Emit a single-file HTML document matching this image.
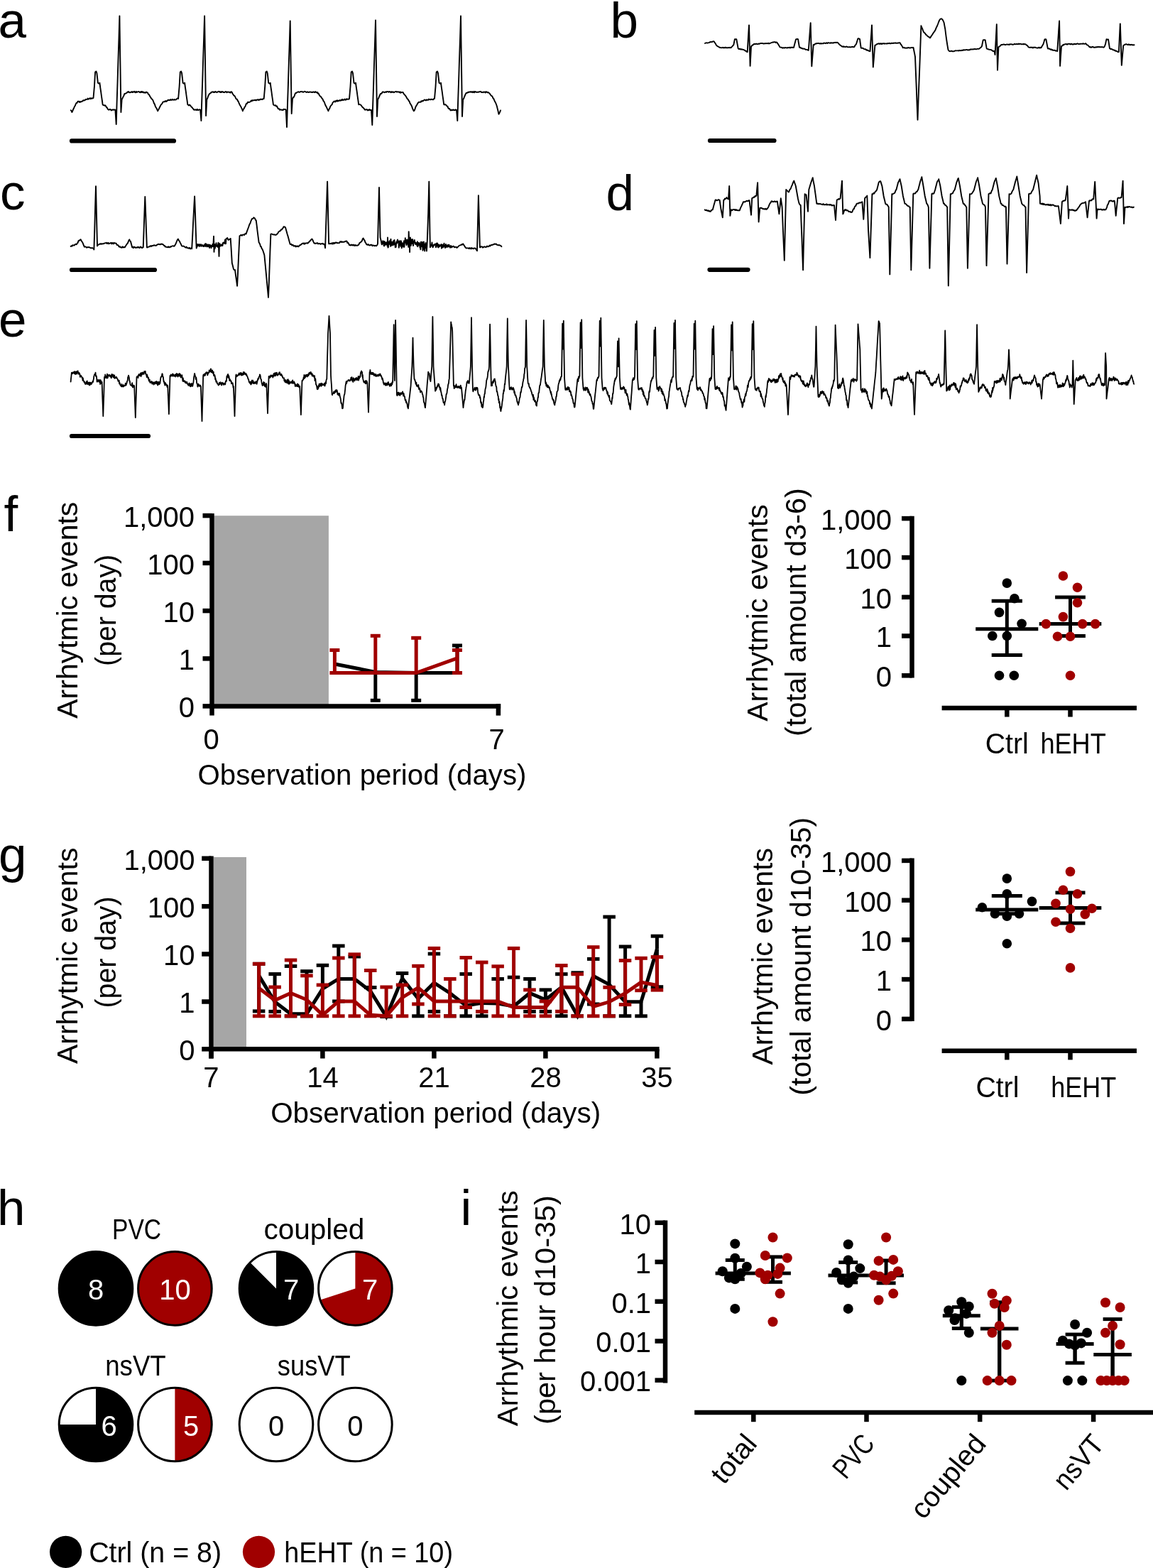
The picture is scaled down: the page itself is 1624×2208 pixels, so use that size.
<!DOCTYPE html>
<html><head><meta charset="utf-8"><title>Figure</title>
<style>
html,body{margin:0;padding:0;background:#fff;}
body{width:1624px;height:2208px;overflow:hidden;}
svg{display:block;font-family:'Liberation Sans', Arial, sans-serif;}
</style></head>
<body>
<svg width="1624" height="2208" viewBox="0 0 1624 2208">
<text x="-2.5" y="52.5" font-size="71" text-anchor="start" fill="#000">a</text>
<text x="859.5" y="52.5" font-size="71" text-anchor="start" fill="#000">b</text>
<text x="0.0" y="295.0" font-size="71" text-anchor="start" fill="#000">c</text>
<text x="853.5" y="295.5" font-size="71" text-anchor="start" fill="#000">d</text>
<text x="-2.0" y="474.0" font-size="71" text-anchor="start" fill="#000">e</text>
<text x="5.5" y="748.0" font-size="71" text-anchor="start" fill="#000">f</text>
<text x="-2.0" y="1228.0" font-size="71" text-anchor="start" fill="#000">g</text>
<text x="-4.0" y="1725.0" font-size="71" text-anchor="start" fill="#000">h</text>
<text x="648.5" y="1724.5" font-size="71" text-anchor="start" fill="#000">i</text>
<path d="M99.8 155.3L100.6 156.2L101.4 158.0L102.3 156.1L103.2 153.8L104.1 152.2L105.0 150.0L105.9 148.8L106.7 146.5L107.6 145.0L108.4 145.1L109.3 143.1L110.2 142.7L111.0 142.6L111.8 144.0L112.7 143.0L113.6 143.7L114.4 143.1L115.3 142.7L116.2 142.6L117.1 141.3L118.0 141.5L118.8 141.2L119.7 141.2L120.5 140.0L121.3 139.9L122.1 140.1L122.9 139.9L123.7 138.6L124.5 139.7L125.4 139.3L126.2 138.6L127.0 138.0L127.8 139.3L128.6 138.5L129.6 138.3L130.5 138.6L131.5 138.0L132.9 122.0L134.1 101.5L135.4 100.4L136.4 103.0L137.9 116.7L139.4 117.7L140.4 116.7L141.2 122.8L142.1 128.9L142.9 135.0L143.8 141.1L144.6 147.2L145.4 148.1L146.3 148.1L147.2 148.7L148.0 148.2L148.9 149.1L149.8 150.9L150.7 151.4L151.6 153.3L152.5 154.3L153.4 154.7L154.2 154.0L155.0 154.0L155.9 154.2L156.7 155.5L157.5 154.6L158.3 154.9L159.1 154.3L159.9 154.7L160.8 154.5L161.6 154.4L162.4 154.7L163.7 175.0L164.6 144.5L165.6 114.0L166.5 83.5L167.5 53.0L168.4 22.5L169.4 90.2L170.4 158.0L171.6 140.0L172.6 138.2L173.5 136.2L174.4 134.7L175.4 132.0L176.2 131.8L177.0 131.8L177.8 131.1L178.6 130.9L179.4 129.5L180.2 129.8L181.0 128.9L181.9 130.1L182.7 130.3L183.5 130.2L184.3 129.6L185.2 129.9L186.0 129.0L186.8 130.1L187.6 129.6L188.5 129.1L189.3 128.7L190.1 130.1L190.9 130.4L191.8 128.8L192.6 130.0L193.4 129.5L194.2 129.4L195.1 128.9L196.0 129.2L196.8 130.1L197.7 130.3L198.5 128.9L199.3 129.9L200.2 128.9L201.1 130.2L201.9 129.5L202.8 130.5L203.6 130.7L204.4 129.9L205.3 130.8L206.2 129.6L207.0 130.0L207.9 130.4L208.8 132.6L209.6 132.8L210.5 134.3L211.4 136.0L212.3 137.2L213.3 139.0L214.2 139.6L215.2 140.8L216.1 143.0L217.0 145.6L217.8 146.5L218.7 149.5L219.6 151.3L220.5 152.3L221.3 154.3L222.2 156.3L223.0 154.7L223.9 153.2L224.7 151.5L225.6 149.8L226.4 148.0L227.4 146.8L228.4 145.9L229.4 143.7L230.2 143.5L231.0 143.1L231.9 143.4L232.7 142.2L233.5 142.1L234.3 143.1L235.1 142.0L235.9 141.8L236.8 140.6L237.6 141.1L238.4 141.0L239.2 141.1L240.1 140.0L240.9 141.0L241.7 140.9L242.6 139.8L243.4 140.7L244.2 140.4L245.1 140.7L245.9 140.0L246.7 140.5L247.6 140.5L248.4 140.0L249.3 138.8L250.2 138.5L251.1 139.0L252.6 122.0L253.8 101.5L255.1 100.4L256.1 103.0L257.6 116.7L259.1 117.7L260.1 116.7L260.9 122.8L261.8 128.9L262.6 135.0L263.5 141.1L264.3 147.2L265.2 147.8L266.0 148.5L266.9 147.5L267.7 148.2L268.6 149.2L269.5 150.5L270.4 151.1L271.3 152.3L272.2 153.3L273.1 154.7L273.9 154.5L274.7 154.9L275.6 154.3L276.4 154.5L277.2 155.2L278.0 153.8L278.8 154.8L279.6 155.1L280.5 154.4L281.3 154.2L282.1 154.7L283.4 170.0L284.3 140.5L285.3 111.0L286.2 81.5L287.2 52.0L288.1 22.5L289.1 92.8L290.1 163.0L291.3 140.0L292.2 138.5L293.2 135.5L294.2 133.4L295.1 132.0L295.9 131.4L296.7 131.4L297.5 129.8L298.3 129.7L299.1 129.5L299.9 129.2L300.7 130.1L301.6 129.4L302.4 130.1L303.2 128.9L304.0 129.2L304.9 129.8L305.7 130.2L306.5 129.4L307.3 129.0L308.2 128.8L309.0 129.6L309.8 128.9L310.6 130.1L311.5 130.1L312.3 128.9L313.1 129.5L313.9 129.1L314.7 130.1L315.5 129.8L316.3 130.2L317.1 129.4L317.9 129.0L318.7 129.3L319.5 130.3L320.3 129.4L321.1 129.5L321.9 129.7L322.7 129.7L323.5 129.7L324.3 130.7L325.1 129.3L325.9 129.1L326.7 130.0L327.6 132.0L328.5 133.1L329.3 134.5L330.2 134.7L331.1 136.0L332.0 138.2L333.0 139.6L333.9 139.7L334.9 142.0L335.8 143.0L336.7 145.5L337.5 147.1L338.4 148.7L339.3 150.2L340.2 152.2L341.0 153.9L341.9 156.3L342.7 153.9L343.6 153.1L344.4 150.9L345.3 150.2L346.1 148.0L347.1 145.7L348.1 145.9L349.1 143.7L349.9 143.8L350.7 144.0L351.6 143.7L352.4 143.4L353.2 142.6L354.0 141.4L354.8 142.4L355.6 141.1L356.5 141.1L357.3 141.5L358.1 141.0L358.9 141.0L359.8 140.7L360.6 141.5L361.4 140.9L362.3 140.3L363.1 140.1L363.9 141.1L364.8 140.3L365.6 140.8L366.4 139.9L367.3 139.5L368.1 140.0L369.0 139.8L369.9 140.1L370.8 138.7L371.7 139.0L373.2 122.0L374.4 101.5L375.7 100.4L376.7 103.0L378.2 116.7L379.7 117.7L380.7 116.7L381.5 122.8L382.4 128.9L383.2 135.0L384.1 141.1L384.9 147.2L385.8 148.0L386.6 148.5L387.4 148.5L388.3 148.2L389.2 149.9L390.1 149.5L391.0 151.7L391.9 153.2L392.8 152.8L393.7 154.7L394.5 154.3L395.3 154.3L396.2 154.7L397.0 154.6L397.8 154.7L398.6 155.2L399.4 153.8L400.2 153.9L401.1 154.0L401.9 154.0L402.7 154.7L404.0 179.0L404.9 149.1L405.9 119.2L406.8 89.3L407.8 59.4L408.7 29.5L409.7 94.8L410.7 160.0L411.9 140.0L412.8 137.2L413.8 136.9L414.8 134.6L415.7 132.0L416.5 130.8L417.3 131.0L418.1 130.2L418.9 129.7L419.7 129.5L420.5 129.2L421.3 129.8L422.2 129.7L423.0 129.2L423.8 128.9L424.6 129.2L425.5 128.8L426.3 129.6L427.1 129.9L427.9 129.3L428.8 128.7L429.6 128.9L430.4 129.3L431.2 129.7L432.1 130.0L432.9 129.3L433.7 129.5L434.5 130.1L435.3 129.8L436.1 129.5L436.9 129.4L437.7 129.6L438.5 130.0L439.3 129.6L440.1 130.1L440.9 129.7L441.7 129.3L442.5 129.9L443.3 130.2L444.1 129.1L444.9 129.8L445.7 129.8L446.5 130.7L447.3 130.0L448.2 132.0L449.1 132.2L449.9 134.3L450.8 135.3L451.7 136.0L452.6 137.0L453.6 138.7L454.5 139.5L455.5 142.2L456.4 143.0L457.3 145.2L458.1 147.5L459.0 149.2L459.9 150.9L460.8 152.9L461.6 154.5L462.5 156.3L463.3 153.9L464.2 153.1L465.0 150.4L465.9 149.0L466.7 148.0L467.7 147.1L468.7 144.3L469.7 143.7L470.5 142.7L471.3 142.5L472.2 143.6L473.0 142.1L473.8 141.6L474.6 142.8L475.4 141.3L476.2 142.4L477.1 141.8L477.9 141.9L478.7 141.0L479.5 141.7L480.4 141.0L481.2 141.3L482.0 139.8L482.9 141.1L483.7 140.5L484.5 140.8L485.4 139.6L486.2 140.7L487.0 140.9L487.9 139.3L488.7 140.0L489.5 139.4L490.4 139.6L491.2 139.8L492.0 139.0L493.5 122.0L494.7 101.5L496.0 100.4L497.0 103.0L498.5 116.7L500.0 117.7L501.0 116.7L501.8 122.8L502.7 128.9L503.5 135.0L504.4 141.1L505.2 147.2L506.1 147.0L506.9 147.1L507.8 147.5L508.6 148.2L509.5 149.5L510.4 150.8L511.3 151.3L512.2 152.3L513.1 153.4L514.0 154.7L514.8 154.4L515.6 154.6L516.5 153.9L517.3 154.7L518.1 155.6L518.9 154.5L519.7 155.1L520.5 154.1L521.4 155.0L522.2 155.2L523.0 154.7L524.3 176.0L525.2 146.5L526.2 117.0L527.1 87.5L528.1 58.0L529.0 28.5L530.0 96.2L531.0 164.0L532.2 140.0L533.2 138.3L534.1 136.0L535.0 134.0L536.0 132.0L536.8 131.8L537.6 131.7L538.4 129.9L539.2 129.3L540.0 129.5L540.8 129.9L541.6 130.2L542.5 129.5L543.3 129.4L544.1 129.9L544.9 128.9L545.8 129.1L546.6 129.0L547.4 129.7L548.2 129.2L549.1 129.0L549.9 129.8L550.7 130.3L551.5 129.1L552.4 129.9L553.2 129.3L554.0 129.5L554.8 130.2L555.6 129.7L556.4 129.2L557.2 129.1L558.0 128.8L558.8 129.6L559.6 129.5L560.4 129.1L561.2 129.5L562.0 129.5L562.8 130.3L563.6 129.2L564.4 130.8L565.2 129.9L566.0 130.1L566.8 129.9L567.6 130.0L568.5 131.8L569.4 133.0L570.2 133.7L571.1 134.8L572.0 136.0L572.9 137.8L573.9 139.4L574.8 140.0L575.8 142.0L576.7 143.0L577.6 145.7L578.4 146.7L579.3 148.2L580.2 150.1L581.1 152.9L581.9 154.7L582.8 156.3L583.6 155.5L584.5 153.6L585.3 150.9L586.2 149.1L587.0 148.0L588.0 146.1L589.0 144.6L590.0 143.7L590.8 143.8L591.6 143.9L592.5 143.7L593.3 142.3L594.1 143.1L594.9 141.9L595.7 141.8L596.5 142.1L597.4 140.7L598.2 140.5L599.0 141.0L599.8 141.5L600.7 140.5L601.5 140.5L602.3 140.8L603.2 140.9L604.0 139.6L604.8 140.1L605.7 140.2L606.5 140.2L607.3 139.6L608.2 140.2L609.0 140.0L610.0 140.5L611.0 139.1L612.0 139.0L613.5 122.0L614.7 101.5L616.0 100.4L617.0 103.0L618.5 116.7L620.0 117.7L621.0 116.7L621.8 122.8L622.7 128.9L623.5 135.0L624.4 141.1L625.2 147.2L626.1 147.5L626.9 147.0L627.8 147.5L628.6 148.2L629.5 149.6L630.4 149.7L631.3 152.1L632.2 153.3L633.1 152.9L634.0 154.7L634.8 155.5L635.6 154.5L636.5 155.2L637.3 155.2L638.1 154.3L638.9 155.0L639.7 155.0L640.5 155.3L641.4 154.3L642.2 155.2L643.0 154.7L644.3 170.0L645.2 140.5L646.2 111.0L647.1 81.5L648.1 52.0L649.0 22.5L650.0 93.2L651.0 164.0L652.2 140.0L653.2 138.8L654.1 136.3L655.0 134.1L656.0 132.0L656.8 130.8L657.6 131.0L658.4 130.2L659.2 130.4L660.0 129.5L660.8 129.8L661.6 129.6L662.5 128.9L663.3 129.8L664.1 129.7L664.9 128.9L665.8 130.2L666.6 129.8L667.4 128.8L668.2 130.3L669.1 128.9L669.9 129.2L670.7 129.9L671.5 129.7L672.4 129.6L673.2 129.8L674.0 129.5L674.8 129.5L675.6 129.2L676.4 129.0L677.2 128.8L678.0 130.0L678.8 130.1L679.6 129.8L680.4 130.2L681.2 129.5L682.0 129.4L682.8 129.6L683.6 130.5L684.4 129.1L685.2 129.9L686.0 129.5L686.8 130.5L687.6 130.0L688.5 130.6L689.3 131.4L690.2 132.4L691.0 133.6L691.9 134.8L692.7 135.0L693.6 136.1L694.5 138.4L695.3 138.9L696.1 140.9L697.0 143.0L698.0 144.6L699.0 147.0L700.0 150.0L700.8 153.6L701.7 157.1L702.5 160.7L703.3 159.4L704.2 157.6L705.0 155.4" fill="none" stroke="#000" stroke-width="1.9" stroke-linejoin="round" stroke-linecap="round"/>
<path d="M993.0 61.0L993.9 60.5L994.7 60.3L995.6 60.4L996.4 60.5L997.3 60.4L998.1 60.2L999.0 59.9L999.8 59.3L1000.7 59.3L1001.5 59.0L1002.4 59.1L1003.2 59.0L1004.1 58.4L1004.9 58.3L1005.8 58.4L1006.8 60.3L1007.7 61.2L1008.7 63.3L1009.5 64.2L1010.3 64.9L1011.2 65.5L1012.0 65.6L1012.8 66.4L1013.6 66.9L1014.4 67.0L1015.3 67.1L1016.1 67.4L1016.9 67.2L1017.8 66.8L1018.6 67.4L1019.4 67.0L1020.3 67.2L1021.1 67.3L1021.9 66.6L1022.7 67.4L1023.6 67.3L1024.4 67.2L1025.2 67.2L1026.1 67.2L1026.9 66.9L1027.7 67.3L1028.6 66.8L1029.4 67.3L1030.4 66.3L1031.3 65.4L1032.3 64.2L1033.3 63.3L1034.1 59.2L1034.9 55.1L1036.1 55.2L1037.3 55.1L1038.1 59.5L1038.9 63.9L1039.7 68.3L1040.6 69.0L1041.4 69.1L1042.3 68.6L1043.1 69.5L1044.0 69.6L1044.8 69.2L1045.7 69.8L1046.5 69.9L1047.4 69.9L1048.2 70.6L1049.1 70.8L1050.0 71.8L1050.9 71.8L1051.8 73.0L1052.7 73.2L1053.8 54.3L1055.0 35.4L1056.6 92.9L1058.0 65.3L1058.8 64.8L1059.6 63.5L1060.4 63.6L1061.2 62.6L1062.0 61.8L1062.8 62.2L1063.6 62.0L1064.4 62.0L1065.2 61.5L1066.0 62.0L1066.8 62.1L1067.7 62.0L1068.5 61.5L1069.3 61.8L1070.1 61.5L1070.9 61.1L1071.7 61.0L1072.5 61.0L1073.3 61.1L1074.1 61.0L1074.9 61.3L1075.7 61.5L1076.5 61.3L1077.3 61.2L1078.1 61.4L1078.9 61.0L1079.8 61.1L1080.6 61.4L1081.4 61.0L1082.2 60.8L1083.0 61.5L1083.8 61.2L1084.6 61.0L1085.6 60.5L1086.5 60.1L1087.5 59.8L1088.5 59.4L1089.3 59.6L1090.2 59.2L1091.0 59.1L1091.9 59.3L1092.7 60.0L1093.6 59.4L1094.4 59.8L1095.2 61.1L1096.0 62.1L1096.8 63.4L1097.6 64.7L1098.4 66.3L1099.4 66.6L1100.3 66.7L1101.3 66.9L1102.3 67.7L1103.1 67.3L1104.0 67.3L1104.8 67.6L1105.6 67.1L1106.4 67.0L1107.3 67.4L1108.1 67.3L1108.9 67.6L1109.7 66.9L1110.6 67.2L1111.4 67.1L1112.2 66.7L1113.0 67.6L1113.9 66.8L1114.7 66.7L1115.5 67.0L1116.3 66.6L1117.2 67.1L1118.0 66.9L1119.0 63.1L1120.0 59.3L1121.0 55.5L1122.0 55.2L1123.0 54.9L1124.0 55.1L1125.0 61.0L1126.0 66.9L1126.9 66.7L1127.7 67.6L1128.6 67.5L1129.4 68.2L1130.3 68.2L1131.1 68.9L1132.0 68.5L1132.8 68.7L1133.7 69.0L1134.5 69.8L1135.4 69.9L1136.2 69.9L1137.1 69.9L1137.9 70.7L1138.8 70.8L1139.8 57.9L1140.7 45.1L1141.7 32.2L1143.3 93.3L1144.1 83.2L1144.9 73.1L1145.7 63.0L1146.6 63.2L1147.4 62.5L1148.3 61.6L1149.1 61.3L1150.0 61.5L1150.8 61.0L1151.6 61.1L1152.4 60.9L1153.2 60.9L1154.1 61.4L1154.9 61.6L1155.7 60.9L1156.5 61.6L1157.3 61.1L1158.1 61.3L1158.9 61.4L1159.7 61.4L1160.5 60.4L1161.4 60.6L1162.2 60.9L1163.0 61.2L1163.8 60.3L1164.6 60.4L1165.4 61.0L1166.2 60.2L1167.0 60.4L1167.8 60.3L1168.7 60.6L1169.5 60.8L1170.3 60.0L1171.1 60.5L1171.9 60.5L1172.7 60.5L1173.5 60.2L1174.3 60.5L1175.1 59.9L1176.0 59.9L1176.8 59.7L1177.6 60.2L1178.4 59.8L1179.2 59.8L1180.0 60.3L1180.9 60.9L1181.8 62.2L1182.6 62.9L1183.5 63.7L1184.3 64.1L1185.2 64.9L1186.0 65.7L1186.8 65.4L1187.7 66.0L1188.5 65.3L1189.4 65.8L1190.2 66.1L1191.0 66.1L1191.9 65.5L1192.7 65.7L1193.6 66.3L1194.4 66.1L1195.2 66.4L1196.1 66.4L1196.9 66.0L1197.8 66.5L1198.6 66.4L1199.4 66.0L1200.3 66.1L1201.1 65.8L1202.0 66.2L1202.8 66.3L1203.6 65.7L1204.4 63.8L1205.2 63.1L1206.0 62.0L1207.2 58.2L1208.3 54.5L1209.2 54.3L1210.1 54.5L1211.0 55.1L1211.8 61.2L1212.7 67.3L1213.6 67.8L1214.4 67.7L1215.3 67.8L1216.1 68.3L1217.0 69.1L1217.8 69.3L1218.7 69.1L1219.5 69.6L1220.4 70.7L1221.2 70.3L1222.1 71.0L1222.9 71.1L1223.8 71.8L1224.6 72.0L1225.5 72.2L1226.3 59.9L1227.2 47.7L1228.0 35.4L1228.9 65.0L1229.8 94.5L1230.7 84.2L1231.5 74.0L1232.4 63.7L1233.4 63.5L1234.3 62.8L1235.3 62.0L1236.3 61.8L1237.1 61.4L1237.9 61.3L1238.7 62.0L1239.5 61.3L1240.3 61.1L1241.1 62.1L1242.0 61.2L1242.8 61.9L1243.6 61.1L1244.4 61.4L1245.2 61.1L1246.0 61.7L1246.8 61.4L1247.6 61.4L1248.4 61.5L1249.2 61.6L1250.0 61.0L1250.8 61.3L1251.6 61.1L1252.5 60.7L1253.3 61.4L1254.1 61.1L1254.9 61.3L1255.7 60.6L1256.5 60.9L1257.3 60.8L1258.1 61.1L1258.9 60.4L1259.7 60.6L1260.5 60.7L1261.3 60.3L1262.1 60.7L1263.0 60.9L1263.8 60.5L1264.6 60.7L1265.4 60.6L1266.2 60.2L1267.0 60.3L1267.8 60.4L1268.6 62.3L1269.4 63.0L1270.2 64.5L1271.0 65.5L1271.8 67.3L1272.6 67.0L1273.4 66.9L1274.2 67.7L1275.1 67.4L1275.9 67.6L1276.7 67.7L1277.5 67.3L1278.3 67.6L1279.2 67.1L1280.0 67.0L1280.8 67.5L1281.6 67.4L1282.4 67.5L1283.2 67.0L1284.0 67.2L1284.9 66.9L1285.7 67.4L1286.5 66.9L1287.3 71.3L1288.2 75.6L1289.0 80.0L1289.9 102.2L1290.8 124.4L1291.6 146.6L1292.5 168.8L1293.3 146.7L1294.1 124.6L1295.0 102.5L1295.8 80.4L1296.6 58.3L1297.4 36.2L1298.4 39.0L1299.3 40.7L1300.3 43.7L1301.3 45.6L1302.2 46.3L1303.2 47.2L1304.1 48.8L1305.1 49.3L1306.0 50.5L1307.0 51.3L1308.0 52.1L1308.9 52.3L1309.9 53.5L1310.9 52.2L1312.0 50.3L1313.0 49.0L1313.9 47.5L1314.9 45.9L1315.8 44.9L1316.8 43.4L1317.7 41.7L1318.8 38.9L1320.0 36.5L1321.2 33.5L1322.3 30.5L1323.2 28.5L1324.0 27.3L1325.6 26.3L1326.6 26.7L1327.6 27.6L1328.6 29.6L1329.6 31.8L1330.4 36.4L1331.3 41.0L1332.2 48.5L1333.2 56.0L1334.3 63.1L1335.5 70.2L1337.0 72.0L1338.6 72.2L1339.4 71.7L1340.2 71.7L1341.0 72.3L1341.8 72.1L1342.6 72.3L1343.4 72.3L1344.2 72.1L1345.0 71.5L1345.8 71.3L1346.6 71.4L1347.4 71.4L1348.2 71.4L1349.1 71.4L1349.9 71.1L1350.7 71.6L1351.5 70.9L1352.3 71.0L1353.1 71.4L1353.9 71.3L1354.7 70.7L1355.5 70.6L1356.3 71.1L1357.1 70.2L1357.9 70.2L1358.7 70.6L1359.5 70.5L1360.3 70.1L1361.1 69.9L1361.9 70.0L1362.7 70.5L1363.5 70.1L1364.3 70.6L1365.1 70.3L1365.9 70.4L1366.7 69.4L1367.5 69.5L1368.3 69.3L1369.2 69.6L1370.0 69.5L1370.8 69.1L1371.6 69.5L1372.4 69.0L1373.2 69.2L1374.0 69.0L1374.8 69.5L1375.6 69.1L1376.4 68.9L1377.2 68.6L1378.0 68.9L1378.8 68.9L1379.6 68.2L1380.5 67.5L1381.3 67.0L1382.2 66.1L1383.0 65.0L1383.8 60.8L1384.7 56.5L1385.7 56.2L1386.7 56.1L1387.7 56.5L1388.7 62.4L1389.7 68.3L1390.5 68.9L1391.4 69.2L1392.2 69.2L1393.0 69.8L1393.9 69.9L1394.7 69.9L1395.5 70.1L1396.3 70.2L1397.2 71.1L1398.0 71.7L1398.8 72.0L1399.7 71.9L1400.5 72.2L1401.5 77.1L1402.7 55.6L1403.8 34.2L1405.0 98.8L1406.4 66.3L1407.4 65.6L1408.3 65.1L1409.3 64.1L1410.3 63.0L1411.1 63.1L1411.9 62.8L1412.7 62.9L1413.5 62.5L1414.4 62.5L1415.2 63.0L1416.0 63.2L1416.8 62.8L1417.6 62.6L1418.4 62.5L1419.2 62.6L1420.0 62.9L1420.9 62.5L1421.7 63.0L1422.5 62.1L1423.3 62.3L1424.1 62.4L1424.9 62.3L1425.7 62.7L1426.5 62.6L1427.3 62.7L1428.2 62.3L1429.0 61.7L1429.8 62.2L1430.6 62.2L1431.4 62.1L1432.2 61.8L1433.0 62.2L1433.8 62.4L1434.7 61.5L1435.5 62.1L1436.3 61.7L1437.1 61.9L1437.9 61.8L1438.8 62.3L1439.6 62.4L1440.5 62.2L1441.3 61.8L1442.2 62.6L1443.1 61.9L1443.9 62.2L1444.8 62.4L1445.6 63.5L1446.5 63.7L1447.3 64.4L1448.1 65.8L1449.0 66.6L1449.8 66.9L1450.6 66.7L1451.5 66.8L1452.3 66.7L1453.1 66.6L1454.0 66.8L1454.8 67.5L1455.6 66.6L1456.5 66.8L1457.3 66.8L1458.2 66.7L1459.0 67.1L1459.8 67.4L1460.7 67.5L1461.5 67.3L1462.3 67.5L1463.2 66.7L1464.0 67.0L1464.8 67.7L1465.7 66.8L1466.5 67.3L1467.5 65.3L1468.5 63.7L1469.5 62.0L1470.5 58.8L1471.4 55.5L1472.4 55.3L1473.4 55.5L1474.6 61.9L1475.8 68.3L1476.6 68.6L1477.5 68.3L1478.3 68.8L1479.2 69.7L1480.0 69.2L1480.8 70.2L1481.7 69.7L1482.5 70.7L1483.3 70.7L1484.2 70.9L1485.0 70.6L1485.8 70.8L1486.7 71.7L1487.5 71.4L1488.4 71.6L1489.2 72.2L1490.2 58.0L1491.1 43.7L1492.1 29.5L1493.1 92.9L1494.0 78.9L1495.0 64.9L1495.8 64.7L1496.6 64.3L1497.4 62.9L1498.2 63.4L1499.0 62.4L1499.8 62.4L1500.6 62.2L1501.4 61.9L1502.2 62.2L1503.0 62.8L1503.8 62.0L1504.6 61.8L1505.4 61.8L1506.2 61.8L1507.1 62.0L1507.9 62.5L1508.7 61.7L1509.5 61.7L1510.3 62.5L1511.1 62.5L1511.9 62.5L1512.7 61.7L1513.5 61.8L1514.3 62.4L1515.1 61.9L1515.9 62.1L1516.7 61.6L1517.5 61.3L1518.3 61.6L1519.1 62.0L1519.9 62.0L1520.7 61.8L1521.5 61.6L1522.4 61.7L1523.2 61.6L1524.0 61.6L1524.8 61.9L1525.6 61.2L1526.4 61.6L1527.2 61.9L1528.0 61.8L1528.8 61.1L1529.6 61.4L1530.4 62.7L1531.2 63.4L1532.0 63.5L1532.9 64.4L1533.7 65.2L1534.5 66.3L1535.3 65.9L1536.2 66.8L1537.0 66.2L1537.8 66.7L1538.6 65.9L1539.5 65.8L1540.3 66.7L1541.1 66.6L1542.0 66.8L1542.8 66.5L1543.6 66.3L1544.4 66.6L1545.3 65.9L1546.1 66.3L1546.9 66.2L1547.7 65.9L1548.6 66.4L1549.4 66.1L1550.2 66.3L1551.1 66.2L1551.9 66.1L1552.7 66.2L1553.5 66.4L1554.4 66.8L1555.2 66.3L1556.1 64.6L1557.0 62.0L1558.5 55.1L1559.3 55.6L1560.2 55.7L1561.0 55.5L1562.0 61.9L1563.0 68.3L1563.8 68.4L1564.6 69.4L1565.4 69.0L1566.2 69.1L1567.0 69.8L1567.8 70.4L1568.6 70.3L1569.5 70.9L1570.3 70.8L1571.1 71.8L1571.9 71.6L1572.7 72.0L1573.5 72.3L1574.3 73.0L1575.1 73.4L1575.9 73.2L1576.8 53.3L1577.8 33.4L1578.8 62.7L1579.8 91.9L1580.6 82.7L1581.4 73.5L1582.2 64.3L1583.0 63.7L1583.9 63.0L1584.7 62.4L1585.6 62.6L1586.4 62.1L1587.3 62.5L1588.1 63.0L1589.0 63.0L1589.8 62.3L1590.7 63.2L1591.5 62.8L1592.4 63.4L1593.2 62.9L1594.1 62.8L1594.9 63.2L1595.8 63.6L1596.6 63.2L1597.5 63.3" fill="none" stroke="#000" stroke-width="1.9" stroke-linejoin="round" stroke-linecap="round"/>
<path d="M99.6 346.9L100.5 346.2L101.4 346.7L102.2 345.2L103.1 345.4L104.0 345.5L104.8 345.6L105.6 344.3L106.4 343.8L107.2 344.3L108.0 344.0L108.8 342.3L109.6 342.1L110.4 339.2L111.2 338.6L112.1 338.7L112.9 337.5L113.8 337.3L114.9 339.7L116.0 341.0L117.0 343.1L118.0 345.8L119.0 347.7L119.8 347.5L120.7 347.5L121.5 348.0L122.3 348.8L123.1 348.1L124.0 348.0L124.8 348.4L125.6 348.0L126.5 348.5L127.3 349.1L128.1 349.2L128.9 349.4L129.8 349.0L130.6 349.5L131.5 349.6L132.4 351.5L133.3 321.8L134.1 292.0L135.0 262.3L136.0 304.4L137.0 346.4L138.0 344.7L139.0 344.5L140.0 344.0L140.8 343.3L141.6 343.8L142.5 343.1L143.3 343.8L144.1 343.3L144.9 343.3L145.8 343.3L146.6 342.7L147.4 342.5L148.2 342.4L149.0 342.2L149.9 341.7L150.7 343.0L151.5 342.5L152.3 341.8L153.1 343.3L154.0 342.6L154.8 342.7L155.6 342.4L156.4 341.8L157.3 343.4L158.1 341.9L158.9 342.3L159.7 343.4L160.5 341.8L161.4 342.5L162.2 342.5L163.0 342.5L163.8 342.9L164.7 345.0L165.5 344.9L166.3 345.1L167.2 346.8L168.0 347.7L168.9 346.9L169.7 348.2L170.6 348.6L171.5 348.7L172.3 347.3L173.2 348.5L174.1 347.9L174.9 348.3L175.8 348.4L176.7 346.7L177.7 345.3L178.6 343.7L179.5 343.0L180.4 341.3L181.4 338.5L182.3 337.3L183.2 339.5L184.0 340.0L185.1 344.2L186.2 348.4L187.0 347.6L187.8 349.2L188.6 347.8L189.5 347.7L190.3 348.8L191.1 348.5L191.9 348.9L192.7 348.4L193.5 348.6L194.4 347.6L195.2 348.7L196.0 348.4L196.8 349.2L197.6 347.5L198.4 347.6L199.3 348.7L200.1 349.2L200.9 348.3L201.7 348.4L202.6 324.6L203.4 300.8L204.3 277.0L205.2 300.8L206.0 324.6L206.9 348.4L207.7 348.5L208.5 348.0L209.3 347.5L210.1 347.4L210.9 347.4L211.8 346.1L212.6 346.4L213.4 346.9L214.2 345.8L215.0 346.0L215.8 345.8L216.7 345.3L217.5 345.3L218.4 345.7L219.2 345.7L220.0 345.9L220.9 344.9L221.7 344.3L222.6 344.4L223.4 343.7L224.2 343.9L225.1 344.4L225.9 344.3L226.8 343.5L227.6 343.8L228.5 343.7L229.3 344.1L230.2 344.8L231.0 345.8L231.9 345.9L232.7 347.6L233.6 347.5L234.4 347.6L235.3 348.4L236.2 348.1L237.0 347.2L237.9 348.3L238.8 348.2L239.6 347.3L240.5 347.8L241.4 346.8L242.2 346.6L243.1 346.4L244.0 346.2L244.8 346.8L245.7 346.4L246.6 344.9L247.6 343.2L248.5 341.0L249.7 338.0L250.8 336.5L251.9 338.7L253.0 340.0L254.0 342.1L255.0 344.0L256.0 346.4L256.8 346.6L257.7 346.7L258.5 346.5L259.3 347.1L260.2 347.8L261.0 348.1L261.8 348.7L262.7 347.6L263.5 349.1L264.4 349.2L265.2 349.2L266.0 349.9L266.9 348.7L267.7 350.0L268.5 350.5L269.4 349.3L270.2 350.2L271.2 331.8L272.1 313.4L273.1 294.9L274.1 276.5L275.0 300.8L275.8 325.2L276.7 349.5L277.5 346.9L278.0 344.0L278.5 344.8L279.0 346.3L279.5 344.2L280.0 345.5L280.5 344.2L281.0 346.8L281.5 346.7L282.0 344.3L282.5 346.0L283.0 346.2L283.5 344.3L284.0 346.8L284.5 345.8L285.0 345.9L285.5 345.1L286.0 346.4L286.5 347.1L287.0 345.8L287.5 346.9L288.0 344.7L288.5 345.3L289.0 343.1L289.5 347.0L290.0 343.1L290.5 343.7L291.0 346.2L291.5 347.4L292.0 347.3L292.5 344.5L293.0 347.1L293.5 346.8L294.0 344.4L294.5 346.9L295.0 349.1L295.5 344.8L296.0 345.0L296.5 347.4L297.0 345.8L297.5 349.4L298.0 345.7L298.5 346.2L299.0 347.0L299.5 343.6L300.0 347.1L300.5 342.8L301.0 332.8L301.5 354.8L302.0 343.6L302.5 350.2L303.0 348.8L303.5 345.2L304.0 344.7L304.5 342.2L305.0 346.7L305.5 346.3L306.0 345.5L306.5 347.9L307.0 345.6L307.5 341.6L308.0 347.6L308.5 360.9L309.0 343.8L309.5 343.1L310.0 346.8L310.5 346.5L311.0 344.6L311.5 344.8L312.0 346.1L312.5 344.6L313.0 343.9L313.5 346.0L314.0 342.1L314.5 341.7L315.0 341.5L315.5 341.6L316.0 343.0L316.5 341.7L317.0 337.5L317.5 337.6L318.0 343.3L318.5 336.4L319.4 335.8L320.3 335.0L321.1 337.3L322.0 338.0L322.9 336.9L323.8 337.2L324.7 335.9L325.5 348.0L326.8 370.3L327.9 374.6L329.0 379.0L330.0 380.2L331.0 380.0L332.0 387.6L333.1 395.1L334.1 402.7L335.0 385.1L335.8 367.4L336.6 349.8L337.5 332.1L338.3 331.8L339.1 331.0L340.0 330.9L340.8 331.8L341.6 330.8L342.4 330.4L343.2 330.4L344.0 331.1L344.9 329.6L345.7 329.0L346.5 329.6L347.4 327.2L348.2 324.8L349.1 322.5L350.0 320.1L350.8 317.7L351.7 315.3L352.5 314.3L353.4 311.3L354.2 309.6L355.0 308.0L356.2 308.0L357.4 306.3L358.2 306.9L359.0 307.5L359.9 309.9L360.7 310.2L361.7 317.9L362.6 325.7L363.6 333.4L364.6 341.2L365.4 342.4L366.2 344.0L367.0 347.0L367.9 347.3L368.7 350.2L369.5 350.8L370.3 352.8L371.4 356.1L372.4 359.3L373.2 367.8L374.0 376.3L374.8 384.8L375.6 393.3L376.4 401.8L377.2 410.3L378.0 418.8L378.9 396.5L379.7 374.2L380.5 351.9L381.4 329.6L382.2 329.4L383.0 329.4L383.8 330.2L384.6 330.4L385.5 330.2L386.3 330.6L387.1 330.4L387.9 330.9L388.8 330.8L389.7 330.2L390.6 329.1L391.4 328.5L392.3 326.4L393.2 326.0L394.1 325.2L395.0 325.0L395.9 323.2L396.8 323.5L397.7 322.2L398.6 321.1L399.5 319.2L400.4 319.7L401.2 319.4L402.1 320.5L402.9 323.4L403.7 326.3L404.5 329.2L405.4 332.1L406.2 335.1L407.0 338.0L407.8 340.9L408.6 343.8L409.5 344.0L410.4 343.7L411.3 345.6L412.1 344.8L413.0 345.2L413.9 346.7L414.8 346.3L415.6 345.9L416.4 347.4L417.2 346.4L418.1 347.2L418.9 346.3L419.7 347.2L420.5 347.4L421.4 345.9L422.2 345.2L423.1 345.2L423.9 344.6L424.8 343.4L425.6 343.3L426.5 342.6L427.4 343.3L428.2 342.2L429.1 343.7L430.0 342.7L430.9 342.3L431.7 342.5L432.6 342.1L433.5 342.7L434.4 341.4L435.2 340.9L436.1 339.8L437.0 339.0L438.2 337.4L439.4 336.4L440.4 338.0L441.4 340.3L442.4 342.3L443.2 342.9L444.0 342.4L444.8 343.0L445.7 342.6L446.5 342.1L447.3 342.2L448.1 343.5L448.9 343.0L449.8 342.9L450.6 343.2L451.4 343.9L452.2 343.1L453.0 343.2L453.8 343.3L454.7 342.8L455.5 343.8L456.3 343.8L457.1 343.9L458.1 349.2L459.1 318.0L460.1 286.8L461.1 255.6L462.1 299.4L463.1 343.3L463.9 343.2L464.8 343.0L465.6 343.0L466.5 343.3L467.3 342.2L468.2 343.6L469.0 341.9L469.8 343.2L470.7 341.8L471.5 342.8L472.4 341.8L473.2 341.3L474.1 342.1L474.9 341.9L475.7 342.4L476.5 342.2L477.3 342.1L478.1 342.1L478.9 340.3L479.7 340.7L480.5 340.1L481.3 341.1L482.1 340.4L482.9 340.8L483.7 340.7L484.5 340.9L485.3 340.2L486.1 340.4L486.9 339.6L487.7 339.4L488.5 339.6L489.3 342.1L490.1 341.6L491.0 342.6L491.8 344.9L492.6 345.3L493.4 344.9L494.3 345.6L495.1 344.5L496.0 344.8L496.8 345.7L497.7 344.5L498.5 345.3L499.3 346.1L500.2 344.8L501.0 345.7L501.9 345.7L502.7 345.5L503.6 345.8L504.4 345.3L505.3 344.6L506.2 342.3L507.2 341.6L508.1 341.1L509.0 340.0L509.9 339.3L510.8 336.4L511.7 335.4L512.6 337.3L513.5 338.3L514.5 341.4L515.4 342.4L516.3 344.3L517.1 344.5L517.9 344.8L518.7 344.0L519.5 345.2L520.3 345.4L521.1 345.7L521.9 344.7L522.7 344.8L523.6 344.8L524.4 346.2L525.2 345.5L526.0 345.5L526.8 345.9L527.6 346.3L528.4 345.7L529.2 345.9L530.0 346.3L531.0 345.3L532.0 343.3L533.0 303.6L534.0 263.9L534.8 299.1L535.6 334.4L537.0 340.0L537.5 343.1L537.9 344.4L538.4 343.5L538.8 341.7L539.3 339.2L539.7 341.8L540.2 340.0L540.6 345.7L541.1 346.5L541.5 340.0L542.0 342.4L542.4 340.9L542.9 344.9L543.3 343.4L543.8 341.9L544.2 344.0L544.7 343.7L545.1 340.6L545.6 346.5L546.0 334.5L546.5 348.6L546.9 348.2L547.4 340.4L547.8 344.1L548.3 342.9L548.7 343.5L549.2 338.8L549.6 342.5L550.1 346.8L550.5 336.7L551.0 346.1L551.4 343.8L551.9 340.7L552.3 344.0L552.8 342.5L553.2 345.5L553.7 341.3L554.1 339.2L554.6 344.6L555.0 344.2L555.5 337.9L555.9 344.2L556.4 342.7L556.8 348.4L557.3 343.7L557.7 348.0L558.2 340.7L558.6 341.0L559.1 342.5L559.5 338.7L560.0 337.5L560.4 341.2L560.9 339.7L561.3 339.5L561.8 348.8L562.2 344.8L562.7 345.3L563.1 339.1L563.6 339.9L564.0 341.1L564.5 347.1L564.9 339.1L565.4 343.7L565.8 349.4L566.3 346.0L566.7 342.2L567.2 346.9L567.6 342.4L568.1 345.1L568.5 347.9L569.0 339.2L569.4 347.7L569.9 340.9L570.3 341.6L570.8 335.2L571.2 341.2L571.7 337.8L572.1 343.2L572.6 345.2L573.0 339.4L573.5 337.5L573.9 342.7L574.4 343.6L574.8 340.2L575.3 347.9L575.7 326.3L576.2 339.4L576.6 341.5L577.1 355.0L577.5 337.5L578.0 334.5L578.4 339.6L578.9 345.7L579.3 337.1L579.8 342.4L580.2 343.0L580.7 339.8L581.1 336.9L581.6 339.9L582.0 346.0L582.5 339.9L582.9 341.3L583.4 340.9L583.8 337.9L584.3 341.1L584.7 343.7L585.2 341.4L585.6 343.4L586.1 344.1L586.5 342.2L587.0 342.5L587.4 346.0L587.9 340.3L588.3 347.2L588.8 345.5L589.2 345.3L589.7 342.0L590.1 344.8L590.6 342.2L591.0 344.4L591.5 348.3L591.9 347.3L592.4 351.3L592.8 340.9L593.3 340.7L593.7 344.1L594.2 347.3L594.6 345.7L595.1 340.9L595.5 352.8L596.0 351.3L596.4 350.7L596.9 340.5L597.3 345.1L597.8 343.7L598.2 353.5L598.7 346.4L599.1 349.1L599.6 342.0L600.0 344.3L600.5 346.4L600.9 353.5L601.4 346.1L601.8 338.5L603.2 300.0L604.3 255.6L605.5 330.0L605.9 348.2L607.0 346.5L607.5 344.9L608.0 344.3L608.5 341.5L609.0 346.0L609.5 348.3L610.0 347.8L610.5 345.3L611.0 345.8L611.5 344.3L612.0 344.8L612.5 344.2L613.0 343.6L613.5 345.7L614.0 348.4L614.5 343.2L615.0 342.5L615.5 345.8L616.0 342.5L616.5 347.7L617.0 345.9L617.5 348.6L618.0 344.3L618.5 345.0L619.0 347.3L619.5 346.5L620.0 345.3L620.5 345.2L621.0 346.3L621.5 344.0L622.0 349.7L622.5 345.2L623.0 346.1L623.5 344.6L624.0 348.5L624.5 347.0L625.0 346.3L625.5 342.7L626.0 346.7L626.5 347.4L627.0 349.1L627.5 346.2L628.0 344.0L628.5 346.8L629.0 347.7L629.5 348.1L630.0 345.7L630.5 345.0L631.0 347.1L631.5 347.4L632.0 344.8L632.5 344.8L633.0 346.9L633.5 346.9L634.0 348.8L634.5 347.9L635.0 345.9L635.5 347.7L636.0 348.5L636.5 346.9L637.4 347.6L638.2 346.8L639.1 346.6L640.0 348.3L640.8 348.0L641.7 347.9L642.6 347.7L643.4 348.9L644.3 348.2L645.2 347.4L646.2 346.4L647.1 345.6L648.1 345.4L649.0 345.0L649.8 344.8L650.6 343.9L651.4 344.5L652.2 343.3L653.0 344.7L653.8 345.6L654.6 347.1L655.4 348.2L656.2 349.2L657.0 349.5L657.8 349.3L658.6 349.4L659.4 349.4L660.3 350.1L661.1 349.0L661.9 350.1L662.7 349.3L663.5 350.4L664.3 349.0L665.1 349.8L665.9 349.8L666.8 350.3L667.6 349.5L668.4 349.7L669.2 349.5L670.0 350.2L671.0 351.8L672.0 353.2L673.0 314.2L673.9 275.3L674.9 311.8L675.9 348.2L676.7 348.3L677.6 347.2L678.4 347.4L679.3 347.4L680.1 348.7L681.0 347.7L681.8 347.8L682.6 347.2L683.5 347.8L684.3 348.0L685.2 347.7L686.0 346.4L686.9 347.2L687.7 347.2L688.6 346.8L689.5 345.6L690.3 346.6L691.2 345.3L692.1 344.9L693.0 345.1L693.9 344.6L694.7 344.1L695.6 344.3L696.5 343.3L697.3 343.7L698.1 343.7L699.0 343.5L699.8 344.7L700.6 344.7L701.5 345.3L702.3 345.3L703.1 345.0L703.9 345.4L704.8 345.9L705.6 346.1L706.4 347.2" fill="none" stroke="#000" stroke-width="1.9" stroke-linejoin="round" stroke-linecap="round"/>
<path d="M992.7 295.3L993.5 296.1L994.3 296.0L995.1 295.7L995.9 296.7L996.8 296.8L997.6 296.2L998.4 297.6L999.2 297.0L1000.0 297.7L1001.0 297.9L1001.9 295.9L1002.8 295.6L1003.8 295.3L1004.7 291.9L1005.6 288.5L1006.6 285.1L1007.5 281.7L1008.4 281.3L1009.2 282.3L1010.1 282.2L1011.0 281.8L1011.9 281.1L1012.7 281.6L1013.6 281.7L1014.5 287.9L1015.4 294.0L1016.6 300.2L1017.8 306.4L1019.3 281.7L1020.1 281.3L1021.0 279.5L1021.8 280.2L1022.7 279.3L1023.5 278.0L1024.3 279.5L1025.2 280.0L1026.0 280.5L1027.2 262.0L1028.4 303.9L1029.7 295.3L1030.5 295.5L1031.3 296.2L1032.2 295.1L1033.0 295.2L1033.8 294.9L1034.6 295.1L1035.4 296.1L1036.3 295.0L1037.1 296.1L1037.9 295.6L1038.7 296.4L1039.5 296.3L1040.4 296.2L1041.2 296.5L1042.0 296.0L1042.8 293.3L1043.6 291.7L1044.5 289.9L1045.3 288.0L1046.1 286.4L1046.9 284.2L1047.8 284.6L1048.6 284.2L1049.5 284.3L1050.3 283.7L1051.2 283.0L1052.1 283.0L1052.9 283.2L1053.8 283.1L1054.6 282.2L1055.5 282.2L1056.3 289.0L1057.2 295.9L1058.0 302.7L1059.2 279.3L1060.1 278.5L1061.0 278.4L1061.9 277.3L1062.7 277.8L1063.6 275.9L1064.5 276.4L1065.4 275.6L1066.2 266.4L1067.1 257.1L1068.6 312.5L1069.4 302.6L1070.3 292.8L1071.1 292.9L1071.9 292.6L1072.8 293.3L1073.6 293.3L1074.4 294.2L1075.2 294.3L1076.0 293.9L1076.8 294.5L1077.6 294.7L1078.5 293.7L1079.3 294.9L1080.1 294.5L1081.0 293.5L1081.9 292.2L1082.8 290.3L1083.6 288.2L1084.5 286.3L1085.4 285.5L1086.3 283.7L1087.2 283.2L1088.0 284.1L1088.9 283.8L1089.7 284.2L1090.6 283.5L1091.5 283.4L1092.3 284.3L1093.2 284.0L1094.0 283.5L1094.9 283.7L1095.7 289.6L1096.6 295.5L1097.4 301.4L1098.6 290.4L1099.8 279.3L1100.7 285.5L1101.6 291.6L1103.0 326.0L1103.9 346.4L1104.8 366.7L1105.6 333.5L1106.4 300.2L1107.2 267.0L1108.1 268.0L1109.1 268.7L1110.0 269.9L1110.9 270.6L1111.7 268.9L1112.5 266.8L1113.4 266.2L1114.2 264.3L1115.0 262.0L1115.8 260.6L1116.7 257.9L1117.5 256.0L1118.3 254.6L1119.1 257.1L1120.0 259.5L1120.8 262.0L1121.6 266.5L1122.4 271.0L1123.2 275.5L1124.0 280.0L1124.8 283.4L1125.7 286.7L1126.7 288.3L1127.7 289.1L1128.5 311.9L1129.4 334.6L1130.2 357.4L1131.1 380.2L1131.9 344.5L1132.8 308.8L1133.6 273.1L1134.6 274.2L1135.6 274.3L1136.4 282.1L1137.2 289.9L1138.0 297.7L1139.3 267.0L1140.2 264.0L1141.1 261.0L1142.0 258.0L1142.9 255.4L1143.8 252.8L1144.7 250.2L1145.8 256.1L1147.0 262.0L1147.8 268.2L1148.7 274.4L1149.5 280.5L1150.3 286.7L1151.1 287.0L1151.9 286.4L1152.8 287.3L1153.6 287.1L1154.4 286.9L1155.2 287.3L1156.1 287.2L1156.9 287.6L1157.7 287.8L1158.5 288.3L1159.4 287.0L1160.2 287.8L1161.0 288.5L1161.8 288.1L1162.7 288.0L1163.5 288.5L1164.3 287.3L1165.1 288.6L1165.9 288.4L1166.8 288.4L1167.6 288.1L1168.4 288.7L1169.2 287.9L1170.1 288.7L1170.9 288.3L1171.7 289.5L1172.5 289.3L1173.4 288.9L1174.2 289.4L1175.0 289.1L1176.0 299.6L1177.0 310.0L1177.8 295.9L1178.7 281.7L1179.5 281.1L1180.3 280.9L1181.2 280.0L1182.0 280.7L1182.8 280.1L1183.6 279.3L1184.4 271.1L1185.2 262.8L1186.0 254.6L1187.3 301.4L1188.1 299.8L1189.0 296.7L1189.8 295.3L1190.6 296.1L1191.4 295.1L1192.2 296.3L1193.1 296.5L1193.9 296.1L1194.7 297.0L1195.5 298.1L1196.3 298.0L1197.1 297.8L1198.0 298.9L1198.8 298.5L1199.6 299.0L1200.4 298.3L1201.2 296.1L1202.1 294.2L1202.9 294.3L1203.7 291.5L1204.5 290.4L1205.4 289.9L1206.2 287.5L1207.0 286.7L1207.8 286.5L1208.6 286.7L1209.5 286.0L1210.3 285.3L1211.1 285.7L1211.9 285.6L1212.8 284.9L1213.6 284.7L1214.4 284.2L1215.3 296.5L1216.3 308.8L1217.2 294.1L1218.1 279.3L1218.9 278.1L1219.7 277.3L1220.5 277.3L1221.3 275.6L1222.2 299.6L1223.0 323.6L1223.8 336.7L1224.6 349.9L1225.4 363.0L1226.4 333.0L1227.4 303.1L1228.4 273.1L1229.4 273.6L1230.4 271.8L1231.4 272.4L1232.4 270.6L1233.3 269.3L1234.2 268.8L1235.2 267.0L1236.0 263.7L1236.9 260.3L1237.7 257.0L1238.5 255.9L1239.4 255.2L1240.2 255.1L1241.3 258.6L1242.4 262.0L1243.5 269.0L1244.6 276.0L1245.4 279.6L1246.3 283.1L1247.1 286.7L1248.1 287.9L1249.1 287.7L1250.1 289.0L1251.7 291.6L1253.3 386.4L1254.3 348.6L1255.3 310.9L1256.3 273.1L1257.3 273.6L1258.3 272.6L1259.3 272.4L1260.1 271.7L1260.9 270.2L1261.7 267.9L1262.5 267.0L1263.3 263.7L1264.2 260.3L1265.0 257.0L1265.8 255.9L1266.7 253.7L1267.5 252.2L1268.6 257.1L1269.7 262.0L1270.8 269.0L1271.9 276.0L1272.7 279.6L1273.6 283.1L1274.4 286.7L1275.4 287.0L1276.4 287.5L1277.4 289.0L1278.3 289.8L1279.1 290.1L1280.0 290.2L1280.8 291.6L1281.7 291.6L1283.3 380.2L1284.3 344.5L1285.3 308.8L1286.3 273.1L1287.3 272.4L1288.3 272.5L1289.3 272.4L1290.1 270.7L1290.9 270.0L1291.7 269.8L1292.5 268.1L1293.3 267.0L1294.1 263.7L1295.0 260.3L1295.8 257.0L1296.6 254.4L1297.5 251.8L1298.3 249.2L1299.4 255.6L1300.5 262.0L1301.6 269.0L1302.7 276.0L1303.5 279.6L1304.4 283.1L1305.2 286.7L1306.0 287.3L1306.8 289.0L1307.8 291.6L1309.4 377.8L1310.4 342.9L1311.4 308.0L1312.4 273.1L1313.4 272.4L1314.4 272.9L1315.4 272.4L1316.3 269.7L1317.2 267.0L1318.0 263.7L1318.9 260.3L1319.7 257.0L1320.5 255.0L1321.4 254.4L1322.2 252.2L1323.3 257.1L1324.4 262.0L1325.5 269.0L1326.6 276.0L1327.4 279.6L1328.3 283.1L1329.1 286.7L1330.1 286.8L1331.1 288.8L1332.1 289.0L1333.2 290.5L1334.2 291.6L1335.8 402.4L1336.8 359.3L1337.8 316.2L1338.8 273.1L1339.8 273.4L1340.8 272.4L1341.8 272.4L1342.8 269.9L1343.8 268.3L1344.8 267.0L1345.6 263.7L1346.5 260.3L1347.3 257.0L1348.1 255.2L1349.0 252.2L1349.8 250.9L1350.9 256.4L1352.0 262.0L1353.1 269.0L1354.2 276.0L1355.0 279.6L1355.9 283.1L1356.7 286.7L1357.7 286.8L1358.7 288.7L1359.7 289.0L1360.5 290.9L1361.3 291.6L1362.9 377.8L1363.9 342.9L1364.9 308.0L1365.9 273.1L1366.9 273.4L1367.9 273.2L1368.9 272.4L1370.0 270.7L1371.0 269.4L1372.1 267.0L1372.9 263.7L1373.8 260.3L1374.6 257.0L1375.4 254.7L1376.3 252.5L1377.1 250.2L1378.2 256.1L1379.3 262.0L1380.4 269.0L1381.5 276.0L1382.3 279.6L1383.2 283.1L1384.0 286.7L1385.0 287.8L1385.9 288.3L1386.9 289.0L1387.9 291.6L1389.5 374.1L1390.5 340.4L1391.5 306.8L1392.5 273.1L1393.5 272.7L1394.5 271.9L1395.5 272.4L1396.7 269.0L1397.8 267.0L1398.6 263.7L1399.5 260.3L1400.3 257.0L1401.1 254.6L1402.0 252.9L1402.8 250.9L1403.9 256.4L1405.0 262.0L1406.1 269.0L1407.2 276.0L1408.0 279.6L1408.9 283.1L1409.7 286.7L1410.7 286.9L1411.7 289.0L1412.7 289.0L1413.5 289.6L1414.4 290.4L1415.2 291.2L1416.1 290.6L1416.9 291.6L1418.5 371.6L1419.5 338.8L1420.5 305.9L1421.5 273.1L1422.5 273.5L1423.5 273.4L1424.5 272.4L1425.4 270.2L1426.4 268.2L1427.3 267.0L1428.1 263.7L1429.0 260.3L1429.8 257.0L1430.6 254.2L1431.5 251.3L1432.3 248.5L1433.4 255.2L1434.5 262.0L1435.6 269.0L1436.7 276.0L1437.5 279.6L1438.4 283.1L1439.2 286.7L1440.2 287.9L1441.2 288.9L1442.2 289.0L1443.3 290.8L1444.5 291.6L1446.1 384.0L1447.1 347.0L1448.1 310.1L1449.1 273.1L1450.1 272.7L1451.1 272.8L1452.1 272.4L1453.1 270.0L1454.1 268.4L1455.1 267.0L1455.9 263.7L1456.8 260.3L1457.6 257.0L1458.4 253.6L1459.3 250.1L1460.1 246.7L1460.9 250.5L1461.8 254.2L1462.6 258.0L1463.6 267.0L1464.6 276.0L1465.0 286.7L1465.8 286.7L1466.6 287.3L1467.4 286.4L1468.2 287.8L1469.0 286.5L1469.9 288.1L1470.7 287.1L1471.5 288.1L1472.3 288.2L1473.1 288.6L1473.9 287.9L1474.7 288.4L1475.5 287.8L1476.3 288.8L1477.1 287.8L1478.0 289.1L1478.8 288.8L1479.6 288.0L1480.4 289.5L1481.2 288.7L1482.0 288.4L1482.8 288.8L1483.6 288.5L1484.4 289.1L1485.2 289.8L1486.0 290.4L1486.9 289.9L1487.7 290.4L1488.5 290.5L1489.3 290.4L1490.1 290.0L1490.9 290.3L1491.9 298.5L1492.9 306.8L1493.9 315.0L1494.9 299.6L1495.9 284.2L1496.7 283.4L1497.5 282.8L1498.3 283.0L1499.2 282.1L1500.0 282.5L1500.8 281.7L1501.6 275.1L1502.5 268.6L1503.3 262.0L1504.2 284.8L1505.0 307.6L1505.7 295.3L1506.5 295.1L1507.3 295.6L1508.2 295.7L1509.0 295.9L1509.8 295.2L1510.7 295.5L1511.5 296.3L1512.3 295.6L1513.1 296.5L1513.9 297.0L1514.8 296.2L1515.6 296.5L1516.4 296.1L1517.2 294.5L1518.1 293.9L1518.9 292.2L1519.7 291.5L1520.5 290.3L1521.4 288.4L1522.2 287.8L1523.0 286.7L1523.9 286.5L1524.7 285.9L1525.6 285.9L1526.4 285.9L1527.3 285.4L1528.1 285.1L1529.0 284.2L1529.9 291.6L1530.7 299.0L1531.6 306.4L1532.4 298.6L1533.2 290.8L1534.0 283.0L1534.9 282.1L1535.8 282.6L1536.7 282.1L1537.5 282.3L1538.4 280.4L1539.3 280.3L1540.2 280.5L1541.2 268.2L1542.2 255.9L1543.4 281.8L1544.6 307.6L1545.6 294.5L1546.4 295.3L1547.3 294.4L1548.1 295.0L1549.0 294.9L1549.8 294.6L1550.7 294.7L1551.5 295.0L1552.3 295.7L1553.2 295.1L1554.0 295.5L1554.9 294.8L1555.7 295.5L1556.6 295.4L1557.4 295.3L1558.2 293.6L1559.1 291.8L1559.9 288.5L1560.7 287.8L1561.6 285.2L1562.4 283.0L1563.2 282.6L1564.0 282.9L1564.9 282.4L1565.7 282.6L1566.5 283.5L1567.3 283.3L1568.2 283.6L1569.0 282.5L1569.8 283.0L1570.8 293.4L1571.7 303.9L1572.5 295.7L1573.4 287.5L1574.2 279.3L1575.1 278.5L1576.0 278.7L1576.9 278.6L1577.8 278.8L1578.7 277.9L1579.6 278.0L1580.6 266.3L1581.6 254.6L1583.0 315.0L1584.5 291.6L1585.3 292.0L1586.1 291.7L1587.0 291.3L1587.8 292.1L1588.6 290.9L1589.4 291.7L1590.2 291.1L1591.1 290.9L1591.9 291.6L1592.7 291.6L1593.5 291.8L1594.3 291.4L1595.2 292.3L1596.0 292.1L1596.8 291.6" fill="none" stroke="#000" stroke-width="1.9" stroke-linejoin="round" stroke-linecap="round"/>
<path d="M99.6 537.7L100.0 533.4L100.5 529.0L100.9 524.7L101.3 524.8L101.7 524.8L102.1 526.1L102.5 524.3L103.0 525.4L103.4 525.3L103.8 524.4L104.2 523.8L104.6 523.2L105.0 526.3L105.4 523.4L105.8 526.4L106.3 527.1L106.7 523.9L107.1 523.3L107.5 523.2L107.9 523.9L108.3 526.6L108.7 523.6L109.1 523.1L109.6 522.3L110.0 524.8L110.4 525.3L110.8 526.9L111.2 524.7L111.6 525.7L112.0 525.9L112.4 526.6L112.8 530.9L113.2 530.3L113.7 529.9L114.1 528.8L114.5 529.6L114.9 530.4L115.3 531.1L115.7 532.6L116.1 531.5L116.5 535.9L116.9 532.4L117.3 535.4L117.7 536.2L118.2 537.2L118.6 538.4L119.0 537.5L119.4 538.0L119.8 540.5L120.2 539.0L120.6 541.0L121.0 539.1L121.4 540.4L121.9 537.5L122.3 539.9L122.7 536.3L123.1 541.2L123.5 538.5L123.9 540.9L124.3 540.2L124.8 538.8L125.2 540.9L125.6 542.2L126.0 538.5L126.4 542.6L126.8 540.5L127.2 538.7L127.6 539.6L128.1 540.6L128.5 541.2L128.9 539.0L129.3 540.2L129.7 538.4L130.2 538.4L130.6 536.8L131.0 538.0L131.5 535.0L131.9 533.8L132.3 529.9L132.8 528.6L133.2 527.1L133.6 527.3L134.1 527.0L134.5 524.7L134.9 529.2L135.3 530.1L135.8 529.4L136.2 532.5L136.6 537.6L137.0 536.4L137.4 536.8L137.8 537.4L138.2 534.8L138.7 534.9L139.1 536.3L139.5 536.7L139.9 537.9L140.3 537.1L140.7 534.9L141.1 541.0L141.5 538.1L141.9 535.3L142.4 540.2L142.8 539.1L143.2 537.7L143.6 538.0L144.0 550.0L144.4 562.0L144.9 574.0L145.3 586.0L145.7 572.2L146.2 558.5L146.6 544.8L147.0 531.0L147.4 531.1L147.8 531.7L148.2 527.5L148.6 532.2L149.0 531.1L149.4 531.6L149.8 529.7L150.2 529.6L150.6 532.7L151.0 526.6L151.4 532.1L151.8 531.9L152.2 527.8L152.6 529.7L153.0 529.0L153.4 529.1L153.9 528.0L154.3 527.8L154.7 529.8L155.1 529.2L155.5 530.4L155.9 530.6L156.3 528.6L156.7 532.4L157.1 531.6L157.5 526.9L157.9 528.9L158.3 528.5L158.7 529.6L159.1 527.5L159.5 531.1L159.9 528.2L160.3 528.6L160.7 532.2L161.2 528.4L161.6 532.8L162.0 531.0L162.5 532.2L162.9 531.8L163.3 532.2L163.8 530.7L164.2 532.3L164.6 531.9L165.1 533.1L165.5 533.8L165.9 534.2L166.4 536.7L166.8 536.9L167.2 536.9L167.7 535.6L168.1 540.4L168.5 538.8L169.0 540.2L169.4 542.2L169.8 542.4L170.3 543.4L170.7 544.1L171.1 544.1L171.5 541.0L171.9 544.6L172.3 543.0L172.7 544.2L173.1 543.0L173.5 542.1L173.9 544.6L174.3 542.5L174.8 543.6L175.2 542.8L175.6 542.8L176.0 543.0L176.4 542.2L176.8 539.7L177.2 540.5L177.6 542.6L178.0 540.3L178.4 540.2L178.8 537.8L179.3 536.4L179.7 535.8L180.1 531.3L180.6 530.5L181.0 528.6L181.4 530.1L181.9 532.0L182.3 536.2L182.7 536.4L183.2 539.5L183.6 541.5L184.0 542.3L184.5 542.6L184.9 542.8L185.3 543.4L185.8 541.4L186.2 539.2L186.6 544.1L187.0 545.5L187.5 542.7L187.9 543.5L188.3 544.9L188.8 542.7L189.2 544.0L189.6 555.0L190.0 566.0L190.4 577.0L190.8 588.0L191.2 573.8L191.7 559.5L192.1 545.2L192.5 531.0L192.9 530.7L193.3 529.9L193.7 531.0L194.1 530.1L194.5 532.1L194.9 528.2L195.3 528.2L195.8 526.9L196.2 529.0L196.6 528.3L197.0 527.8L197.4 528.7L197.8 526.2L198.2 525.3L198.6 530.1L199.0 526.9L199.4 525.2L199.8 527.8L200.2 526.3L200.6 524.5L201.0 526.0L201.5 526.8L201.9 526.1L202.3 524.6L202.7 526.9L203.1 523.0L203.5 523.7L203.9 524.4L204.3 523.4L204.7 522.8L205.1 526.1L205.5 526.5L205.9 528.1L206.3 528.0L206.7 531.2L207.1 527.3L207.5 529.5L207.9 530.1L208.4 531.7L208.8 533.4L209.2 531.8L209.6 535.6L210.0 536.6L210.4 535.9L210.8 534.6L211.2 538.3L211.6 538.9L212.0 539.0L212.4 537.7L212.8 538.1L213.2 538.3L213.6 537.0L214.0 539.6L214.4 540.6L214.8 539.6L215.2 538.1L215.7 539.0L216.1 539.0L216.5 541.7L216.9 538.4L217.3 539.8L217.7 538.6L218.1 540.7L218.5 537.9L218.9 539.8L219.3 538.6L219.7 539.9L220.1 537.0L220.5 538.9L220.9 540.6L221.3 540.0L221.8 537.6L222.2 542.6L222.6 539.7L223.0 538.7L223.4 538.6L223.8 537.7L224.2 541.3L224.6 540.9L225.0 539.0L225.4 539.8L225.9 535.0L226.3 532.5L226.7 530.8L227.2 530.5L227.6 530.5L228.0 528.3L228.5 526.2L228.9 527.3L229.3 530.2L229.8 530.6L230.2 534.2L230.6 537.7L231.1 536.9L231.5 540.2L231.9 539.8L232.3 542.6L232.7 539.0L233.1 540.8L233.5 540.1L233.9 541.8L234.3 541.5L234.7 543.0L235.1 542.3L235.5 545.0L235.9 542.5L236.3 544.0L236.8 557.0L237.4 570.0L237.9 583.0L238.4 565.0L239.0 547.0L239.5 529.0L239.9 528.8L240.3 529.8L240.7 527.5L241.1 527.9L241.5 528.5L242.0 528.1L242.4 529.7L242.8 527.5L243.2 526.3L243.6 529.4L244.0 527.2L244.4 527.4L244.8 527.9L245.2 529.9L245.6 529.3L246.0 528.4L246.4 528.5L246.9 527.4L247.3 530.5L247.7 529.4L248.1 526.7L248.5 529.2L248.9 525.9L249.3 526.6L249.7 526.7L250.1 530.0L250.5 530.5L250.9 527.6L251.4 526.8L251.8 529.4L252.2 526.7L252.6 529.7L253.0 525.9L253.4 527.3L253.8 529.3L254.2 527.4L254.6 531.6L255.0 529.9L255.5 529.4L255.9 531.1L256.3 528.1L256.7 532.3L257.1 533.8L257.5 536.8L257.9 532.5L258.3 536.4L258.7 537.1L259.1 536.9L259.6 536.1L260.0 537.4L260.4 536.6L260.8 538.8L261.2 539.0L261.6 537.5L262.0 538.6L262.4 539.6L262.8 538.3L263.3 537.9L263.7 539.8L264.1 540.5L264.5 541.2L264.9 541.0L265.3 542.9L265.7 540.6L266.1 542.7L266.6 539.5L267.0 542.1L267.4 542.3L267.8 544.1L268.2 540.7L268.6 544.4L269.0 541.7L269.4 541.4L269.9 539.8L270.3 543.7L270.7 541.7L271.1 543.9L271.5 542.8L271.9 540.3L272.4 538.4L272.8 534.5L273.2 530.6L273.7 528.2L274.1 526.0L274.5 527.7L275.0 530.1L275.4 530.1L275.8 534.2L276.3 531.7L276.7 534.5L277.1 539.1L277.6 540.3L278.0 541.5L278.4 544.7L278.8 543.5L279.2 540.7L279.6 540.8L280.0 542.6L280.4 542.7L280.9 544.0L281.3 542.4L281.7 542.4L282.1 542.5L282.5 543.8L282.9 544.0L283.3 556.2L283.7 568.5L284.1 580.8L284.5 593.0L284.9 577.0L285.4 561.0L285.8 545.0L286.2 529.0L286.6 527.5L287.0 528.4L287.4 529.4L287.8 527.9L288.2 526.3L288.6 528.4L289.0 528.6L289.4 525.9L289.8 526.4L290.2 524.4L290.6 525.0L291.0 524.7L291.4 524.1L291.8 524.9L292.2 528.4L292.7 527.1L293.1 524.6L293.5 525.6L293.9 524.9L294.3 524.7L294.7 521.4L295.1 523.8L295.5 522.2L295.9 523.0L296.3 523.3L296.7 519.6L297.1 519.4L297.5 523.3L297.9 524.5L298.3 523.6L298.7 522.1L299.1 521.4L299.5 523.4L299.9 525.8L300.3 525.5L300.7 523.6L301.1 528.9L301.5 527.7L301.9 529.6L302.3 528.0L302.8 529.9L303.2 534.3L303.6 532.8L304.0 535.1L304.4 537.8L304.8 536.4L305.2 537.3L305.6 537.9L306.0 540.4L306.4 540.2L306.8 540.7L307.2 540.8L307.6 542.5L308.0 540.9L308.4 542.0L308.8 538.9L309.2 539.8L309.6 541.2L310.0 539.0L310.4 538.1L310.8 540.0L311.2 539.4L311.6 540.7L312.0 542.5L312.4 539.5L312.8 538.6L313.2 539.7L313.6 539.3L314.0 539.4L314.4 541.8L314.8 541.0L315.2 540.7L315.6 539.8L316.0 541.6L316.4 540.0L316.8 540.2L317.2 541.4L317.7 537.6L318.1 536.2L318.5 536.0L319.0 536.8L319.4 529.9L319.8 531.8L320.3 528.1L320.7 528.6L321.1 526.9L321.5 529.5L321.9 532.1L322.3 529.2L322.8 531.8L323.2 535.9L323.6 535.8L324.0 534.2L324.4 536.5L324.8 536.4L325.2 536.2L325.6 536.6L326.0 540.4L326.4 538.4L326.8 539.9L327.3 540.1L327.7 539.4L328.1 542.1L328.5 545.9L328.9 544.0L329.3 554.5L329.7 565.0L330.1 575.5L330.5 586.0L330.9 571.8L331.4 557.5L331.8 543.2L332.2 529.0L332.6 527.4L333.0 528.7L333.4 530.4L333.8 529.3L334.2 528.5L334.7 529.3L335.1 528.8L335.5 528.2L335.9 527.0L336.3 527.4L336.7 525.4L337.1 528.1L337.5 527.5L337.9 526.8L338.3 525.3L338.7 526.8L339.1 524.8L339.6 528.3L340.0 525.5L340.4 528.5L340.8 525.8L341.2 528.0L341.6 527.8L342.0 528.1L342.4 526.3L342.8 523.9L343.2 527.2L343.6 525.6L344.0 524.2L344.5 524.7L344.9 526.7L345.3 527.1L345.7 526.6L346.1 527.1L346.5 526.0L346.9 528.6L347.4 527.6L347.8 529.2L348.2 529.9L348.7 530.9L349.1 532.2L349.5 533.8L350.0 533.9L350.4 535.9L350.8 538.1L351.3 537.4L351.7 539.0L352.1 539.7L352.5 537.6L352.9 537.7L353.3 541.5L353.8 538.7L354.2 540.7L354.6 536.0L355.0 535.4L355.4 538.9L355.8 538.5L356.2 535.6L356.6 540.0L357.1 539.9L357.5 537.9L357.9 539.8L358.3 539.8L358.7 539.0L359.1 538.1L359.5 539.9L359.9 538.3L360.4 538.2L360.8 536.9L361.2 539.1L361.6 540.8L362.0 539.0L362.4 536.9L362.9 535.6L363.3 533.1L363.7 533.4L364.2 533.6L364.6 530.9L365.0 530.7L365.5 530.1L365.9 527.3L366.3 527.7L366.8 529.9L367.2 533.5L367.6 533.9L368.0 534.5L368.4 537.9L368.9 540.2L369.3 541.5L369.7 543.0L370.1 540.2L370.5 541.9L370.9 542.1L371.3 537.9L371.7 542.5L372.1 541.3L372.6 539.0L373.0 544.1L373.4 542.0L373.8 541.8L374.2 544.9L374.6 543.0L375.0 540.0L375.4 541.5L375.8 551.6L376.2 561.8L376.6 571.9L377.0 582.0L377.4 569.0L377.8 556.0L378.2 543.0L378.6 530.0L379.0 529.8L379.4 532.2L379.8 531.4L380.2 531.8L380.6 529.4L381.0 531.0L381.4 528.3L381.8 528.8L382.2 529.9L382.7 528.7L383.1 529.7L383.5 528.5L383.9 529.0L384.3 531.6L384.7 529.2L385.1 529.9L385.5 526.1L385.9 527.2L386.3 529.3L386.7 525.5L387.1 527.2L387.5 527.2L387.9 529.3L388.3 524.9L388.7 526.6L389.1 527.3L389.5 527.3L389.9 524.7L390.3 528.7L390.8 527.8L391.2 528.6L391.6 527.5L392.0 527.5L392.4 526.0L392.8 525.9L393.2 524.5L393.6 526.8L394.0 524.2L394.4 526.0L394.8 528.2L395.2 528.0L395.6 527.0L396.0 528.8L396.4 526.8L396.8 528.3L397.2 529.5L397.6 529.0L398.0 530.9L398.4 532.1L398.8 532.1L399.2 532.5L399.6 532.6L400.0 532.1L400.4 536.5L400.8 536.4L401.2 535.8L401.6 538.2L402.0 534.9L402.4 535.9L402.8 537.7L403.2 538.9L403.6 538.3L404.1 538.2L404.5 535.0L404.9 537.9L405.3 539.9L405.7 534.1L406.1 537.9L406.5 540.7L406.9 535.9L407.3 538.0L407.7 540.6L408.1 538.6L408.5 538.1L408.9 539.2L409.3 537.7L409.7 539.2L410.1 538.0L410.6 539.5L411.0 537.1L411.4 538.2L411.8 538.7L412.2 535.3L412.6 540.0L413.0 538.3L413.4 538.0L413.8 539.0L414.2 537.4L414.6 539.8L415.1 539.2L415.5 542.0L415.9 544.0L416.4 541.5L416.8 541.6L417.2 543.3L417.6 543.1L418.0 542.9L418.4 544.1L418.9 540.4L419.3 544.2L419.7 543.4L420.1 542.7L420.5 541.3L420.9 544.9L421.4 545.3L421.8 544.1L422.2 543.8L422.6 553.8L423.0 563.9L423.5 574.0L423.9 584.0L424.3 572.0L424.7 560.0L425.1 548.0L425.5 536.0L425.9 536.3L426.3 535.9L426.7 534.3L427.1 534.6L427.6 531.3L428.0 533.4L428.4 528.0L428.8 532.7L429.2 532.7L429.6 529.8L430.0 531.3L430.4 528.2L430.8 528.8L431.2 529.9L431.6 527.6L432.1 529.2L432.5 528.4L432.9 530.5L433.3 527.4L433.7 527.1L434.1 528.6L434.5 529.1L434.9 526.9L435.3 525.2L435.7 525.1L436.2 524.5L436.6 526.8L437.0 525.0L437.4 526.3L437.8 524.0L438.2 526.0L438.6 526.0L439.0 527.7L439.4 525.8L439.8 529.6L440.2 528.5L440.6 527.7L441.0 528.9L441.5 529.8L441.9 529.1L442.3 530.0L442.7 531.7L443.1 529.1L443.5 536.0L443.9 534.1L444.3 533.4L444.7 537.6L445.1 541.6L445.6 541.8L446.0 543.2L446.4 545.5L446.8 548.2L447.2 548.0L447.6 548.2L448.1 543.8L448.5 546.7L448.9 542.6L449.3 542.1L449.7 540.5L450.1 544.0L450.5 541.3L450.9 543.1L451.3 540.1L451.8 543.1L452.2 541.3L452.6 543.8L453.0 539.7L453.4 541.0L453.8 540.6L454.2 542.4L454.6 540.6L455.0 541.5L455.4 542.0L455.9 541.4L456.3 542.3L456.7 542.5L457.1 539.7L457.5 543.6L457.9 542.1L458.3 539.0L458.7 538.0L459.1 540.2L459.5 535.2L459.9 534.6L460.3 533.4L460.7 517.5L461.1 501.7L461.6 485.9L462.0 470.0L462.5 461.6L463.0 453.2L463.5 444.8L464.0 453.2L464.5 461.6L465.0 470.0L465.5 499.2L466.0 528.5L466.4 535.3L466.9 542.0L467.3 548.8L467.7 555.6L468.1 556.2L468.5 553.8L468.9 554.1L469.4 553.5L469.8 553.2L470.2 551.4L470.6 554.2L471.0 552.3L471.4 552.8L471.8 551.5L472.2 550.2L472.7 552.3L473.1 549.2L473.5 551.3L473.9 549.5L474.3 549.1L474.7 549.8L475.1 551.7L475.5 555.7L475.9 554.4L476.4 553.9L476.8 555.1L477.2 556.9L477.6 555.2L478.0 553.8L478.4 555.8L478.8 558.1L479.2 559.9L479.6 560.8L480.0 563.4L480.4 567.8L480.9 567.2L481.3 568.6L481.7 571.5L482.1 575.1L482.5 575.3L482.9 574.7L483.3 570.1L483.7 565.6L484.1 562.3L484.5 558.2L484.9 555.9L485.4 555.1L485.8 551.5L486.2 548.0L486.6 543.0L487.0 541.3L487.4 538.4L487.8 537.0L488.2 539.9L488.6 537.4L489.0 536.9L489.5 536.7L489.9 536.3L490.3 536.1L490.7 534.9L491.1 535.4L491.5 535.7L491.9 535.3L492.3 536.5L492.7 535.9L493.2 536.1L493.6 534.3L494.0 535.0L494.4 531.7L494.8 533.6L495.2 534.2L495.6 531.2L496.0 536.4L496.4 536.0L496.9 534.8L497.3 538.0L497.7 532.2L498.1 534.5L498.5 534.5L498.9 533.6L499.3 536.4L499.7 535.8L500.1 534.8L500.6 532.7L501.0 534.4L501.4 534.1L501.8 534.7L502.2 531.8L502.6 532.3L503.0 535.3L503.4 533.8L503.8 533.5L504.3 533.5L504.7 529.9L505.1 535.6L505.5 531.3L505.9 533.4L506.3 530.2L506.7 531.4L507.1 531.2L507.5 529.6L507.9 525.7L508.3 523.9L508.7 524.6L509.1 522.4L509.5 524.8L510.0 523.9L510.4 530.6L510.8 527.9L511.2 533.4L511.7 535.4L512.1 537.1L512.5 538.3L512.9 537.6L513.3 538.9L513.7 538.3L514.1 536.7L514.5 537.3L515.0 540.4L515.4 535.8L515.8 539.8L516.2 538.1L516.6 536.6L517.0 538.1L517.4 539.6L517.8 549.8L518.2 560.0L518.6 570.3L519.0 580.5L519.4 566.4L519.8 552.2L520.2 538.1L520.6 524.0L521.0 524.9L521.4 520.9L521.9 526.0L522.3 526.8L522.7 524.6L523.1 524.9L523.5 525.8L523.9 527.2L524.4 524.7L524.8 525.8L525.2 527.2L525.6 524.8L526.0 527.7L526.4 527.4L526.9 528.9L527.3 526.3L527.7 528.1L528.1 528.5L528.5 529.0L528.9 528.5L529.3 526.9L529.7 530.1L530.1 528.3L530.6 528.7L531.0 528.5L531.4 529.5L531.8 528.6L532.2 527.5L532.6 529.7L533.0 528.4L533.4 528.6L533.8 528.8L534.2 526.8L534.7 528.6L535.1 528.9L535.5 526.4L535.9 528.0L536.3 528.4L536.7 528.5L537.1 530.7L537.5 530.5L537.9 532.3L538.3 534.3L538.8 532.9L539.2 534.8L539.6 536.7L540.0 539.4L540.4 539.6L540.8 541.6L541.2 539.9L541.6 539.7L542.0 539.3L542.5 540.2L542.9 542.6L543.3 540.1L543.7 539.6L544.1 542.7L544.5 540.4L544.9 540.3L545.3 539.5L545.7 542.3L546.2 540.6L546.6 538.3L547.0 538.0L547.4 541.6L547.8 540.5L548.2 542.0L548.6 542.2L549.0 543.8L549.4 543.7L549.9 540.1L550.3 541.4L550.7 540.8L551.1 543.3L551.5 542.1L551.9 539.0L552.4 541.1L552.8 536.8L553.2 538.4L553.6 516.0L554.2 486.6L554.7 457.1L555.2 486.6L555.6 516.0L555.9 535.9L556.2 516.0L556.6 483.4L557.1 450.9L557.7 483.4L558.2 516.0L558.9 555.6L559.3 557.0L559.7 557.0L560.1 552.9L560.5 555.1L560.9 554.1L561.4 552.5L561.8 556.1L562.2 553.5L562.6 556.1L563.0 555.1L563.4 557.0L563.8 553.5L564.2 555.3L564.6 554.3L565.0 553.3L565.5 555.3L565.9 553.7L566.3 552.9L566.7 553.7L567.1 551.4L567.5 553.2L567.9 555.8L568.3 557.7L568.7 554.1L569.1 557.5L569.5 557.8L570.0 558.3L570.4 561.6L570.8 563.9L571.2 562.9L571.6 563.0L572.0 567.0L572.4 565.5L572.8 566.6L573.2 567.7L573.6 569.5L574.1 573.4L574.5 573.7L574.9 575.3L575.3 571.7L575.7 568.2L576.1 564.6L576.5 561.1L577.0 557.5L577.4 554.0L577.8 550.4L578.2 546.9L578.6 543.3L579.0 536.5L579.5 529.6L580.0 522.8L580.4 516.0L581.0 495.8L581.5 475.6L582.0 495.8L582.6 516.0L583.0 524.7L583.5 533.4L583.9 534.6L584.3 534.4L584.7 536.8L585.1 537.2L585.6 540.8L586.0 539.1L586.4 538.7L586.8 543.6L587.2 542.1L587.6 543.1L588.0 543.3L588.4 544.6L588.8 544.6L589.3 542.0L589.7 545.7L590.1 548.2L590.5 548.4L590.9 546.5L591.3 547.8L591.7 549.6L592.1 552.5L592.5 550.6L593.0 551.1L593.4 550.5L593.8 551.4L594.2 551.8L594.6 553.2L595.0 555.3L595.5 556.0L595.9 558.9L596.4 559.9L596.8 565.3L597.2 566.7L597.7 567.6L598.1 569.6L598.6 573.1L599.0 574.1L599.4 569.1L599.8 564.0L600.3 559.0L600.7 553.9L601.1 548.9L601.5 543.8L601.9 538.8L602.4 533.7L602.8 528.6L603.2 523.6L603.7 525.8L604.1 526.8L604.6 525.8L605.0 528.6L605.5 534.2L605.9 534.9L606.4 537.1L606.9 531.8L607.3 526.5L607.8 521.3L608.3 516.0L608.8 481.0L609.4 446.0L610.0 481.0L610.5 516.0L610.9 521.8L611.4 527.6L611.8 533.4L612.2 539.1L612.7 544.9L613.1 550.7L613.5 548.8L613.9 546.4L614.3 549.2L614.7 545.7L615.1 546.8L615.5 545.6L616.0 544.1L616.4 542.4L616.8 543.7L617.2 540.4L617.6 540.7L618.0 540.8L618.4 542.1L618.8 545.4L619.2 544.6L619.6 546.9L620.0 549.0L620.4 546.1L620.8 549.8L621.2 552.1L621.6 553.0L622.0 556.8L622.5 556.3L622.9 559.4L623.3 561.4L623.7 561.1L624.1 563.5L624.5 566.5L624.9 567.3L625.3 567.5L625.7 566.4L626.1 570.4L626.5 567.1L626.9 565.6L627.4 563.9L627.8 561.4L628.2 558.8L628.6 555.0L629.0 555.1L629.5 553.3L629.9 549.5L630.3 547.3L630.7 546.1L631.1 542.1L631.5 540.9L632.0 539.4L632.4 534.7L632.8 533.4L633.2 520.1L633.6 506.7L634.0 493.4L634.4 480.1L634.8 466.7L635.2 453.4L635.6 456.0L636.0 457.6L636.4 459.9L636.8 461.4L637.2 466.9L637.6 486.0L638.0 505.1L638.5 524.2L638.9 543.3L639.3 543.8L639.7 547.1L640.1 543.1L640.5 545.9L641.0 545.3L641.4 543.3L641.8 545.3L642.2 543.4L642.6 541.1L643.0 545.5L643.4 543.9L643.8 544.1L644.2 545.6L644.7 546.0L645.1 544.4L645.5 545.2L645.9 545.4L646.3 543.8L646.7 546.2L647.1 544.4L647.5 545.9L647.9 546.7L648.4 546.9L648.8 542.7L649.2 544.6L649.6 545.3L650.0 545.8L650.4 550.5L650.8 555.2L651.2 560.0L651.7 564.7L652.1 569.4L652.5 574.1L652.9 570.1L653.3 568.2L653.7 565.4L654.1 562.7L654.5 563.1L655.0 557.2L655.4 554.1L655.8 550.0L656.2 547.9L656.6 545.1L657.0 543.4L657.4 539.6L657.8 537.6L658.2 538.8L658.6 537.3L659.0 536.0L659.5 539.3L659.9 537.7L660.3 538.2L660.7 539.8L661.1 537.1L661.5 531.8L662.0 526.5L662.5 521.3L662.9 516.0L663.5 481.6L664.0 447.2L664.5 481.6L665.1 516.0L665.5 532.8L666.0 549.5L666.4 551.4L666.8 548.9L667.2 549.3L667.7 547.8L668.1 548.0L668.5 545.8L668.9 548.9L669.3 547.7L669.7 548.8L670.1 549.7L670.5 545.6L671.0 546.8L671.4 546.0L671.8 547.9L672.2 545.8L672.6 547.1L673.0 551.4L673.4 553.9L673.8 555.1L674.3 556.6L674.7 555.8L675.1 556.9L675.5 556.4L675.9 560.3L676.3 559.2L676.7 561.7L677.1 566.5L677.5 567.7L678.0 566.3L678.4 572.6L678.8 569.4L679.2 571.0L679.6 574.1L680.0 573.6L680.4 571.2L680.8 566.0L681.2 564.6L681.6 558.7L682.0 559.6L682.4 555.0L682.9 554.6L683.3 549.6L683.7 547.2L684.1 546.3L684.5 543.6L684.9 539.4L685.3 535.2L685.7 534.7L686.1 532.9L686.5 532.1L686.9 528.9L687.4 523.4L687.8 523.2L688.2 521.1L688.6 520.6L689.0 516.0L689.5 486.3L690.1 456.6L690.7 486.3L691.2 516.0L691.9 543.3L692.3 542.3L692.7 541.3L693.1 543.2L693.5 538.2L693.9 538.2L694.3 537.0L694.8 539.2L695.2 535.6L695.6 536.8L696.0 534.0L696.4 536.3L696.8 533.4L697.2 536.3L697.6 536.8L698.0 540.9L698.4 542.6L698.8 544.3L699.3 545.1L699.7 551.4L700.1 551.0L700.5 552.4L700.9 555.3L701.3 557.3L701.7 557.7L702.1 563.2L702.5 561.6L702.9 567.3L703.4 565.5L703.8 568.3L704.2 574.2L704.6 572.6L705.0 576.9L705.4 579.0L705.8 576.5L706.2 575.2L706.6 573.0L707.1 568.8L707.5 565.5L707.9 563.5L708.3 560.4L708.7 553.7L709.1 554.1L709.5 549.1L709.9 551.0L710.4 546.3L710.8 540.7L711.2 541.5L711.6 535.9L712.0 531.9L712.4 527.9L712.9 524.0L713.3 520.0L713.7 516.0L714.2 482.2L714.8 448.5L715.3 482.2L715.9 516.0L716.4 524.0L716.8 532.1L717.2 540.2L717.7 548.2L718.1 546.7L718.5 548.6L719.0 545.8L719.4 546.9L719.8 547.6L720.2 545.1L720.6 547.7L721.0 548.2L721.5 548.8L721.9 547.8L722.3 546.6L722.7 545.8L723.1 548.4L723.5 547.4L723.9 549.2L724.3 553.3L724.7 551.1L725.1 553.2L725.5 556.7L725.9 556.6L726.4 556.4L726.8 558.6L727.2 559.8L727.6 560.4L728.0 562.7L728.4 566.0L728.8 565.5L729.2 568.0L729.6 568.1L730.0 570.4L730.4 568.1L730.8 567.3L731.2 564.8L731.6 561.9L732.1 559.7L732.5 559.7L732.9 555.5L733.3 551.9L733.7 552.9L734.1 550.8L734.5 547.6L734.9 544.9L735.3 545.6L735.8 543.5L736.2 540.2L736.6 537.5L737.0 536.5L737.4 533.4L737.8 533.0L738.3 526.7L738.7 526.0L739.1 518.8L739.6 518.1L740.0 516.0L740.5 483.4L741.1 450.9L741.7 483.4L742.2 516.0L742.7 523.5L743.1 530.9L743.6 538.4L744.0 540.4L744.4 540.8L744.8 540.0L745.2 544.0L745.7 544.9L746.1 546.1L746.5 545.5L746.9 546.9L747.3 548.2L747.7 549.1L748.1 550.9L748.5 551.7L748.9 552.5L749.3 554.8L749.8 556.6L750.2 556.2L750.6 559.0L751.0 555.8L751.4 563.0L751.8 559.2L752.2 561.0L752.6 563.4L753.0 565.3L753.4 565.3L753.9 563.8L754.3 566.7L754.7 566.6L755.1 570.7L755.5 569.9L755.9 571.6L756.3 565.6L756.7 565.5L757.1 564.4L757.6 559.8L758.0 559.6L758.4 553.9L758.8 553.4L759.2 552.6L759.6 548.7L760.0 544.7L760.4 542.5L760.9 542.5L761.3 539.5L761.7 536.5L762.1 533.4L762.5 531.6L763.0 527.5L763.4 524.8L763.8 521.7L764.3 518.3L764.7 516.0L765.2 483.4L765.8 450.9L766.3 483.4L766.9 516.0L767.3 523.5L767.8 530.9L768.2 538.4L768.6 540.7L769.0 538.4L769.4 543.6L769.9 542.2L770.3 541.3L770.7 544.4L771.1 545.5L771.5 544.1L771.9 542.6L772.3 545.1L772.7 545.7L773.2 545.4L773.6 544.9L774.0 546.3L774.4 548.2L774.8 549.8L775.2 550.6L775.6 553.5L776.0 551.7L776.4 555.7L776.8 554.9L777.2 558.0L777.6 559.0L778.1 562.1L778.5 562.1L778.9 562.2L779.3 564.2L779.7 563.1L780.1 566.6L780.5 568.6L780.9 569.5L781.3 570.4L781.7 567.5L782.1 566.6L782.5 564.4L782.9 562.4L783.3 558.3L783.7 558.7L784.1 555.4L784.5 551.6L785.0 550.9L785.4 550.6L785.8 549.0L786.2 544.2L786.6 541.4L787.0 539.8L787.4 539.2L787.8 536.0L788.2 537.2L788.6 534.8L789.0 533.4L789.4 535.1L789.8 532.9L790.2 530.4L790.6 530.4L791.0 530.0L791.6 492.9L792.2 455.7L792.6 473.7L793.1 491.7L793.8 451.7L794.2 478.5L794.6 505.2L795.0 532.0L795.6 540.0L796.2 548.0L796.6 549.2L797.0 547.2L797.5 547.5L797.9 546.3L798.3 547.9L798.7 549.0L799.1 548.5L799.5 546.0L800.0 544.8L800.4 548.3L800.8 546.0L801.2 548.0L801.6 545.8L802.0 551.1L802.4 549.4L802.8 550.1L803.2 552.0L803.6 551.1L804.0 552.4L804.4 557.0L804.8 555.6L805.2 557.7L805.6 558.0L806.0 561.4L806.4 561.5L806.8 562.3L807.2 564.8L807.6 567.8L808.0 567.7L808.4 567.9L808.8 572.7L809.2 573.5L809.6 572.9L810.0 568.8L810.4 564.7L810.8 560.6L811.2 556.5L811.6 552.4L812.0 548.3L812.4 544.2L812.8 540.1L813.2 536.0L813.6 533.6L814.0 535.1L814.4 537.2L814.8 531.0L815.2 530.3L815.6 532.6L816.0 530.1L816.4 530.0L817.0 492.1L817.6 454.2L818.0 472.2L818.5 490.2L819.2 450.2L819.6 477.5L820.0 504.7L820.4 532.0L821.0 540.0L821.6 548.0L822.0 545.6L822.4 549.8L822.9 547.3L823.3 547.9L823.7 548.9L824.1 547.3L824.5 545.5L824.9 549.8L825.4 547.8L825.8 546.3L826.2 546.0L826.6 546.3L827.0 545.7L827.4 549.4L827.8 547.4L828.2 552.6L828.6 548.1L829.0 552.9L829.4 550.9L829.8 551.8L830.2 555.1L830.6 555.0L831.0 556.7L831.4 554.9L831.8 557.0L832.2 558.0L832.6 559.3L833.0 562.0L833.4 564.6L833.8 565.0L834.2 565.6L834.6 568.8L835.0 568.1L835.4 571.4L835.8 575.8L836.2 575.8L836.6 571.8L837.0 567.8L837.4 563.9L837.8 559.9L838.2 555.9L838.7 551.9L839.1 547.9L839.5 544.0L839.9 540.0L840.3 536.0L840.7 534.5L841.1 535.8L841.5 533.2L841.9 531.7L842.3 532.5L842.7 532.2L843.1 530.6L843.5 530.0L844.1 490.9L844.7 451.7L845.1 469.7L845.6 487.7L846.3 447.7L846.7 475.8L847.1 503.9L847.5 532.0L848.1 540.0L848.7 548.0L849.1 548.2L849.5 550.1L850.0 547.5L850.4 547.8L850.8 546.0L851.2 548.1L851.6 545.7L852.0 546.8L852.5 545.7L852.9 547.2L853.3 546.0L853.7 548.0L854.1 549.9L854.5 549.7L854.9 551.7L855.3 554.7L855.7 551.9L856.1 553.1L856.5 556.8L856.9 557.0L857.3 558.0L857.7 559.3L858.1 556.8L858.5 561.1L858.9 563.9L859.3 564.4L859.7 564.8L860.1 565.6L860.5 566.0L860.9 567.5L861.3 569.2L861.7 566.0L862.2 559.9L862.6 561.1L863.0 554.2L863.5 554.4L863.9 550.4L864.3 544.8L864.7 542.2L865.2 539.8L865.6 536.0L866.0 536.8L866.4 533.2L866.8 534.4L867.2 534.0L867.6 531.9L868.0 532.0L868.4 530.1L868.8 530.0L869.4 505.1L870.0 480.3L870.5 498.3L870.9 516.3L871.6 476.3L872.0 494.9L872.4 513.4L872.8 532.0L873.4 540.0L874.0 548.0L874.4 547.2L874.8 546.2L875.3 546.2L875.7 548.3L876.1 547.8L876.5 547.7L876.9 545.9L877.3 547.0L877.8 547.6L878.2 544.3L878.6 546.0L879.0 545.4L879.4 546.2L879.8 548.9L880.2 549.9L880.6 553.3L881.0 553.0L881.5 548.8L881.9 553.7L882.3 553.7L882.7 556.5L883.1 554.5L883.5 554.8L883.9 558.0L884.3 558.4L884.7 562.5L885.1 562.9L885.5 566.3L885.9 569.9L886.3 567.4L886.7 570.3L887.1 573.2L887.5 575.9L887.9 576.6L888.3 570.8L888.7 565.0L889.1 559.2L889.6 553.4L890.0 547.6L890.4 541.8L890.8 536.0L891.2 534.1L891.6 534.5L892.0 532.2L892.4 535.1L892.8 533.4L893.2 534.2L893.6 532.9L894.0 530.0L894.6 493.1L895.2 456.2L895.6 474.2L896.1 492.2L896.8 452.2L897.2 478.8L897.6 505.4L898.0 532.0L898.6 540.0L899.2 548.0L899.6 548.5L900.0 548.8L900.5 548.5L900.9 547.3L901.3 546.7L901.7 546.4L902.1 547.1L902.5 546.9L903.0 548.1L903.4 546.3L903.8 546.0L904.2 547.6L904.6 550.8L905.0 548.9L905.4 549.3L905.8 555.5L906.2 551.5L906.6 553.5L907.0 557.9L907.4 556.5L907.8 558.0L908.2 558.4L908.6 560.6L909.0 561.3L909.4 561.5L909.8 561.4L910.2 564.1L910.6 564.9L911.0 567.1L911.4 567.9L911.8 570.4L912.2 568.8L912.6 566.0L913.0 561.5L913.4 562.3L913.8 560.0L914.2 551.9L914.7 550.3L915.1 551.9L915.5 546.8L915.9 543.8L916.3 540.7L916.7 538.5L917.1 536.0L917.5 536.6L917.9 535.3L918.3 533.5L918.7 532.1L919.1 531.5L919.5 533.0L919.9 530.0L920.3 530.0L920.9 497.4L921.5 464.8L922.0 482.8L922.4 500.8L923.1 460.8L923.5 484.5L923.9 508.3L924.3 532.0L924.9 540.0L925.5 548.0L925.9 547.6L926.3 547.7L926.8 547.7L927.2 545.4L927.6 550.7L928.0 547.9L928.4 549.0L928.8 544.8L929.3 544.1L929.7 546.4L930.1 546.0L930.5 546.4L930.9 546.5L931.4 551.2L931.8 548.0L932.2 548.4L932.6 554.3L933.1 553.0L933.5 551.4L933.9 555.9L934.3 554.1L934.8 555.5L935.2 556.8L935.6 558.0L936.0 559.7L936.4 564.2L936.8 562.0L937.2 563.7L937.6 565.0L938.0 568.2L938.4 568.6L938.8 571.9L939.2 575.7L939.6 575.3L940.0 575.2L940.4 569.0L940.8 566.5L941.3 562.4L941.7 559.7L942.1 558.3L942.5 551.3L942.9 549.9L943.3 546.7L943.8 543.7L944.2 541.2L944.6 539.4L945.0 536.0L945.4 534.9L945.8 538.1L946.2 535.5L946.6 531.8L947.0 531.8L947.4 530.5L947.8 531.1L948.2 530.0L948.8 492.4L949.4 454.9L949.8 472.9L950.3 490.9L951.0 450.9L951.4 477.9L951.8 505.0L952.2 532.0L952.8 540.0L953.4 548.0L953.8 547.9L954.2 548.6L954.7 547.6L955.1 549.2L955.5 546.9L955.9 547.0L956.3 547.4L956.7 546.8L957.2 546.4L957.6 547.0L958.0 546.0L958.4 548.5L958.8 549.6L959.2 551.4L959.6 551.5L960.0 553.0L960.4 556.6L960.8 558.4L961.2 558.0L961.6 559.1L962.0 563.0L962.4 562.0L962.8 566.1L963.2 566.6L963.6 567.0L964.0 569.2L964.4 569.0L964.8 570.8L965.2 572.9L965.6 570.3L966.0 570.4L966.4 568.3L966.8 565.1L967.2 563.8L967.6 560.3L968.0 559.7L968.4 556.6L968.8 558.2L969.2 555.6L969.7 551.6L970.1 549.9L970.5 551.3L970.9 547.2L971.3 543.5L971.7 542.4L972.1 540.7L972.5 539.4L972.9 536.0L973.3 536.0L973.7 536.0L974.1 533.6L974.5 536.4L974.9 534.2L975.3 530.0L975.7 530.2L976.1 530.7L976.5 530.0L977.1 492.9L977.7 455.7L978.1 473.7L978.6 491.7L979.3 451.7L979.7 478.5L980.1 505.2L980.5 532.0L981.1 540.0L981.7 548.0L982.1 545.3L982.5 545.8L983.0 549.7L983.4 546.2L983.8 546.1L984.2 547.2L984.6 547.3L985.0 546.7L985.5 547.6L985.9 545.2L986.3 546.0L986.7 548.7L987.1 549.7L987.5 548.3L987.9 549.6L988.3 550.4L988.7 550.9L989.1 550.8L989.5 553.6L989.9 553.0L990.3 554.2L990.7 554.8L991.1 557.4L991.5 558.0L991.9 558.2L992.3 562.8L992.7 560.6L993.1 563.2L993.5 566.3L993.9 567.9L994.3 568.4L994.7 575.2L995.1 572.9L995.5 575.3L995.9 570.9L996.3 566.6L996.7 562.2L997.1 557.8L997.5 553.5L997.9 549.1L998.3 544.7L998.7 540.4L999.1 536.0L999.5 533.0L999.9 534.5L1000.3 536.2L1000.7 534.9L1001.1 532.0L1001.5 531.3L1001.9 533.5L1002.3 530.0L1002.9 496.6L1003.5 463.1L1004.0 481.1L1004.4 499.1L1005.1 459.1L1005.5 483.4L1005.9 507.7L1006.3 532.0L1006.9 540.0L1007.5 548.0L1007.9 548.0L1008.3 548.0L1008.8 545.5L1009.2 546.4L1009.6 547.7L1010.0 543.8L1010.4 547.1L1010.8 546.2L1011.3 546.0L1011.7 546.3L1012.1 546.0L1012.5 547.3L1012.9 549.4L1013.3 546.1L1013.7 550.4L1014.1 549.1L1014.5 550.3L1014.9 551.7L1015.4 552.0L1015.8 554.1L1016.2 552.5L1016.6 555.1L1017.0 554.6L1017.4 552.9L1017.8 554.6L1018.2 559.1L1018.6 558.0L1019.0 559.7L1019.4 563.1L1019.8 564.1L1020.2 565.3L1020.6 571.5L1021.0 571.9L1021.4 570.4L1021.8 574.1L1022.2 576.2L1022.6 577.8L1023.0 571.8L1023.5 565.9L1023.9 559.9L1024.4 553.9L1024.8 547.9L1025.3 542.0L1025.7 536.0L1026.1 532.2L1026.5 532.7L1026.9 535.7L1027.3 535.1L1027.7 534.5L1028.1 530.3L1028.5 531.5L1028.9 530.0L1029.3 505.8L1029.7 481.6L1030.1 457.4L1030.6 475.4L1031.0 493.4L1031.7 453.4L1032.1 479.6L1032.5 505.8L1032.9 532.0L1033.3 537.3L1033.7 542.7L1034.1 548.0L1034.5 548.4L1034.9 547.7L1035.4 546.9L1035.8 547.7L1036.2 544.5L1036.6 543.3L1037.0 546.1L1037.4 548.9L1037.9 544.6L1038.3 545.2L1038.7 546.0L1039.1 547.8L1039.5 547.4L1039.9 550.9L1040.3 551.2L1040.8 552.8L1041.2 553.4L1041.6 556.8L1042.0 558.0L1042.4 560.3L1042.8 562.7L1043.2 561.4L1043.6 561.7L1044.0 564.8L1044.4 567.4L1044.8 565.9L1045.2 569.5L1045.6 573.6L1046.0 571.6L1046.4 571.5L1046.8 566.5L1047.2 566.4L1047.6 563.3L1048.0 562.1L1048.4 565.9L1048.8 560.6L1049.2 558.4L1049.6 558.2L1050.0 554.7L1050.4 557.4L1050.9 554.1L1051.3 551.7L1051.7 551.4L1052.1 549.8L1052.5 547.8L1052.9 542.7L1053.3 543.1L1053.7 545.1L1054.1 539.8L1054.5 538.4L1054.9 536.3L1055.3 536.0L1055.7 536.2L1056.1 534.1L1056.5 533.0L1056.9 534.7L1057.3 531.0L1057.7 532.9L1058.1 531.6L1058.5 530.0L1058.9 505.4L1059.3 480.8L1059.7 456.2L1060.2 474.2L1060.6 492.2L1061.3 452.2L1061.7 478.8L1062.1 505.4L1062.5 532.0L1062.9 537.3L1063.3 542.7L1063.7 548.0L1064.1 548.5L1064.5 549.2L1065.0 547.7L1065.4 547.4L1065.8 549.8L1066.2 546.9L1066.6 547.7L1067.0 546.3L1067.5 545.4L1067.9 547.1L1068.3 546.0L1068.7 545.6L1069.1 549.6L1069.5 551.0L1069.9 551.6L1070.3 551.4L1070.8 550.8L1071.2 553.0L1071.6 558.4L1072.0 554.5L1072.4 558.2L1072.8 558.0L1073.2 560.0L1073.6 561.5L1074.0 561.1L1074.4 562.1L1074.8 565.3L1075.2 567.3L1075.6 568.5L1076.0 571.1L1076.4 570.5L1076.8 572.9L1077.2 568.1L1077.6 567.4L1078.0 563.7L1078.4 557.5L1078.8 559.3L1079.2 555.4L1079.7 553.1L1080.1 548.3L1080.5 545.8L1080.9 540.6L1081.3 537.0L1081.7 535.9L1082.1 538.0L1082.5 534.8L1082.9 532.9L1083.3 534.7L1083.8 535.6L1084.2 535.3L1084.6 534.3L1085.0 536.7L1085.4 535.9L1085.8 537.9L1086.2 535.4L1086.6 538.3L1087.1 536.4L1087.5 535.9L1087.9 535.4L1088.3 536.8L1088.7 535.8L1089.1 533.6L1089.5 535.8L1089.9 534.6L1090.4 536.0L1090.8 533.9L1091.2 536.2L1091.6 538.8L1092.0 535.0L1092.4 538.5L1092.8 535.7L1093.2 534.6L1093.7 536.1L1094.1 538.7L1094.5 534.1L1094.9 535.1L1095.3 535.9L1095.7 537.5L1096.1 534.0L1096.5 533.8L1096.9 529.5L1097.3 532.3L1097.8 528.3L1098.2 529.6L1098.6 530.7L1099.0 526.3L1099.4 526.7L1099.8 529.9L1100.2 526.0L1100.6 528.9L1101.0 529.6L1101.4 531.4L1101.8 532.2L1102.3 534.9L1102.7 532.5L1103.1 537.5L1103.5 536.9L1103.9 538.4L1104.3 537.9L1104.7 539.1L1105.1 536.5L1105.5 540.3L1106.0 538.9L1106.4 543.3L1106.8 540.4L1107.2 544.1L1107.6 542.1L1108.0 549.1L1108.4 556.1L1108.8 563.0L1109.2 570.0L1109.6 577.0L1110.0 584.0L1110.4 575.2L1110.8 566.3L1111.2 557.5L1111.7 548.7L1112.1 539.8L1112.5 531.0L1112.9 532.2L1113.3 534.2L1113.7 531.0L1114.1 530.9L1114.6 528.1L1115.0 529.1L1115.4 529.7L1115.8 528.5L1116.2 529.5L1116.6 528.7L1117.0 528.9L1117.4 530.4L1117.8 529.3L1118.3 529.5L1118.7 529.4L1119.1 530.6L1119.5 527.6L1119.9 527.7L1120.3 527.4L1120.7 527.4L1121.1 528.2L1121.5 527.8L1122.0 528.3L1122.4 524.6L1122.8 525.8L1123.2 526.4L1123.6 527.3L1124.0 528.7L1124.4 528.4L1124.8 530.4L1125.3 530.6L1125.7 529.9L1126.1 529.0L1126.5 529.8L1126.9 532.0L1127.3 529.6L1127.7 533.8L1128.1 535.5L1128.6 535.1L1129.0 537.1L1129.4 536.9L1129.8 535.9L1130.2 536.5L1130.6 540.1L1131.0 537.5L1131.4 541.1L1131.8 536.4L1132.2 540.6L1132.6 539.9L1133.0 542.8L1133.4 543.3L1133.8 542.1L1134.2 543.1L1134.6 544.3L1135.1 542.5L1135.5 543.5L1135.9 543.6L1136.3 542.1L1136.7 539.6L1137.1 539.5L1137.5 540.5L1137.9 542.9L1138.4 545.3L1138.8 542.4L1139.2 541.2L1139.6 542.1L1140.0 541.9L1140.4 539.9L1140.8 536.1L1141.2 536.9L1141.7 534.4L1142.1 532.0L1142.5 531.5L1142.9 531.3L1143.3 528.5L1143.7 531.3L1144.1 533.8L1144.5 533.6L1144.9 535.8L1145.3 540.0L1145.7 542.3L1146.1 544.9L1146.5 544.5L1147.0 537.4L1147.5 530.2L1147.9 523.1L1148.4 516.0L1149.0 487.8L1149.5 459.6L1150.0 487.8L1150.6 516.0L1151.0 526.5L1151.5 537.0L1152.0 547.6L1152.4 558.1L1152.8 559.1L1153.2 556.3L1153.6 555.8L1154.0 558.8L1154.4 555.6L1154.8 557.3L1155.2 554.7L1155.7 551.7L1156.1 552.9L1156.5 553.5L1156.9 554.5L1157.3 551.7L1157.7 553.2L1158.1 550.7L1158.5 553.3L1158.9 551.6L1159.3 553.2L1159.7 554.2L1160.1 551.7L1160.5 556.1L1160.9 555.7L1161.4 554.5L1161.8 555.4L1162.2 556.5L1162.6 556.6L1163.0 558.6L1163.4 560.5L1163.8 559.4L1164.2 560.5L1164.6 560.9L1165.0 564.8L1165.5 564.3L1165.9 566.1L1166.3 564.1L1166.7 568.8L1167.2 568.3L1167.6 571.2L1168.0 571.6L1168.5 567.9L1168.9 567.1L1169.3 561.7L1169.8 560.5L1170.2 555.1L1170.7 552.2L1171.1 547.8L1171.6 545.8L1172.0 546.8L1172.4 543.6L1172.8 544.0L1173.2 541.8L1173.7 539.7L1174.1 535.7L1174.5 537.1L1174.9 535.5L1175.3 533.4L1175.7 508.2L1176.2 482.9L1176.6 457.7L1177.0 468.0L1177.5 478.2L1177.9 488.5L1178.4 498.7L1178.8 509.0L1179.2 521.5L1179.6 533.9L1180.0 546.4L1180.4 546.1L1180.8 543.0L1181.2 547.2L1181.6 542.1L1182.0 544.6L1182.5 540.7L1182.9 543.1L1183.3 546.2L1183.7 544.6L1184.1 542.9L1184.5 543.6L1184.9 542.2L1185.4 538.8L1185.8 538.1L1186.3 539.8L1186.7 534.3L1187.2 532.5L1187.6 534.6L1188.0 536.0L1188.4 539.6L1188.8 543.3L1189.3 543.6L1189.7 547.3L1190.1 549.0L1190.5 552.1L1190.9 553.1L1191.3 556.3L1191.7 556.6L1192.1 563.6L1192.5 563.6L1193.0 563.1L1193.4 570.5L1193.8 568.6L1194.2 572.2L1194.6 574.1L1195.0 570.2L1195.4 566.3L1195.9 562.5L1196.3 558.6L1196.7 554.7L1197.1 550.8L1197.5 546.9L1198.0 543.1L1198.4 539.2L1198.8 535.3L1199.2 535.5L1199.6 534.4L1200.0 536.8L1200.5 535.6L1200.9 535.3L1201.3 534.5L1201.7 532.9L1202.1 535.1L1202.5 537.8L1202.9 535.7L1203.4 534.8L1203.8 534.4L1204.2 533.9L1204.6 535.4L1205.0 534.5L1205.4 535.2L1205.9 535.1L1206.3 536.8L1206.7 535.6L1207.1 535.3L1207.6 509.0L1208.0 482.6L1208.5 456.3L1209.0 462.3L1209.4 468.3L1209.9 474.3L1210.4 480.3L1210.8 486.3L1211.3 492.3L1211.7 511.2L1212.2 530.2L1212.6 549.1L1213.0 548.2L1213.4 550.4L1213.8 550.3L1214.2 552.7L1214.7 547.6L1215.1 550.0L1215.5 547.2L1215.9 551.4L1216.3 550.8L1216.7 552.0L1217.1 550.2L1217.5 551.9L1218.0 547.3L1218.4 550.0L1218.8 549.3L1219.2 551.8L1219.6 549.1L1220.0 550.9L1220.4 554.2L1220.8 551.4L1221.3 551.8L1221.7 558.3L1222.1 556.8L1222.5 559.6L1222.9 562.0L1223.3 563.1L1223.8 563.9L1224.2 564.3L1224.6 564.6L1225.0 568.8L1225.4 568.2L1225.8 567.6L1226.2 572.0L1226.7 573.0L1227.1 569.7L1227.5 571.4L1227.9 575.5L1228.3 571.6L1228.7 567.6L1229.2 563.7L1229.6 559.7L1230.0 555.8L1230.4 551.8L1230.9 547.9L1231.3 543.9L1231.7 540.0L1232.1 536.0L1232.6 532.1L1233.0 528.1L1233.4 524.2L1233.8 517.0L1234.2 509.8L1234.7 502.6L1235.1 495.4L1235.5 488.2L1235.9 481.0L1236.3 473.8L1236.8 466.6L1237.2 459.4L1237.6 452.2L1238.1 452.8L1238.5 456.2L1239.0 455.0L1239.5 472.8L1239.9 490.5L1240.3 508.3L1240.8 526.1L1241.2 543.8L1241.7 561.6L1242.2 557.4L1242.6 553.3L1243.1 549.1L1243.5 547.8L1243.9 546.9L1244.3 551.5L1244.7 546.4L1245.1 550.6L1245.5 547.9L1245.9 550.2L1246.3 549.8L1246.7 549.3L1247.1 550.5L1247.5 548.4L1247.9 548.9L1248.3 547.5L1248.7 549.1L1249.1 550.1L1249.5 550.0L1249.9 553.8L1250.3 555.3L1250.7 555.1L1251.1 556.3L1251.5 558.7L1251.9 559.4L1252.4 558.2L1252.8 561.0L1253.2 563.4L1253.6 564.0L1254.0 567.9L1254.4 568.8L1254.8 568.1L1255.2 570.3L1255.6 571.3L1256.0 567.6L1256.4 563.8L1256.8 560.1L1257.2 556.3L1257.7 552.6L1258.1 548.9L1258.5 545.1L1258.9 541.4L1259.3 537.6L1259.7 533.9L1260.1 535.4L1260.5 535.4L1260.9 535.0L1261.3 534.0L1261.7 534.8L1262.1 533.3L1262.6 533.9L1263.0 533.4L1263.4 533.7L1263.8 534.0L1264.2 533.3L1264.6 531.6L1265.0 533.8L1265.4 530.8L1265.8 533.3L1266.2 532.7L1266.6 533.0L1267.0 533.4L1267.4 533.7L1267.8 531.9L1268.3 530.2L1268.7 533.8L1269.1 535.1L1269.5 533.0L1269.9 530.8L1270.3 534.9L1270.7 533.5L1271.1 532.1L1271.5 529.5L1271.9 533.9L1272.3 536.0L1272.7 532.5L1273.1 531.9L1273.5 532.8L1274.0 533.5L1274.4 532.0L1274.8 531.5L1275.2 531.7L1275.6 533.4L1276.0 531.4L1276.4 532.5L1276.9 529.3L1277.3 532.2L1277.8 528.3L1278.2 524.3L1278.6 527.3L1279.1 525.6L1279.5 527.5L1279.9 527.6L1280.3 528.2L1280.7 532.4L1281.1 531.5L1281.5 535.5L1281.9 535.3L1282.3 536.1L1282.7 535.9L1283.2 538.7L1283.6 537.5L1284.0 534.0L1284.4 538.4L1284.8 538.4L1285.3 538.8L1285.7 541.4L1286.1 538.1L1286.6 549.5L1287.0 561.0L1287.5 572.4L1288.0 583.8L1288.4 571.9L1288.9 560.0L1289.3 548.0L1289.8 536.1L1290.2 524.2L1290.6 525.5L1291.0 526.0L1291.4 524.1L1291.8 523.4L1292.2 523.8L1292.7 524.1L1293.1 525.6L1293.5 524.9L1293.9 525.9L1294.3 525.3L1294.7 523.2L1295.1 521.7L1295.5 524.6L1295.9 526.4L1296.3 524.3L1296.7 523.7L1297.2 524.4L1297.6 526.2L1298.0 525.7L1298.4 523.8L1298.8 525.2L1299.2 524.3L1299.6 524.7L1300.0 526.3L1300.4 525.3L1300.8 526.1L1301.2 523.2L1301.6 527.0L1302.1 523.0L1302.5 521.8L1302.9 525.0L1303.3 526.6L1303.7 525.6L1304.1 525.6L1304.5 528.2L1304.9 529.3L1305.3 530.1L1305.7 528.8L1306.1 530.3L1306.5 529.4L1306.9 531.8L1307.3 533.2L1307.8 534.8L1308.2 532.0L1308.6 531.8L1309.0 535.4L1309.4 536.5L1309.8 539.4L1310.2 539.3L1310.6 540.0L1311.0 540.8L1311.4 542.2L1311.8 539.5L1312.2 540.9L1312.6 542.2L1313.0 543.3L1313.4 542.5L1313.8 539.5L1314.2 541.8L1314.7 539.2L1315.1 539.9L1315.5 538.3L1315.9 538.3L1316.3 537.3L1316.7 539.0L1317.1 537.1L1317.5 538.5L1317.9 539.4L1318.3 537.3L1318.7 537.9L1319.2 532.8L1319.6 534.5L1320.0 534.1L1320.4 533.0L1320.8 530.8L1321.3 529.9L1321.7 529.1L1322.1 527.0L1322.5 530.0L1322.9 532.8L1323.3 535.9L1323.7 539.7L1324.1 539.1L1324.5 541.3L1324.9 543.6L1325.3 544.6L1325.8 542.4L1326.2 542.8L1326.6 541.3L1327.0 542.7L1327.5 542.1L1327.9 542.2L1328.3 541.3L1328.7 540.2L1329.2 541.4L1329.6 540.8L1330.1 516.0L1330.7 490.8L1331.2 465.5L1331.8 490.8L1332.3 516.0L1332.8 533.2L1333.2 550.5L1333.6 549.2L1334.0 548.6L1334.4 549.6L1334.8 547.9L1335.3 544.8L1335.7 547.1L1336.1 544.1L1336.5 546.5L1336.9 549.6L1337.3 547.3L1337.7 542.4L1338.1 548.7L1338.5 544.8L1339.0 543.7L1339.4 544.4L1339.8 543.1L1340.2 541.2L1340.6 542.7L1341.0 542.9L1341.4 542.7L1341.8 542.4L1342.2 540.7L1342.7 541.2L1343.1 539.0L1343.5 541.2L1343.9 542.5L1344.3 539.4L1344.7 539.5L1345.1 542.1L1345.6 545.7L1346.0 540.5L1346.4 542.1L1346.8 548.4L1347.2 547.9L1347.7 548.4L1348.1 546.8L1348.5 548.1L1348.9 548.6L1349.3 551.3L1349.8 550.7L1350.2 551.0L1350.6 553.3L1351.0 550.0L1351.4 551.5L1351.8 548.8L1352.2 548.2L1352.6 543.5L1353.0 545.1L1353.4 543.7L1353.9 543.4L1354.3 541.6L1354.7 539.0L1355.1 539.2L1355.5 536.4L1355.9 535.9L1356.3 536.1L1356.7 532.5L1357.1 534.3L1357.6 532.5L1358.0 534.0L1358.4 535.4L1358.9 537.4L1359.3 535.8L1359.7 536.1L1360.1 535.5L1360.6 534.8L1361.0 538.2L1361.4 537.6L1361.9 536.8L1362.3 539.4L1362.7 539.4L1363.1 537.0L1363.6 538.5L1364.0 535.2L1364.4 533.7L1364.8 535.7L1365.3 532.2L1365.7 533.2L1366.1 532.0L1366.5 527.5L1367.0 526.8L1367.4 526.4L1367.8 527.0L1368.2 529.3L1368.6 528.7L1369.1 534.2L1369.5 534.1L1369.9 535.4L1370.3 535.9L1370.7 538.1L1371.2 539.1L1371.6 539.5L1372.0 540.8L1372.4 537.3L1372.9 533.7L1373.3 530.2L1373.7 526.6L1374.1 523.1L1374.6 519.5L1375.0 516.0L1375.5 486.6L1376.1 457.2L1376.6 486.6L1377.2 516.0L1377.8 534.0L1378.3 551.9L1378.7 550.8L1379.1 548.9L1379.5 549.7L1379.9 547.4L1380.3 545.5L1380.7 547.2L1381.1 546.3L1381.6 545.0L1382.0 546.5L1382.4 546.0L1382.8 546.2L1383.2 542.1L1383.6 543.3L1384.0 542.0L1384.4 540.8L1384.8 543.2L1385.2 542.4L1385.6 542.1L1386.0 542.2L1386.5 544.1L1386.9 546.1L1387.3 546.0L1387.7 544.8L1388.1 545.3L1388.5 549.7L1388.9 548.1L1389.3 550.9L1389.7 548.5L1390.2 548.9L1390.6 548.0L1391.0 553.1L1391.4 550.3L1391.8 552.3L1392.2 554.5L1392.6 554.4L1393.0 554.6L1393.4 553.3L1393.9 557.9L1394.3 556.3L1394.7 559.1L1395.1 556.9L1395.5 558.8L1395.9 558.9L1396.4 555.9L1396.8 553.6L1397.2 550.0L1397.7 552.4L1398.1 545.8L1398.5 549.7L1398.9 545.8L1399.4 546.2L1399.8 544.2L1400.2 543.9L1400.7 537.0L1401.1 538.1L1401.5 538.3L1401.9 537.4L1402.3 536.7L1402.7 538.0L1403.1 537.1L1403.5 539.7L1403.9 536.1L1404.3 537.2L1404.7 538.9L1405.1 536.0L1405.5 538.1L1405.9 538.2L1406.4 536.1L1406.8 536.1L1407.2 536.1L1407.6 537.8L1408.0 536.7L1408.4 533.0L1408.8 537.5L1409.2 533.0L1409.6 534.3L1410.0 532.5L1410.4 533.9L1410.8 535.3L1411.2 532.4L1411.7 530.1L1412.1 527.0L1412.5 528.5L1412.9 527.9L1413.4 531.9L1413.8 534.0L1414.2 531.5L1414.6 536.7L1415.0 536.9L1415.5 537.8L1415.9 539.5L1416.3 542.2L1416.7 538.7L1417.1 535.7L1417.5 534.0L1417.9 530.4L1418.3 527.3L1418.7 524.1L1419.1 521.7L1419.5 520.4L1419.9 516.0L1420.5 504.1L1421.0 492.3L1421.5 504.1L1422.1 516.0L1422.7 561.6L1423.1 558.1L1423.5 554.7L1423.9 551.2L1424.3 547.8L1424.8 544.3L1425.2 540.8L1425.6 537.4L1426.0 533.9L1426.4 535.7L1426.8 534.7L1427.2 532.1L1427.6 535.5L1428.1 532.6L1428.5 531.1L1428.9 532.4L1429.3 533.3L1429.7 532.6L1430.1 532.4L1430.5 530.8L1430.9 533.2L1431.3 531.7L1431.8 531.6L1432.2 532.6L1432.6 533.1L1433.0 530.6L1433.4 531.1L1433.8 531.5L1434.2 530.6L1434.6 530.6L1435.0 531.1L1435.5 529.8L1435.9 530.5L1436.3 527.2L1436.7 529.5L1437.1 529.8L1437.5 532.6L1437.9 531.1L1438.3 531.2L1438.7 531.1L1439.2 536.2L1439.6 535.5L1440.0 538.4L1440.4 539.4L1440.8 538.5L1441.2 539.4L1441.6 540.8L1442.0 539.1L1442.4 539.3L1442.8 538.1L1443.2 538.4L1443.6 540.4L1444.0 540.3L1444.4 538.5L1444.8 541.2L1445.2 539.9L1445.6 537.7L1446.0 538.4L1446.4 538.2L1446.8 539.6L1447.2 539.2L1447.7 538.3L1448.1 539.3L1448.5 540.3L1448.9 540.3L1449.3 539.8L1449.7 538.7L1450.1 538.1L1450.5 538.4L1450.9 539.7L1451.3 539.3L1451.7 541.6L1452.1 540.1L1452.5 539.1L1452.9 538.0L1453.3 536.0L1453.7 539.4L1454.1 535.1L1454.5 535.8L1454.9 536.3L1455.3 536.2L1455.8 533.3L1456.2 531.8L1456.6 529.9L1457.0 528.4L1457.5 530.0L1457.9 531.6L1458.3 531.7L1458.8 533.1L1459.2 537.9L1459.7 537.7L1460.1 542.1L1460.6 540.8L1461.0 542.5L1461.4 544.7L1461.9 542.4L1462.3 540.1L1462.7 544.1L1463.1 540.5L1463.5 542.9L1464.0 541.6L1464.4 541.0L1464.8 542.2L1465.2 546.1L1465.7 550.0L1466.1 553.8L1466.6 557.7L1467.0 561.6L1467.4 556.1L1467.8 550.5L1468.2 545.0L1468.6 539.4L1469.0 533.9L1469.4 534.2L1469.8 531.5L1470.3 533.6L1470.7 533.4L1471.1 531.3L1471.5 530.8L1471.9 531.2L1472.3 530.8L1472.8 531.1L1473.2 528.7L1473.6 529.8L1474.0 527.5L1474.4 528.1L1474.8 528.2L1475.3 528.9L1475.7 530.1L1476.1 527.9L1476.5 528.6L1476.9 529.3L1477.3 527.0L1477.8 526.0L1478.2 526.8L1478.6 526.4L1479.0 527.0L1479.4 525.2L1479.8 526.0L1480.2 526.8L1480.7 525.8L1481.1 526.0L1481.5 526.1L1481.9 526.9L1482.3 527.4L1482.7 525.3L1483.1 524.9L1483.5 524.3L1484.0 527.9L1484.4 527.8L1484.8 524.2L1485.2 526.0L1485.6 527.0L1486.0 527.4L1486.4 528.1L1486.8 533.3L1487.2 533.3L1487.7 536.3L1488.1 540.4L1488.5 538.6L1488.9 538.7L1489.3 539.7L1489.7 543.6L1490.1 545.9L1490.5 544.3L1490.9 542.4L1491.3 542.7L1491.7 542.9L1492.1 545.4L1492.5 545.2L1492.9 541.9L1493.3 544.9L1493.7 543.5L1494.1 542.4L1494.6 543.8L1495.0 544.6L1495.4 543.4L1495.8 542.6L1496.2 544.0L1496.6 539.5L1497.0 542.5L1497.4 542.2L1497.8 544.3L1498.2 540.9L1498.6 540.4L1499.0 542.9L1499.4 542.2L1499.8 540.1L1500.2 540.1L1500.7 538.0L1501.1 535.0L1501.5 536.6L1501.9 535.8L1502.3 532.7L1502.8 531.3L1503.2 529.0L1503.6 529.8L1504.0 533.9L1504.4 534.1L1504.8 535.5L1505.2 536.2L1505.6 538.0L1506.0 541.8L1506.4 542.2L1506.8 545.6L1507.2 540.8L1507.6 542.8L1508.0 543.5L1508.5 542.5L1508.9 542.5L1509.3 543.0L1509.7 545.5L1510.1 543.0L1510.5 542.2L1511.3 507.6L1511.8 528.1L1512.2 548.6L1512.7 569.1L1513.1 562.3L1513.5 555.6L1513.9 548.8L1514.3 542.1L1514.7 535.3L1515.1 534.6L1515.5 533.5L1515.9 533.3L1516.4 531.9L1516.8 535.3L1517.2 535.2L1517.6 534.6L1518.0 536.2L1518.4 535.8L1518.8 533.9L1519.2 531.8L1519.7 535.5L1520.1 534.4L1520.5 533.3L1520.9 529.7L1521.3 534.4L1521.7 531.4L1522.1 529.4L1522.6 532.0L1523.0 533.4L1523.4 533.6L1523.8 530.7L1524.2 532.5L1524.6 531.0L1525.0 530.6L1525.4 529.1L1525.9 532.6L1526.3 527.6L1526.7 531.8L1527.1 529.8L1527.5 530.6L1527.9 530.8L1528.3 531.4L1528.7 533.8L1529.1 533.5L1529.5 533.8L1529.9 536.1L1530.3 537.7L1530.7 539.3L1531.1 539.0L1531.5 538.8L1531.9 539.6L1532.3 542.2L1532.7 543.6L1533.1 543.5L1533.5 542.6L1533.9 542.9L1534.3 543.4L1534.7 543.6L1535.1 543.4L1535.5 544.1L1535.9 542.2L1536.3 540.5L1536.7 542.4L1537.1 541.5L1537.6 540.9L1538.0 542.4L1538.4 539.1L1538.8 540.5L1539.2 540.6L1539.6 542.1L1540.0 539.5L1540.4 541.2L1540.8 542.4L1541.2 540.8L1541.6 541.2L1542.0 539.8L1542.4 539.4L1542.8 538.7L1543.2 539.0L1543.7 535.8L1544.1 533.1L1544.5 536.0L1544.9 532.2L1545.4 532.7L1545.8 532.0L1546.2 532.6L1546.6 532.3L1547.1 527.9L1547.5 528.9L1547.9 527.0L1548.3 527.7L1548.7 531.1L1549.2 532.0L1549.6 534.2L1550.0 533.0L1550.4 536.4L1550.8 538.3L1551.3 539.4L1551.7 542.3L1552.1 542.2L1552.5 542.5L1552.9 540.4L1553.3 539.8L1553.7 540.6L1554.2 543.4L1554.6 542.6L1555.0 540.4L1555.4 541.4L1555.8 542.0L1556.2 542.2L1556.5 516.0L1557.1 497.1L1557.6 506.6L1558.2 516.0L1558.5 561.6L1558.9 558.1L1559.3 554.7L1559.7 551.2L1560.2 547.8L1560.6 544.3L1561.0 540.8L1561.4 537.4L1561.8 533.9L1562.2 532.9L1562.6 531.8L1563.0 533.2L1563.4 535.9L1563.9 534.1L1564.3 534.6L1564.7 533.0L1565.1 535.5L1565.5 533.1L1565.9 534.6L1566.3 536.1L1566.7 533.4L1567.1 533.8L1567.6 534.4L1568.0 533.2L1568.4 530.7L1568.8 533.5L1569.2 531.7L1569.6 536.1L1570.0 533.4L1570.4 535.1L1570.8 535.0L1571.3 532.4L1571.7 535.1L1572.1 535.0L1572.5 535.6L1572.9 533.9L1573.3 534.3L1573.7 534.2L1574.1 535.0L1574.5 535.7L1575.0 536.6L1575.4 536.6L1575.8 540.3L1576.2 539.0L1576.6 540.6L1577.0 540.8L1577.4 540.9L1577.8 540.5L1578.2 540.1L1578.6 540.8L1579.0 538.9L1579.4 539.7L1579.8 541.7L1580.2 541.4L1580.6 538.9L1581.0 538.9L1581.4 541.1L1581.8 538.9L1582.2 539.5L1582.6 539.8L1583.0 538.7L1583.5 539.9L1583.9 540.7L1584.3 539.1L1584.7 540.2L1585.1 540.2L1585.5 540.7L1585.9 537.8L1586.3 542.3L1586.7 538.6L1587.1 539.6L1587.5 538.0L1587.9 539.8L1588.3 542.0L1588.7 540.3L1589.1 535.8L1589.5 539.4L1589.9 538.1L1590.3 536.5L1590.7 535.3L1591.1 535.7L1591.5 533.8L1592.0 533.2L1592.4 532.4L1592.8 531.0L1593.2 530.1L1593.6 528.4L1594.0 530.4L1594.4 530.7L1594.8 531.7L1595.2 534.0L1595.6 535.0L1596.0 537.3L1596.4 537.2L1596.8 540.3L1597.2 540.8" fill="none" stroke="#000" stroke-width="1.8" stroke-linejoin="round" stroke-linecap="round"/>
<line x1="101.0" y1="198.4" x2="245.0" y2="198.4" stroke="#000" stroke-width="6.2" stroke-linecap="round"/>
<line x1="1000.0" y1="198.0" x2="1090.5" y2="198.0" stroke="#000" stroke-width="6.2" stroke-linecap="round"/>
<line x1="101.0" y1="380.0" x2="218.0" y2="380.0" stroke="#000" stroke-width="6.2" stroke-linecap="round"/>
<line x1="999.5" y1="379.8" x2="1053.5" y2="379.8" stroke="#000" stroke-width="6.2" stroke-linecap="round"/>
<line x1="101.0" y1="614.0" x2="209.0" y2="614.0" stroke="#000" stroke-width="6.2" stroke-linecap="round"/>
<rect x="301.5" y="726.2" width="161.4" height="268" fill="#a6a6a6"/>
<line x1="298.5" y1="722.9" x2="298.5" y2="1007.6" stroke="#000" stroke-width="6.5" stroke-linecap="butt"/>
<line x1="285.5" y1="726.1" x2="298.5" y2="726.1" stroke="#000" stroke-width="6.5" stroke-linecap="butt"/>
<text x="274.0" y="742.0" font-size="40" text-anchor="end" fill="#000">1,000</text>
<line x1="285.5" y1="792.9" x2="298.5" y2="792.9" stroke="#000" stroke-width="6.5" stroke-linecap="butt"/>
<text x="274.0" y="808.8" font-size="40" text-anchor="end" fill="#000">100</text>
<line x1="285.5" y1="860.1" x2="298.5" y2="860.1" stroke="#000" stroke-width="6.5" stroke-linecap="butt"/>
<text x="274.0" y="876.0" font-size="40" text-anchor="end" fill="#000">10</text>
<line x1="285.5" y1="927.4" x2="298.5" y2="927.4" stroke="#000" stroke-width="6.5" stroke-linecap="butt"/>
<text x="274.0" y="943.3" font-size="40" text-anchor="end" fill="#000">1</text>
<line x1="285.5" y1="994.4" x2="298.5" y2="994.4" stroke="#000" stroke-width="6.5" stroke-linecap="butt"/>
<text x="274.0" y="1010.3" font-size="40" text-anchor="end" fill="#000">0</text>
<line x1="295.3" y1="994.4" x2="705.2" y2="994.4" stroke="#000" stroke-width="6.5" stroke-linecap="butt"/>
<line x1="701.9" y1="991.2" x2="701.9" y2="1007.6" stroke="#000" stroke-width="6.5" stroke-linecap="butt"/>
<text x="297.6" y="1055.4" font-size="40" text-anchor="middle" fill="#000">0</text>
<text x="699.6" y="1055.4" font-size="40" text-anchor="middle" fill="#000">7</text>
<text x="510.0" y="1104.5" font-size="40" text-anchor="middle" fill="#000" textLength="463.0" lengthAdjust="spacingAndGlyphs">Observation period (days)</text>
<text transform="translate(108.8,859.2) rotate(-90)" font-size="40" text-anchor="middle" fill="#000" textLength="305.0" lengthAdjust="spacingAndGlyphs">Arrhytmic events</text>
<text transform="translate(162.5,859.4) rotate(-90)" font-size="40" text-anchor="middle" fill="#000" textLength="157.0" lengthAdjust="spacingAndGlyphs">(per day)</text>
<polyline points="472.6,935.2 528.8,946.4 586.2,947.6 644.0,947.6" fill="none" stroke="#000" stroke-width="5" stroke-linejoin="miter"/>
<line x1="528.8" y1="946.4" x2="528.8" y2="986.3" stroke="#000" stroke-width="5" stroke-linecap="butt"/>
<line x1="521.8" y1="986.3" x2="535.8" y2="986.3" stroke="#000" stroke-width="5" stroke-linecap="butt"/>
<line x1="586.2" y1="947.6" x2="586.2" y2="986.3" stroke="#000" stroke-width="5" stroke-linecap="butt"/>
<line x1="579.2" y1="986.3" x2="593.2" y2="986.3" stroke="#000" stroke-width="5" stroke-linecap="butt"/>
<line x1="644.0" y1="947.6" x2="644.0" y2="909.0" stroke="#000" stroke-width="5" stroke-linecap="butt"/>
<line x1="637.0" y1="909.0" x2="651.0" y2="909.0" stroke="#000" stroke-width="5" stroke-linecap="butt"/>
<polyline points="471.4,947.5 528.8,947.5 586.2,947.5 644.0,926.9" fill="none" stroke="#a00000" stroke-width="5" stroke-linejoin="miter"/>
<line x1="471.4" y1="947.5" x2="471.4" y2="915.5" stroke="#a00000" stroke-width="5" stroke-linecap="butt"/>
<line x1="464.4" y1="915.5" x2="478.4" y2="915.5" stroke="#a00000" stroke-width="5" stroke-linecap="butt"/>
<line x1="464.4" y1="947.5" x2="478.4" y2="947.5" stroke="#a00000" stroke-width="5" stroke-linecap="butt"/>
<line x1="528.8" y1="947.5" x2="528.8" y2="895.3" stroke="#a00000" stroke-width="5" stroke-linecap="butt"/>
<line x1="521.8" y1="895.3" x2="535.8" y2="895.3" stroke="#a00000" stroke-width="5" stroke-linecap="butt"/>
<line x1="586.2" y1="947.5" x2="586.2" y2="898.3" stroke="#a00000" stroke-width="5" stroke-linecap="butt"/>
<line x1="579.2" y1="898.3" x2="593.2" y2="898.3" stroke="#a00000" stroke-width="5" stroke-linecap="butt"/>
<line x1="644.0" y1="915.5" x2="644.0" y2="947.5" stroke="#a00000" stroke-width="5" stroke-linecap="butt"/>
<line x1="637.0" y1="915.5" x2="651.0" y2="915.5" stroke="#a00000" stroke-width="5" stroke-linecap="butt"/>
<line x1="637.0" y1="947.5" x2="651.0" y2="947.5" stroke="#a00000" stroke-width="5" stroke-linecap="butt"/>
<line x1="1284.5" y1="726.8" x2="1284.5" y2="954.5" stroke="#000" stroke-width="6.5" stroke-linecap="butt"/>
<line x1="1270.0" y1="730.1" x2="1284.5" y2="730.1" stroke="#000" stroke-width="6.5" stroke-linecap="butt"/>
<text x="1256.0" y="746.0" font-size="40" text-anchor="end" fill="#000">1,000</text>
<line x1="1270.0" y1="785.1" x2="1284.5" y2="785.1" stroke="#000" stroke-width="6.5" stroke-linecap="butt"/>
<text x="1256.0" y="801.0" font-size="40" text-anchor="end" fill="#000">100</text>
<line x1="1270.0" y1="840.9" x2="1284.5" y2="840.9" stroke="#000" stroke-width="6.5" stroke-linecap="butt"/>
<text x="1256.0" y="856.8" font-size="40" text-anchor="end" fill="#000">10</text>
<line x1="1270.0" y1="895.5" x2="1284.5" y2="895.5" stroke="#000" stroke-width="6.5" stroke-linecap="butt"/>
<text x="1256.0" y="911.4" font-size="40" text-anchor="end" fill="#000">1</text>
<line x1="1270.0" y1="951.3" x2="1284.5" y2="951.3" stroke="#000" stroke-width="6.5" stroke-linecap="butt"/>
<text x="1256.0" y="967.2" font-size="40" text-anchor="end" fill="#000">0</text>
<line x1="1326.6" y1="996.9" x2="1601.0" y2="996.9" stroke="#000" stroke-width="6.5" stroke-linecap="butt"/>
<line x1="1418.3" y1="996.9" x2="1418.3" y2="1009.5" stroke="#000" stroke-width="6.5" stroke-linecap="butt"/>
<line x1="1507.5" y1="996.9" x2="1507.5" y2="1009.5" stroke="#000" stroke-width="6.5" stroke-linecap="butt"/>
<text x="1418.3" y="1061.0" font-size="40" text-anchor="middle" fill="#000" textLength="61.0" lengthAdjust="spacingAndGlyphs">Ctrl</text>
<text x="1511.6" y="1061.0" font-size="40" text-anchor="middle" fill="#000" textLength="92.4" lengthAdjust="spacingAndGlyphs">hEHT</text>
<text transform="translate(1080.6,863.0) rotate(-90)" font-size="40" text-anchor="middle" fill="#000" textLength="305.6" lengthAdjust="spacingAndGlyphs">Arrhytmic events</text>
<text transform="translate(1134.6,862.0) rotate(-90)" font-size="40" text-anchor="middle" fill="#000" textLength="349.8" lengthAdjust="spacingAndGlyphs">(total amount d3-6)</text>
<line x1="1374.2" y1="885.8" x2="1462.3" y2="885.8" stroke="#000" stroke-width="5" stroke-linecap="butt"/>
<line x1="1418.3" y1="846.3" x2="1418.3" y2="922.5" stroke="#000" stroke-width="5" stroke-linecap="butt"/>
<line x1="1396.7" y1="846.3" x2="1439.9" y2="846.3" stroke="#000" stroke-width="5" stroke-linecap="butt"/>
<line x1="1396.7" y1="922.5" x2="1439.9" y2="922.5" stroke="#000" stroke-width="5" stroke-linecap="butt"/>
<circle cx="1418.3" cy="821.1" r="6.8" fill="#000"/>
<circle cx="1428.9" cy="842.7" r="6.8" fill="#000"/>
<circle cx="1407.5" cy="862.4" r="6.8" fill="#000"/>
<circle cx="1439.1" cy="878.3" r="6.8" fill="#000"/>
<circle cx="1397.8" cy="895.5" r="6.8" fill="#000"/>
<circle cx="1418.3" cy="895.5" r="6.8" fill="#000"/>
<circle cx="1407.5" cy="951.3" r="6.8" fill="#000"/>
<circle cx="1428.3" cy="951.3" r="6.8" fill="#000"/>
<line x1="1463.7" y1="878.6" x2="1551.3" y2="878.6" stroke="#000" stroke-width="5" stroke-linecap="butt"/>
<line x1="1507.5" y1="840.9" x2="1507.5" y2="895.5" stroke="#000" stroke-width="5" stroke-linecap="butt"/>
<line x1="1486.1" y1="840.9" x2="1528.9" y2="840.9" stroke="#000" stroke-width="5" stroke-linecap="butt"/>
<line x1="1486.1" y1="895.5" x2="1528.9" y2="895.5" stroke="#000" stroke-width="5" stroke-linecap="butt"/>
<circle cx="1497.4" cy="811.0" r="6.8" fill="#a00000"/>
<circle cx="1517.5" cy="827.2" r="6.8" fill="#a00000"/>
<circle cx="1517.5" cy="848.8" r="6.8" fill="#a00000"/>
<circle cx="1497.4" cy="868.6" r="6.8" fill="#a00000"/>
<circle cx="1473.3" cy="878.6" r="6.8" fill="#a00000"/>
<circle cx="1524.7" cy="878.6" r="6.8" fill="#a00000"/>
<circle cx="1542.7" cy="878.6" r="6.8" fill="#a00000"/>
<circle cx="1489.5" cy="896.2" r="6.8" fill="#a00000"/>
<circle cx="1507.5" cy="896.2" r="6.8" fill="#a00000"/>
<circle cx="1507.5" cy="951.3" r="6.8" fill="#a00000"/>
<rect x="300.9" y="1207" width="46.1" height="270.3" fill="#a6a6a6"/>
<line x1="297.5" y1="1205.6" x2="297.5" y2="1490.5" stroke="#000" stroke-width="6.5" stroke-linecap="butt"/>
<line x1="284.2" y1="1208.8" x2="297.5" y2="1208.8" stroke="#000" stroke-width="6.5" stroke-linecap="butt"/>
<text x="274.5" y="1224.7" font-size="40" text-anchor="end" fill="#000">1,000</text>
<line x1="284.2" y1="1276.3" x2="297.5" y2="1276.3" stroke="#000" stroke-width="6.5" stroke-linecap="butt"/>
<text x="274.5" y="1292.2" font-size="40" text-anchor="end" fill="#000">100</text>
<line x1="284.2" y1="1343.5" x2="297.5" y2="1343.5" stroke="#000" stroke-width="6.5" stroke-linecap="butt"/>
<text x="274.5" y="1359.4" font-size="40" text-anchor="end" fill="#000">10</text>
<line x1="284.2" y1="1410.5" x2="297.5" y2="1410.5" stroke="#000" stroke-width="6.5" stroke-linecap="butt"/>
<text x="274.5" y="1426.4" font-size="40" text-anchor="end" fill="#000">1</text>
<line x1="284.2" y1="1477.3" x2="297.5" y2="1477.3" stroke="#000" stroke-width="6.5" stroke-linecap="butt"/>
<text x="274.5" y="1493.2" font-size="40" text-anchor="end" fill="#000">0</text>
<line x1="294.3" y1="1477.3" x2="928.6" y2="1477.3" stroke="#000" stroke-width="6.5" stroke-linecap="butt"/>
<line x1="297.4" y1="1477.3" x2="297.4" y2="1490.5" stroke="#000" stroke-width="6.5" stroke-linecap="butt"/>
<text x="297.4" y="1530.5" font-size="40" text-anchor="middle" fill="#000">7</text>
<line x1="454.4" y1="1477.3" x2="454.4" y2="1490.5" stroke="#000" stroke-width="6.5" stroke-linecap="butt"/>
<text x="454.4" y="1530.5" font-size="40" text-anchor="middle" fill="#000">14</text>
<line x1="611.4" y1="1477.3" x2="611.4" y2="1490.5" stroke="#000" stroke-width="6.5" stroke-linecap="butt"/>
<text x="611.4" y="1530.5" font-size="40" text-anchor="middle" fill="#000">21</text>
<line x1="768.4" y1="1477.3" x2="768.4" y2="1490.5" stroke="#000" stroke-width="6.5" stroke-linecap="butt"/>
<text x="768.4" y="1530.5" font-size="40" text-anchor="middle" fill="#000">28</text>
<line x1="925.4" y1="1477.3" x2="925.4" y2="1490.5" stroke="#000" stroke-width="6.5" stroke-linecap="butt"/>
<text x="925.4" y="1530.5" font-size="40" text-anchor="middle" fill="#000">35</text>
<text x="613.7" y="1580.8" font-size="40" text-anchor="middle" fill="#000" textLength="465.0" lengthAdjust="spacingAndGlyphs">Observation period (days)</text>
<text transform="translate(108.8,1345.8) rotate(-90)" font-size="40" text-anchor="middle" fill="#000" textLength="304.4" lengthAdjust="spacingAndGlyphs">Arrhytmic events</text>
<text transform="translate(162.5,1341.0) rotate(-90)" font-size="40" text-anchor="middle" fill="#000" textLength="157.0" lengthAdjust="spacingAndGlyphs">(per day)</text>
<line x1="364.7" y1="1373.9" x2="364.7" y2="1357.3" stroke="#000" stroke-width="5" stroke-linecap="butt"/>
<line x1="355.9" y1="1357.3" x2="373.4" y2="1357.3" stroke="#000" stroke-width="5" stroke-linecap="butt"/>
<line x1="364.7" y1="1373.9" x2="364.7" y2="1423.9" stroke="#000" stroke-width="5" stroke-linecap="butt"/>
<line x1="355.9" y1="1423.9" x2="373.4" y2="1423.9" stroke="#000" stroke-width="5" stroke-linecap="butt"/>
<line x1="387.1" y1="1410.8" x2="387.1" y2="1371.6" stroke="#000" stroke-width="5" stroke-linecap="butt"/>
<line x1="378.4" y1="1371.6" x2="395.9" y2="1371.6" stroke="#000" stroke-width="5" stroke-linecap="butt"/>
<line x1="387.1" y1="1410.8" x2="387.1" y2="1424.4" stroke="#000" stroke-width="5" stroke-linecap="butt"/>
<line x1="378.4" y1="1424.4" x2="395.9" y2="1424.4" stroke="#000" stroke-width="5" stroke-linecap="butt"/>
<line x1="409.5" y1="1427.8" x2="409.5" y2="1360.5" stroke="#000" stroke-width="5" stroke-linecap="butt"/>
<line x1="400.8" y1="1360.5" x2="418.3" y2="1360.5" stroke="#000" stroke-width="5" stroke-linecap="butt"/>
<line x1="409.5" y1="1427.8" x2="409.5" y2="1430.8" stroke="#000" stroke-width="5" stroke-linecap="butt"/>
<line x1="400.8" y1="1430.8" x2="418.3" y2="1430.8" stroke="#000" stroke-width="5" stroke-linecap="butt"/>
<line x1="432.0" y1="1427.8" x2="432.0" y2="1367.7" stroke="#000" stroke-width="5" stroke-linecap="butt"/>
<line x1="423.2" y1="1367.7" x2="440.7" y2="1367.7" stroke="#000" stroke-width="5" stroke-linecap="butt"/>
<line x1="432.0" y1="1427.8" x2="432.0" y2="1430.8" stroke="#000" stroke-width="5" stroke-linecap="butt"/>
<line x1="423.2" y1="1430.8" x2="440.7" y2="1430.8" stroke="#000" stroke-width="5" stroke-linecap="butt"/>
<line x1="454.4" y1="1392.4" x2="454.4" y2="1359.3" stroke="#000" stroke-width="5" stroke-linecap="butt"/>
<line x1="445.7" y1="1359.3" x2="463.2" y2="1359.3" stroke="#000" stroke-width="5" stroke-linecap="butt"/>
<line x1="476.8" y1="1378.5" x2="476.8" y2="1332.0" stroke="#000" stroke-width="5" stroke-linecap="butt"/>
<line x1="468.1" y1="1332.0" x2="485.6" y2="1332.0" stroke="#000" stroke-width="5" stroke-linecap="butt"/>
<line x1="476.8" y1="1378.5" x2="476.8" y2="1410.0" stroke="#000" stroke-width="5" stroke-linecap="butt"/>
<line x1="468.1" y1="1410.0" x2="485.6" y2="1410.0" stroke="#000" stroke-width="5" stroke-linecap="butt"/>
<line x1="499.3" y1="1378.5" x2="499.3" y2="1347.0" stroke="#000" stroke-width="5" stroke-linecap="butt"/>
<line x1="490.5" y1="1347.0" x2="508.0" y2="1347.0" stroke="#000" stroke-width="5" stroke-linecap="butt"/>
<line x1="521.7" y1="1395.4" x2="521.7" y2="1390.5" stroke="#000" stroke-width="5" stroke-linecap="butt"/>
<line x1="513.0" y1="1390.5" x2="530.5" y2="1390.5" stroke="#000" stroke-width="5" stroke-linecap="butt"/>
<line x1="544.1" y1="1431.6" x2="544.1" y2="1431.6" stroke="#000" stroke-width="5" stroke-linecap="butt"/>
<line x1="535.4" y1="1431.6" x2="552.9" y2="1431.6" stroke="#000" stroke-width="5" stroke-linecap="butt"/>
<line x1="566.6" y1="1377.7" x2="566.6" y2="1370.5" stroke="#000" stroke-width="5" stroke-linecap="butt"/>
<line x1="557.8" y1="1370.5" x2="575.3" y2="1370.5" stroke="#000" stroke-width="5" stroke-linecap="butt"/>
<line x1="589.0" y1="1406.2" x2="589.0" y2="1430.8" stroke="#000" stroke-width="5" stroke-linecap="butt"/>
<line x1="580.2" y1="1430.8" x2="597.7" y2="1430.8" stroke="#000" stroke-width="5" stroke-linecap="butt"/>
<line x1="611.4" y1="1383.9" x2="611.4" y2="1343.1" stroke="#000" stroke-width="5" stroke-linecap="butt"/>
<line x1="602.7" y1="1343.1" x2="620.2" y2="1343.1" stroke="#000" stroke-width="5" stroke-linecap="butt"/>
<line x1="611.4" y1="1383.9" x2="611.4" y2="1424.4" stroke="#000" stroke-width="5" stroke-linecap="butt"/>
<line x1="602.7" y1="1424.4" x2="620.2" y2="1424.4" stroke="#000" stroke-width="5" stroke-linecap="butt"/>
<line x1="633.8" y1="1398.5" x2="633.8" y2="1430.8" stroke="#000" stroke-width="5" stroke-linecap="butt"/>
<line x1="625.1" y1="1430.8" x2="642.6" y2="1430.8" stroke="#000" stroke-width="5" stroke-linecap="butt"/>
<line x1="656.3" y1="1416.2" x2="656.3" y2="1371.6" stroke="#000" stroke-width="5" stroke-linecap="butt"/>
<line x1="647.5" y1="1371.6" x2="665.0" y2="1371.6" stroke="#000" stroke-width="5" stroke-linecap="butt"/>
<line x1="656.3" y1="1416.2" x2="656.3" y2="1430.8" stroke="#000" stroke-width="5" stroke-linecap="butt"/>
<line x1="647.5" y1="1430.8" x2="665.0" y2="1430.8" stroke="#000" stroke-width="5" stroke-linecap="butt"/>
<line x1="678.7" y1="1412.4" x2="678.7" y2="1430.8" stroke="#000" stroke-width="5" stroke-linecap="butt"/>
<line x1="670.0" y1="1430.8" x2="687.5" y2="1430.8" stroke="#000" stroke-width="5" stroke-linecap="butt"/>
<line x1="701.1" y1="1413.0" x2="701.1" y2="1378.5" stroke="#000" stroke-width="5" stroke-linecap="butt"/>
<line x1="692.4" y1="1378.5" x2="709.9" y2="1378.5" stroke="#000" stroke-width="5" stroke-linecap="butt"/>
<line x1="723.6" y1="1417.0" x2="723.6" y2="1376.2" stroke="#000" stroke-width="5" stroke-linecap="butt"/>
<line x1="714.8" y1="1376.2" x2="732.3" y2="1376.2" stroke="#000" stroke-width="5" stroke-linecap="butt"/>
<line x1="746.0" y1="1398.5" x2="746.0" y2="1378.5" stroke="#000" stroke-width="5" stroke-linecap="butt"/>
<line x1="737.2" y1="1378.5" x2="754.8" y2="1378.5" stroke="#000" stroke-width="5" stroke-linecap="butt"/>
<line x1="746.0" y1="1398.5" x2="746.0" y2="1424.4" stroke="#000" stroke-width="5" stroke-linecap="butt"/>
<line x1="737.2" y1="1424.4" x2="754.8" y2="1424.4" stroke="#000" stroke-width="5" stroke-linecap="butt"/>
<line x1="768.4" y1="1407.8" x2="768.4" y2="1393.9" stroke="#000" stroke-width="5" stroke-linecap="butt"/>
<line x1="759.7" y1="1393.9" x2="777.2" y2="1393.9" stroke="#000" stroke-width="5" stroke-linecap="butt"/>
<line x1="768.4" y1="1407.8" x2="768.4" y2="1424.4" stroke="#000" stroke-width="5" stroke-linecap="butt"/>
<line x1="759.7" y1="1424.4" x2="777.2" y2="1424.4" stroke="#000" stroke-width="5" stroke-linecap="butt"/>
<line x1="790.9" y1="1390.3" x2="790.9" y2="1371.7" stroke="#000" stroke-width="5" stroke-linecap="butt"/>
<line x1="782.1" y1="1371.7" x2="799.6" y2="1371.7" stroke="#000" stroke-width="5" stroke-linecap="butt"/>
<line x1="790.9" y1="1390.3" x2="790.9" y2="1430.7" stroke="#000" stroke-width="5" stroke-linecap="butt"/>
<line x1="782.1" y1="1430.7" x2="799.6" y2="1430.7" stroke="#000" stroke-width="5" stroke-linecap="butt"/>
<line x1="813.3" y1="1430.2" x2="813.3" y2="1369.8" stroke="#000" stroke-width="5" stroke-linecap="butt"/>
<line x1="804.5" y1="1369.8" x2="822.0" y2="1369.8" stroke="#000" stroke-width="5" stroke-linecap="butt"/>
<line x1="813.3" y1="1430.2" x2="813.3" y2="1430.8" stroke="#000" stroke-width="5" stroke-linecap="butt"/>
<line x1="804.5" y1="1430.8" x2="822.0" y2="1430.8" stroke="#000" stroke-width="5" stroke-linecap="butt"/>
<line x1="835.7" y1="1374.2" x2="835.7" y2="1350.4" stroke="#000" stroke-width="5" stroke-linecap="butt"/>
<line x1="827.0" y1="1350.4" x2="844.5" y2="1350.4" stroke="#000" stroke-width="5" stroke-linecap="butt"/>
<line x1="835.7" y1="1374.2" x2="835.7" y2="1414.0" stroke="#000" stroke-width="5" stroke-linecap="butt"/>
<line x1="827.0" y1="1414.0" x2="844.5" y2="1414.0" stroke="#000" stroke-width="5" stroke-linecap="butt"/>
<line x1="858.1" y1="1386.4" x2="858.1" y2="1291.1" stroke="#000" stroke-width="5" stroke-linecap="butt"/>
<line x1="849.4" y1="1291.1" x2="866.9" y2="1291.1" stroke="#000" stroke-width="5" stroke-linecap="butt"/>
<line x1="858.1" y1="1386.4" x2="858.1" y2="1430.8" stroke="#000" stroke-width="5" stroke-linecap="butt"/>
<line x1="849.4" y1="1430.8" x2="866.9" y2="1430.8" stroke="#000" stroke-width="5" stroke-linecap="butt"/>
<line x1="880.6" y1="1410.8" x2="880.6" y2="1333.0" stroke="#000" stroke-width="5" stroke-linecap="butt"/>
<line x1="871.8" y1="1333.0" x2="889.3" y2="1333.0" stroke="#000" stroke-width="5" stroke-linecap="butt"/>
<line x1="880.6" y1="1410.8" x2="880.6" y2="1430.7" stroke="#000" stroke-width="5" stroke-linecap="butt"/>
<line x1="871.8" y1="1430.7" x2="889.3" y2="1430.7" stroke="#000" stroke-width="5" stroke-linecap="butt"/>
<line x1="903.0" y1="1410.8" x2="903.0" y2="1430.8" stroke="#000" stroke-width="5" stroke-linecap="butt"/>
<line x1="894.3" y1="1430.8" x2="911.8" y2="1430.8" stroke="#000" stroke-width="5" stroke-linecap="butt"/>
<line x1="925.4" y1="1336.5" x2="925.4" y2="1318.2" stroke="#000" stroke-width="5" stroke-linecap="butt"/>
<line x1="916.7" y1="1318.2" x2="934.2" y2="1318.2" stroke="#000" stroke-width="5" stroke-linecap="butt"/>
<line x1="925.4" y1="1336.5" x2="925.4" y2="1389.7" stroke="#000" stroke-width="5" stroke-linecap="butt"/>
<line x1="916.7" y1="1389.7" x2="934.2" y2="1389.7" stroke="#000" stroke-width="5" stroke-linecap="butt"/>
<polyline points="364.7,1373.9 387.1,1410.8 409.5,1427.8 432.0,1427.8 454.4,1392.4 476.8,1378.5 499.3,1378.5 521.7,1395.4 544.1,1431.6 566.6,1377.7 589.0,1406.2 611.4,1383.9 633.8,1398.5 656.3,1416.2 678.7,1412.4 701.1,1413.0 723.6,1417.0 746.0,1398.5 768.4,1407.8 790.9,1390.3 813.3,1430.2 835.7,1374.2 858.1,1386.4 880.6,1410.8 903.0,1410.8 925.4,1336.5" fill="none" stroke="#000" stroke-width="5" stroke-linejoin="miter"/>
<line x1="364.7" y1="1391.6" x2="364.7" y2="1357.3" stroke="#a00000" stroke-width="5" stroke-linecap="butt"/>
<line x1="355.9" y1="1357.3" x2="373.4" y2="1357.3" stroke="#a00000" stroke-width="5" stroke-linecap="butt"/>
<line x1="364.7" y1="1391.6" x2="364.7" y2="1430.8" stroke="#a00000" stroke-width="5" stroke-linecap="butt"/>
<line x1="355.9" y1="1430.8" x2="373.4" y2="1430.8" stroke="#a00000" stroke-width="5" stroke-linecap="butt"/>
<line x1="387.1" y1="1408.5" x2="387.1" y2="1390.0" stroke="#a00000" stroke-width="5" stroke-linecap="butt"/>
<line x1="378.4" y1="1390.0" x2="395.9" y2="1390.0" stroke="#a00000" stroke-width="5" stroke-linecap="butt"/>
<line x1="387.1" y1="1408.5" x2="387.1" y2="1430.8" stroke="#a00000" stroke-width="5" stroke-linecap="butt"/>
<line x1="378.4" y1="1430.8" x2="395.9" y2="1430.8" stroke="#a00000" stroke-width="5" stroke-linecap="butt"/>
<line x1="409.5" y1="1398.5" x2="409.5" y2="1352.0" stroke="#a00000" stroke-width="5" stroke-linecap="butt"/>
<line x1="400.8" y1="1352.0" x2="418.3" y2="1352.0" stroke="#a00000" stroke-width="5" stroke-linecap="butt"/>
<line x1="409.5" y1="1398.5" x2="409.5" y2="1430.8" stroke="#a00000" stroke-width="5" stroke-linecap="butt"/>
<line x1="400.8" y1="1430.8" x2="418.3" y2="1430.8" stroke="#a00000" stroke-width="5" stroke-linecap="butt"/>
<line x1="432.0" y1="1407.8" x2="432.0" y2="1373.9" stroke="#a00000" stroke-width="5" stroke-linecap="butt"/>
<line x1="423.2" y1="1373.9" x2="440.7" y2="1373.9" stroke="#a00000" stroke-width="5" stroke-linecap="butt"/>
<line x1="432.0" y1="1407.8" x2="432.0" y2="1430.8" stroke="#a00000" stroke-width="5" stroke-linecap="butt"/>
<line x1="423.2" y1="1430.8" x2="440.7" y2="1430.8" stroke="#a00000" stroke-width="5" stroke-linecap="butt"/>
<line x1="454.4" y1="1429.3" x2="454.4" y2="1387.0" stroke="#a00000" stroke-width="5" stroke-linecap="butt"/>
<line x1="445.7" y1="1387.0" x2="463.2" y2="1387.0" stroke="#a00000" stroke-width="5" stroke-linecap="butt"/>
<line x1="454.4" y1="1429.3" x2="454.4" y2="1430.8" stroke="#a00000" stroke-width="5" stroke-linecap="butt"/>
<line x1="445.7" y1="1430.8" x2="463.2" y2="1430.8" stroke="#a00000" stroke-width="5" stroke-linecap="butt"/>
<line x1="476.8" y1="1410.0" x2="476.8" y2="1349.0" stroke="#a00000" stroke-width="5" stroke-linecap="butt"/>
<line x1="468.1" y1="1349.0" x2="485.6" y2="1349.0" stroke="#a00000" stroke-width="5" stroke-linecap="butt"/>
<line x1="476.8" y1="1410.0" x2="476.8" y2="1430.8" stroke="#a00000" stroke-width="5" stroke-linecap="butt"/>
<line x1="468.1" y1="1430.8" x2="485.6" y2="1430.8" stroke="#a00000" stroke-width="5" stroke-linecap="butt"/>
<line x1="499.3" y1="1410.0" x2="499.3" y2="1343.9" stroke="#a00000" stroke-width="5" stroke-linecap="butt"/>
<line x1="490.5" y1="1343.9" x2="508.0" y2="1343.9" stroke="#a00000" stroke-width="5" stroke-linecap="butt"/>
<line x1="499.3" y1="1410.0" x2="499.3" y2="1430.8" stroke="#a00000" stroke-width="5" stroke-linecap="butt"/>
<line x1="490.5" y1="1430.8" x2="508.0" y2="1430.8" stroke="#a00000" stroke-width="5" stroke-linecap="butt"/>
<line x1="521.7" y1="1429.3" x2="521.7" y2="1366.5" stroke="#a00000" stroke-width="5" stroke-linecap="butt"/>
<line x1="513.0" y1="1366.5" x2="530.5" y2="1366.5" stroke="#a00000" stroke-width="5" stroke-linecap="butt"/>
<line x1="521.7" y1="1429.3" x2="521.7" y2="1430.8" stroke="#a00000" stroke-width="5" stroke-linecap="butt"/>
<line x1="513.0" y1="1430.8" x2="530.5" y2="1430.8" stroke="#a00000" stroke-width="5" stroke-linecap="butt"/>
<line x1="544.1" y1="1430.8" x2="544.1" y2="1390.0" stroke="#a00000" stroke-width="5" stroke-linecap="butt"/>
<line x1="535.4" y1="1390.0" x2="552.9" y2="1390.0" stroke="#a00000" stroke-width="5" stroke-linecap="butt"/>
<line x1="544.1" y1="1430.8" x2="544.1" y2="1430.8" stroke="#a00000" stroke-width="5" stroke-linecap="butt"/>
<line x1="535.4" y1="1430.8" x2="552.9" y2="1430.8" stroke="#a00000" stroke-width="5" stroke-linecap="butt"/>
<line x1="566.6" y1="1404.7" x2="566.6" y2="1387.0" stroke="#a00000" stroke-width="5" stroke-linecap="butt"/>
<line x1="557.8" y1="1387.0" x2="575.3" y2="1387.0" stroke="#a00000" stroke-width="5" stroke-linecap="butt"/>
<line x1="566.6" y1="1404.7" x2="566.6" y2="1430.8" stroke="#a00000" stroke-width="5" stroke-linecap="butt"/>
<line x1="557.8" y1="1430.8" x2="575.3" y2="1430.8" stroke="#a00000" stroke-width="5" stroke-linecap="butt"/>
<line x1="589.0" y1="1390.8" x2="589.0" y2="1360.3" stroke="#a00000" stroke-width="5" stroke-linecap="butt"/>
<line x1="580.2" y1="1360.3" x2="597.7" y2="1360.3" stroke="#a00000" stroke-width="5" stroke-linecap="butt"/>
<line x1="589.0" y1="1390.8" x2="589.0" y2="1413.9" stroke="#a00000" stroke-width="5" stroke-linecap="butt"/>
<line x1="580.2" y1="1413.9" x2="597.7" y2="1413.9" stroke="#a00000" stroke-width="5" stroke-linecap="butt"/>
<line x1="611.4" y1="1410.0" x2="611.4" y2="1335.4" stroke="#a00000" stroke-width="5" stroke-linecap="butt"/>
<line x1="602.7" y1="1335.4" x2="620.2" y2="1335.4" stroke="#a00000" stroke-width="5" stroke-linecap="butt"/>
<line x1="611.4" y1="1410.0" x2="611.4" y2="1430.8" stroke="#a00000" stroke-width="5" stroke-linecap="butt"/>
<line x1="602.7" y1="1430.8" x2="620.2" y2="1430.8" stroke="#a00000" stroke-width="5" stroke-linecap="butt"/>
<line x1="633.8" y1="1410.0" x2="633.8" y2="1378.5" stroke="#a00000" stroke-width="5" stroke-linecap="butt"/>
<line x1="625.1" y1="1378.5" x2="642.6" y2="1378.5" stroke="#a00000" stroke-width="5" stroke-linecap="butt"/>
<line x1="633.8" y1="1410.0" x2="633.8" y2="1430.8" stroke="#a00000" stroke-width="5" stroke-linecap="butt"/>
<line x1="625.1" y1="1430.8" x2="642.6" y2="1430.8" stroke="#a00000" stroke-width="5" stroke-linecap="butt"/>
<line x1="656.3" y1="1410.0" x2="656.3" y2="1348.5" stroke="#a00000" stroke-width="5" stroke-linecap="butt"/>
<line x1="647.5" y1="1348.5" x2="665.0" y2="1348.5" stroke="#a00000" stroke-width="5" stroke-linecap="butt"/>
<line x1="656.3" y1="1410.0" x2="656.3" y2="1418.5" stroke="#a00000" stroke-width="5" stroke-linecap="butt"/>
<line x1="647.5" y1="1418.5" x2="665.0" y2="1418.5" stroke="#a00000" stroke-width="5" stroke-linecap="butt"/>
<line x1="678.7" y1="1410.0" x2="678.7" y2="1355.1" stroke="#a00000" stroke-width="5" stroke-linecap="butt"/>
<line x1="670.0" y1="1355.1" x2="687.5" y2="1355.1" stroke="#a00000" stroke-width="5" stroke-linecap="butt"/>
<line x1="678.7" y1="1410.0" x2="678.7" y2="1424.4" stroke="#a00000" stroke-width="5" stroke-linecap="butt"/>
<line x1="670.0" y1="1424.4" x2="687.5" y2="1424.4" stroke="#a00000" stroke-width="5" stroke-linecap="butt"/>
<line x1="701.1" y1="1410.0" x2="701.1" y2="1360.8" stroke="#a00000" stroke-width="5" stroke-linecap="butt"/>
<line x1="692.4" y1="1360.8" x2="709.9" y2="1360.8" stroke="#a00000" stroke-width="5" stroke-linecap="butt"/>
<line x1="701.1" y1="1410.0" x2="701.1" y2="1430.8" stroke="#a00000" stroke-width="5" stroke-linecap="butt"/>
<line x1="692.4" y1="1430.8" x2="709.9" y2="1430.8" stroke="#a00000" stroke-width="5" stroke-linecap="butt"/>
<line x1="723.6" y1="1418.5" x2="723.6" y2="1335.4" stroke="#a00000" stroke-width="5" stroke-linecap="butt"/>
<line x1="714.8" y1="1335.4" x2="732.3" y2="1335.4" stroke="#a00000" stroke-width="5" stroke-linecap="butt"/>
<line x1="723.6" y1="1418.5" x2="723.6" y2="1430.8" stroke="#a00000" stroke-width="5" stroke-linecap="butt"/>
<line x1="714.8" y1="1430.8" x2="732.3" y2="1430.8" stroke="#a00000" stroke-width="5" stroke-linecap="butt"/>
<line x1="746.0" y1="1418.5" x2="746.0" y2="1393.9" stroke="#a00000" stroke-width="5" stroke-linecap="butt"/>
<line x1="737.2" y1="1393.9" x2="754.8" y2="1393.9" stroke="#a00000" stroke-width="5" stroke-linecap="butt"/>
<line x1="746.0" y1="1418.5" x2="746.0" y2="1430.8" stroke="#a00000" stroke-width="5" stroke-linecap="butt"/>
<line x1="737.2" y1="1430.8" x2="754.8" y2="1430.8" stroke="#a00000" stroke-width="5" stroke-linecap="butt"/>
<line x1="768.4" y1="1418.5" x2="768.4" y2="1410.0" stroke="#a00000" stroke-width="5" stroke-linecap="butt"/>
<line x1="759.7" y1="1410.0" x2="777.2" y2="1410.0" stroke="#a00000" stroke-width="5" stroke-linecap="butt"/>
<line x1="768.4" y1="1418.5" x2="768.4" y2="1430.8" stroke="#a00000" stroke-width="5" stroke-linecap="butt"/>
<line x1="759.7" y1="1430.8" x2="777.2" y2="1430.8" stroke="#a00000" stroke-width="5" stroke-linecap="butt"/>
<line x1="790.9" y1="1390.3" x2="790.9" y2="1359.6" stroke="#a00000" stroke-width="5" stroke-linecap="butt"/>
<line x1="782.1" y1="1359.6" x2="799.6" y2="1359.6" stroke="#a00000" stroke-width="5" stroke-linecap="butt"/>
<line x1="790.9" y1="1390.3" x2="790.9" y2="1424.3" stroke="#a00000" stroke-width="5" stroke-linecap="butt"/>
<line x1="782.1" y1="1424.3" x2="799.6" y2="1424.3" stroke="#a00000" stroke-width="5" stroke-linecap="butt"/>
<line x1="813.3" y1="1390.3" x2="813.3" y2="1371.7" stroke="#a00000" stroke-width="5" stroke-linecap="butt"/>
<line x1="804.5" y1="1371.7" x2="822.0" y2="1371.7" stroke="#a00000" stroke-width="5" stroke-linecap="butt"/>
<line x1="813.3" y1="1390.3" x2="813.3" y2="1430.8" stroke="#a00000" stroke-width="5" stroke-linecap="butt"/>
<line x1="804.5" y1="1430.8" x2="822.0" y2="1430.8" stroke="#a00000" stroke-width="5" stroke-linecap="butt"/>
<line x1="835.7" y1="1417.4" x2="835.7" y2="1333.7" stroke="#a00000" stroke-width="5" stroke-linecap="butt"/>
<line x1="827.0" y1="1333.7" x2="844.5" y2="1333.7" stroke="#a00000" stroke-width="5" stroke-linecap="butt"/>
<line x1="835.7" y1="1417.4" x2="835.7" y2="1430.8" stroke="#a00000" stroke-width="5" stroke-linecap="butt"/>
<line x1="827.0" y1="1430.8" x2="844.5" y2="1430.8" stroke="#a00000" stroke-width="5" stroke-linecap="butt"/>
<line x1="858.1" y1="1410.8" x2="858.1" y2="1390.3" stroke="#a00000" stroke-width="5" stroke-linecap="butt"/>
<line x1="849.4" y1="1390.3" x2="866.9" y2="1390.3" stroke="#a00000" stroke-width="5" stroke-linecap="butt"/>
<line x1="858.1" y1="1410.8" x2="858.1" y2="1430.8" stroke="#a00000" stroke-width="5" stroke-linecap="butt"/>
<line x1="849.4" y1="1430.8" x2="866.9" y2="1430.8" stroke="#a00000" stroke-width="5" stroke-linecap="butt"/>
<line x1="880.6" y1="1398.6" x2="880.6" y2="1352.6" stroke="#a00000" stroke-width="5" stroke-linecap="butt"/>
<line x1="871.8" y1="1352.6" x2="889.3" y2="1352.6" stroke="#a00000" stroke-width="5" stroke-linecap="butt"/>
<line x1="880.6" y1="1398.6" x2="880.6" y2="1414.6" stroke="#a00000" stroke-width="5" stroke-linecap="butt"/>
<line x1="871.8" y1="1414.6" x2="889.3" y2="1414.6" stroke="#a00000" stroke-width="5" stroke-linecap="butt"/>
<line x1="903.0" y1="1383.1" x2="903.0" y2="1349.3" stroke="#a00000" stroke-width="5" stroke-linecap="butt"/>
<line x1="894.3" y1="1349.3" x2="911.8" y2="1349.3" stroke="#a00000" stroke-width="5" stroke-linecap="butt"/>
<line x1="903.0" y1="1383.1" x2="903.0" y2="1394.7" stroke="#a00000" stroke-width="5" stroke-linecap="butt"/>
<line x1="894.3" y1="1394.7" x2="911.8" y2="1394.7" stroke="#a00000" stroke-width="5" stroke-linecap="butt"/>
<line x1="925.4" y1="1387.5" x2="925.4" y2="1347.6" stroke="#a00000" stroke-width="5" stroke-linecap="butt"/>
<line x1="916.7" y1="1347.6" x2="934.2" y2="1347.6" stroke="#a00000" stroke-width="5" stroke-linecap="butt"/>
<line x1="925.4" y1="1387.5" x2="925.4" y2="1394.1" stroke="#a00000" stroke-width="5" stroke-linecap="butt"/>
<line x1="916.7" y1="1394.1" x2="934.2" y2="1394.1" stroke="#a00000" stroke-width="5" stroke-linecap="butt"/>
<polyline points="364.7,1391.6 387.1,1408.5 409.5,1398.5 432.0,1407.8 454.4,1429.3 476.8,1410.0 499.3,1410.0 521.7,1429.3 544.1,1430.8 566.6,1404.7 589.0,1390.8 611.4,1410.0 633.8,1410.0 656.3,1410.0 678.7,1410.0 701.1,1410.0 723.6,1418.5 746.0,1418.5 768.4,1418.5 790.9,1390.3 813.3,1390.3 835.7,1417.4 858.1,1410.8 880.6,1398.6 903.0,1383.1 925.4,1387.5" fill="none" stroke="#a00000" stroke-width="5" stroke-linejoin="miter"/>
<line x1="1284.5" y1="1208.6" x2="1284.5" y2="1438.1" stroke="#000" stroke-width="6.5" stroke-linecap="butt"/>
<line x1="1270.0" y1="1211.9" x2="1284.5" y2="1211.9" stroke="#000" stroke-width="6.5" stroke-linecap="butt"/>
<text x="1256.0" y="1227.8" font-size="40" text-anchor="end" fill="#000">1,000</text>
<line x1="1270.0" y1="1267.7" x2="1284.5" y2="1267.7" stroke="#000" stroke-width="6.5" stroke-linecap="butt"/>
<text x="1256.0" y="1283.6" font-size="40" text-anchor="end" fill="#000">100</text>
<line x1="1270.0" y1="1323.4" x2="1284.5" y2="1323.4" stroke="#000" stroke-width="6.5" stroke-linecap="butt"/>
<text x="1256.0" y="1339.3" font-size="40" text-anchor="end" fill="#000">10</text>
<line x1="1270.0" y1="1379.1" x2="1284.5" y2="1379.1" stroke="#000" stroke-width="6.5" stroke-linecap="butt"/>
<text x="1256.0" y="1395.0" font-size="40" text-anchor="end" fill="#000">1</text>
<line x1="1270.0" y1="1434.9" x2="1284.5" y2="1434.9" stroke="#000" stroke-width="6.5" stroke-linecap="butt"/>
<text x="1256.0" y="1450.8" font-size="40" text-anchor="end" fill="#000">0</text>
<line x1="1326.6" y1="1479.8" x2="1601.0" y2="1479.8" stroke="#000" stroke-width="6.5" stroke-linecap="butt"/>
<line x1="1418.3" y1="1479.8" x2="1418.3" y2="1492.4" stroke="#000" stroke-width="6.5" stroke-linecap="butt"/>
<line x1="1507.5" y1="1479.8" x2="1507.5" y2="1492.4" stroke="#000" stroke-width="6.5" stroke-linecap="butt"/>
<text x="1404.9" y="1544.5" font-size="40" text-anchor="middle" fill="#000" textLength="61.0" lengthAdjust="spacingAndGlyphs">Ctrl</text>
<text x="1526.3" y="1544.5" font-size="40" text-anchor="middle" fill="#000" textLength="92.0" lengthAdjust="spacingAndGlyphs">hEHT</text>
<text transform="translate(1087.5,1346.8) rotate(-90)" font-size="40" text-anchor="middle" fill="#000" textLength="305.6" lengthAdjust="spacingAndGlyphs">Arrhytmic events</text>
<text transform="translate(1141.5,1346.7) rotate(-90)" font-size="40" text-anchor="middle" fill="#000" textLength="391.9" lengthAdjust="spacingAndGlyphs">(total amount d10-35)</text>
<line x1="1374.2" y1="1281.0" x2="1462.3" y2="1281.0" stroke="#000" stroke-width="5" stroke-linecap="butt"/>
<line x1="1418.3" y1="1261.5" x2="1418.3" y2="1286.7" stroke="#000" stroke-width="5" stroke-linecap="butt"/>
<line x1="1396.8" y1="1261.5" x2="1439.8" y2="1261.5" stroke="#000" stroke-width="5" stroke-linecap="butt"/>
<line x1="1396.8" y1="1286.7" x2="1439.8" y2="1286.7" stroke="#000" stroke-width="5" stroke-linecap="butt"/>
<circle cx="1418.3" cy="1237.1" r="6.8" fill="#000"/>
<circle cx="1418.3" cy="1258.7" r="6.8" fill="#000"/>
<circle cx="1453.5" cy="1269.4" r="6.8" fill="#000"/>
<circle cx="1383.4" cy="1277.7" r="6.8" fill="#000"/>
<circle cx="1401.4" cy="1286.7" r="6.8" fill="#000"/>
<circle cx="1418.3" cy="1290.3" r="6.8" fill="#000"/>
<circle cx="1435.5" cy="1286.7" r="6.8" fill="#000"/>
<circle cx="1418.3" cy="1328.8" r="6.8" fill="#000"/>
<line x1="1463.7" y1="1278.4" x2="1551.3" y2="1278.4" stroke="#000" stroke-width="5" stroke-linecap="butt"/>
<line x1="1507.5" y1="1256.9" x2="1507.5" y2="1300.0" stroke="#000" stroke-width="5" stroke-linecap="butt"/>
<line x1="1486.5" y1="1256.9" x2="1528.5" y2="1256.9" stroke="#000" stroke-width="5" stroke-linecap="butt"/>
<line x1="1486.5" y1="1300.0" x2="1528.5" y2="1300.0" stroke="#000" stroke-width="5" stroke-linecap="butt"/>
<circle cx="1507.5" cy="1227.4" r="6.8" fill="#a00000"/>
<circle cx="1497.4" cy="1253.3" r="6.8" fill="#a00000"/>
<circle cx="1517.5" cy="1258.7" r="6.8" fill="#a00000"/>
<circle cx="1487.0" cy="1272.3" r="6.8" fill="#a00000"/>
<circle cx="1507.5" cy="1280.2" r="6.8" fill="#a00000"/>
<circle cx="1538.0" cy="1279.2" r="6.8" fill="#a00000"/>
<circle cx="1528.3" cy="1287.4" r="6.8" fill="#a00000"/>
<circle cx="1487.0" cy="1298.2" r="6.8" fill="#a00000"/>
<circle cx="1507.5" cy="1307.2" r="6.8" fill="#a00000"/>
<circle cx="1507.5" cy="1362.9" r="6.8" fill="#a00000"/>
<circle cx="135" cy="1814.4" r="51.8" fill="#fff"/>
<circle cx="135" cy="1814.4" r="51.8" fill="#000"/>
<circle cx="135" cy="1814.4" r="51.8" fill="none" stroke="#000" stroke-width="3"/>
<text x="135.0" y="1829.9" font-size="40" text-anchor="middle" fill="#fff">8</text>
<circle cx="246.4" cy="1814.4" r="51.8" fill="#fff"/>
<circle cx="246.4" cy="1814.4" r="51.8" fill="#a00000"/>
<circle cx="246.4" cy="1814.4" r="51.8" fill="none" stroke="#000" stroke-width="3"/>
<text x="246.4" y="1829.9" font-size="40" text-anchor="middle" fill="#fff">10</text>
<circle cx="389" cy="1814.4" r="51.8" fill="#fff"/>
<path d="M389,1814.4 L389,1762.6000000000001 A51.8,51.8 0 1 1 352.37,1777.77 Z" fill="#000"/>
<circle cx="389" cy="1814.4" r="51.8" fill="none" stroke="#000" stroke-width="3"/>
<text x="410.0" y="1829.9" font-size="40" text-anchor="middle" fill="#fff">7</text>
<circle cx="500.4" cy="1814.4" r="51.8" fill="#fff"/>
<path d="M500.4,1814.4 L500.4,1762.6000000000001 A51.8,51.8 0 1 1 451.14,1830.41 Z" fill="#a00000"/>
<circle cx="500.4" cy="1814.4" r="51.8" fill="none" stroke="#000" stroke-width="3"/>
<text x="521.0" y="1829.9" font-size="40" text-anchor="middle" fill="#fff">7</text>
<circle cx="135" cy="2006" r="51.8" fill="#fff"/>
<path d="M135,2006 L135,1954.2 A51.8,51.8 0 1 1 83.20,2006.00 Z" fill="#000"/>
<circle cx="135" cy="2006" r="51.8" fill="none" stroke="#000" stroke-width="3"/>
<text x="153.5" y="2021.5" font-size="40" text-anchor="middle" fill="#fff">6</text>
<circle cx="246.4" cy="2006" r="51.8" fill="#fff"/>
<path d="M246.4,2006 L246.4,1954.2 A51.8,51.8 0 0 1 246.40,2057.80 Z" fill="#a00000"/>
<circle cx="246.4" cy="2006" r="51.8" fill="none" stroke="#000" stroke-width="3"/>
<text x="269.0" y="2021.5" font-size="40" text-anchor="middle" fill="#fff">5</text>
<circle cx="389" cy="2006" r="51.8" fill="#fff"/>
<circle cx="389" cy="2006" r="51.8" fill="none" stroke="#000" stroke-width="3"/>
<text x="389.0" y="2021.5" font-size="40" text-anchor="middle" fill="#000">0</text>
<circle cx="500.4" cy="2006" r="51.8" fill="#fff"/>
<circle cx="500.4" cy="2006" r="51.8" fill="none" stroke="#000" stroke-width="3"/>
<text x="500.4" y="2021.5" font-size="40" text-anchor="middle" fill="#000">0</text>
<text x="192.6" y="1745.3" font-size="40" text-anchor="middle" fill="#000" textLength="69.0" lengthAdjust="spacingAndGlyphs">PVC</text>
<text x="442.4" y="1745.3" font-size="40" text-anchor="middle" fill="#000" textLength="142.0" lengthAdjust="spacingAndGlyphs">coupled</text>
<text x="191.0" y="1936.6" font-size="40" text-anchor="middle" fill="#000" textLength="85.5" lengthAdjust="spacingAndGlyphs">nsVT</text>
<text x="442.3" y="1936.6" font-size="40" text-anchor="middle" fill="#000" textLength="103.0" lengthAdjust="spacingAndGlyphs">susVT</text>
<circle cx="92.6" cy="2185.3" r="22.6" fill="#000"/>
<text x="125.2" y="2200.0" font-size="40" text-anchor="start" fill="#000" textLength="186.8" lengthAdjust="spacingAndGlyphs">Ctrl (n = 8)</text>
<circle cx="364.5" cy="2185.3" r="22.6" fill="#a00000"/>
<text x="400.2" y="2200.0" font-size="40" text-anchor="start" fill="#000" textLength="237.8" lengthAdjust="spacingAndGlyphs">hEHT (n = 10)</text>
<line x1="937.0" y1="1718.6" x2="937.0" y2="1947.5" stroke="#000" stroke-width="6.5" stroke-linecap="butt"/>
<line x1="922.5" y1="1721.8" x2="937.0" y2="1721.8" stroke="#000" stroke-width="6.5" stroke-linecap="butt"/>
<text x="917.0" y="1737.6" font-size="40" text-anchor="end" fill="#000">10</text>
<line x1="922.5" y1="1777.0" x2="937.0" y2="1777.0" stroke="#000" stroke-width="6.5" stroke-linecap="butt"/>
<text x="917.0" y="1792.8" font-size="40" text-anchor="end" fill="#000">1</text>
<line x1="922.5" y1="1832.7" x2="937.0" y2="1832.7" stroke="#000" stroke-width="6.5" stroke-linecap="butt"/>
<text x="917.0" y="1848.5" font-size="40" text-anchor="end" fill="#000">0.1</text>
<line x1="922.5" y1="1888.5" x2="937.0" y2="1888.5" stroke="#000" stroke-width="6.5" stroke-linecap="butt"/>
<text x="917.0" y="1904.3" font-size="40" text-anchor="end" fill="#000">0.01</text>
<line x1="922.5" y1="1943.6" x2="937.0" y2="1943.6" stroke="#000" stroke-width="6.5" stroke-linecap="butt"/>
<text x="917.0" y="1959.4" font-size="40" text-anchor="end" fill="#000">0.001</text>
<line x1="978.2" y1="1989.0" x2="1624.0" y2="1989.0" stroke="#000" stroke-width="6.5" stroke-linecap="butt"/>
<line x1="1061.3" y1="1989.0" x2="1061.3" y2="2002.2" stroke="#000" stroke-width="6.5" stroke-linecap="butt"/>
<line x1="1220.5" y1="1989.0" x2="1220.5" y2="2002.2" stroke="#000" stroke-width="6.5" stroke-linecap="butt"/>
<line x1="1380.2" y1="1989.0" x2="1380.2" y2="2002.2" stroke="#000" stroke-width="6.5" stroke-linecap="butt"/>
<line x1="1540.1" y1="1989.0" x2="1540.1" y2="2002.2" stroke="#000" stroke-width="6.5" stroke-linecap="butt"/>
<text transform="translate(729.3,1842.2) rotate(-90)" font-size="40" text-anchor="middle" fill="#000" textLength="332.0" lengthAdjust="spacingAndGlyphs">Arrhythmic events</text>
<text transform="translate(782.4,1844.5) rotate(-90)" font-size="40" text-anchor="middle" fill="#000" textLength="322.8" lengthAdjust="spacingAndGlyphs">(per hour d10-35)</text>
<text transform="translate(1068.0,2034.0) rotate(-50)" font-size="40" text-anchor="end" fill="#000">total</text>
<text transform="translate(1233.7,2034.0) rotate(-50)" font-size="40" text-anchor="end" fill="#000" textLength="66.0" lengthAdjust="spacingAndGlyphs">PVC</text>
<text transform="translate(1390.7,2034.0) rotate(-50)" font-size="40" text-anchor="end" fill="#000">coupled</text>
<text transform="translate(1557.0,2034.5) rotate(-50)" font-size="40" text-anchor="end" fill="#000" textLength="86.0" lengthAdjust="spacingAndGlyphs">nsVT</text>
<line x1="1007.6" y1="1793.0" x2="1063.0" y2="1793.0" stroke="#000" stroke-width="5" stroke-linecap="butt"/>
<line x1="1035.3" y1="1774.5" x2="1035.3" y2="1801.3" stroke="#000" stroke-width="5" stroke-linecap="butt"/>
<line x1="1021.8" y1="1774.5" x2="1048.8" y2="1774.5" stroke="#000" stroke-width="5" stroke-linecap="butt"/>
<line x1="1035.3" y1="1793.0" x2="1035.3" y2="1801.3" stroke="#000" stroke-width="5" stroke-linecap="butt"/>
<line x1="1021.8" y1="1801.3" x2="1048.8" y2="1801.3" stroke="#000" stroke-width="5" stroke-linecap="butt"/>
<circle cx="1035.3" cy="1751.4" r="7" fill="#000"/>
<circle cx="1035.3" cy="1771.7" r="7" fill="#000"/>
<circle cx="1051.9" cy="1783.7" r="7" fill="#000"/>
<circle cx="1017.7" cy="1790.2" r="7" fill="#000"/>
<circle cx="1043.6" cy="1793.0" r="7" fill="#000"/>
<circle cx="1026.9" cy="1799.4" r="7" fill="#000"/>
<circle cx="1035.3" cy="1801.3" r="7" fill="#000"/>
<circle cx="1035.3" cy="1842.9" r="7" fill="#000"/>
<line x1="1063.1" y1="1793.0" x2="1113.9" y2="1793.0" stroke="#000" stroke-width="5" stroke-linecap="butt"/>
<line x1="1088.5" y1="1769.9" x2="1088.5" y2="1805.3" stroke="#000" stroke-width="5" stroke-linecap="butt"/>
<line x1="1075.0" y1="1769.9" x2="1102.0" y2="1769.9" stroke="#000" stroke-width="5" stroke-linecap="butt"/>
<line x1="1088.5" y1="1793.0" x2="1088.5" y2="1805.3" stroke="#000" stroke-width="5" stroke-linecap="butt"/>
<line x1="1075.0" y1="1805.3" x2="1102.0" y2="1805.3" stroke="#000" stroke-width="5" stroke-linecap="butt"/>
<circle cx="1088.5" cy="1742.5" r="7" fill="#a00000"/>
<circle cx="1077.8" cy="1768.0" r="7" fill="#a00000"/>
<circle cx="1108.8" cy="1771.4" r="7" fill="#a00000"/>
<circle cx="1098.6" cy="1785.6" r="7" fill="#a00000"/>
<circle cx="1070.4" cy="1792.4" r="7" fill="#a00000"/>
<circle cx="1081.4" cy="1795.7" r="7" fill="#a00000"/>
<circle cx="1095.3" cy="1793.9" r="7" fill="#a00000"/>
<circle cx="1077.8" cy="1801.3" r="7" fill="#a00000"/>
<circle cx="1098.6" cy="1821.6" r="7" fill="#a00000"/>
<circle cx="1088.5" cy="1861.3" r="7" fill="#a00000"/>
<line x1="1166.5" y1="1796.1" x2="1222.9" y2="1796.1" stroke="#000" stroke-width="5" stroke-linecap="butt"/>
<line x1="1194.7" y1="1777.6" x2="1194.7" y2="1805.9" stroke="#000" stroke-width="5" stroke-linecap="butt"/>
<line x1="1181.2" y1="1777.6" x2="1208.2" y2="1777.6" stroke="#000" stroke-width="5" stroke-linecap="butt"/>
<line x1="1194.7" y1="1796.1" x2="1194.7" y2="1805.9" stroke="#000" stroke-width="5" stroke-linecap="butt"/>
<line x1="1181.2" y1="1805.9" x2="1208.2" y2="1805.9" stroke="#000" stroke-width="5" stroke-linecap="butt"/>
<circle cx="1194.7" cy="1752.3" r="7" fill="#000"/>
<circle cx="1194.7" cy="1774.5" r="7" fill="#000"/>
<circle cx="1211.3" cy="1786.1" r="7" fill="#000"/>
<circle cx="1178.1" cy="1792.0" r="7" fill="#000"/>
<circle cx="1202.5" cy="1797.6" r="7" fill="#000"/>
<circle cx="1185.8" cy="1802.2" r="7" fill="#000"/>
<circle cx="1194.7" cy="1806.8" r="7" fill="#000"/>
<circle cx="1194.7" cy="1842.9" r="7" fill="#000"/>
<line x1="1223.1" y1="1796.1" x2="1273.0" y2="1796.1" stroke="#000" stroke-width="5" stroke-linecap="butt"/>
<line x1="1248.1" y1="1775.0" x2="1248.1" y2="1806.8" stroke="#000" stroke-width="5" stroke-linecap="butt"/>
<line x1="1234.6" y1="1775.0" x2="1261.6" y2="1775.0" stroke="#000" stroke-width="5" stroke-linecap="butt"/>
<line x1="1248.1" y1="1796.1" x2="1248.1" y2="1806.8" stroke="#000" stroke-width="5" stroke-linecap="butt"/>
<line x1="1234.6" y1="1806.8" x2="1261.6" y2="1806.8" stroke="#000" stroke-width="5" stroke-linecap="butt"/>
<circle cx="1248.1" cy="1742.5" r="7" fill="#a00000"/>
<circle cx="1237.6" cy="1775.4" r="7" fill="#a00000"/>
<circle cx="1258.2" cy="1773.9" r="7" fill="#a00000"/>
<circle cx="1264.9" cy="1790.2" r="7" fill="#a00000"/>
<circle cx="1231.1" cy="1795.7" r="7" fill="#a00000"/>
<circle cx="1239.4" cy="1797.6" r="7" fill="#a00000"/>
<circle cx="1256.0" cy="1796.7" r="7" fill="#a00000"/>
<circle cx="1248.1" cy="1802.2" r="7" fill="#a00000"/>
<circle cx="1258.2" cy="1821.6" r="7" fill="#a00000"/>
<circle cx="1237.6" cy="1830.8" r="7" fill="#a00000"/>
<line x1="1327.8" y1="1852.7" x2="1380.8" y2="1852.7" stroke="#000" stroke-width="5" stroke-linecap="butt"/>
<line x1="1354.3" y1="1840.6" x2="1354.3" y2="1870.6" stroke="#000" stroke-width="5" stroke-linecap="butt"/>
<line x1="1340.8" y1="1840.6" x2="1367.8" y2="1840.6" stroke="#000" stroke-width="5" stroke-linecap="butt"/>
<line x1="1354.3" y1="1852.7" x2="1354.3" y2="1870.6" stroke="#000" stroke-width="5" stroke-linecap="butt"/>
<line x1="1340.8" y1="1870.6" x2="1367.8" y2="1870.6" stroke="#000" stroke-width="5" stroke-linecap="butt"/>
<circle cx="1354.3" cy="1833.3" r="7" fill="#000"/>
<circle cx="1364.8" cy="1839.7" r="7" fill="#000"/>
<circle cx="1336.2" cy="1845.3" r="7" fill="#000"/>
<circle cx="1361.1" cy="1849.9" r="7" fill="#000"/>
<circle cx="1345.4" cy="1856.3" r="7" fill="#000"/>
<circle cx="1344.5" cy="1859.1" r="7" fill="#000"/>
<circle cx="1364.8" cy="1876.7" r="7" fill="#000"/>
<circle cx="1354.3" cy="1944.1" r="7" fill="#000"/>
<line x1="1380.9" y1="1871.1" x2="1434.5" y2="1871.1" stroke="#000" stroke-width="5" stroke-linecap="butt"/>
<line x1="1407.7" y1="1833.8" x2="1407.7" y2="1944.1" stroke="#000" stroke-width="5" stroke-linecap="butt"/>
<line x1="1394.2" y1="1833.8" x2="1421.2" y2="1833.8" stroke="#000" stroke-width="5" stroke-linecap="butt"/>
<line x1="1407.7" y1="1871.1" x2="1407.7" y2="1944.1" stroke="#000" stroke-width="5" stroke-linecap="butt"/>
<line x1="1394.2" y1="1944.1" x2="1421.2" y2="1944.1" stroke="#000" stroke-width="5" stroke-linecap="butt"/>
<circle cx="1397.5" cy="1821.8" r="7" fill="#a00000"/>
<circle cx="1417.8" cy="1831.4" r="7" fill="#a00000"/>
<circle cx="1400.8" cy="1835.7" r="7" fill="#a00000"/>
<circle cx="1414.7" cy="1841.0" r="7" fill="#a00000"/>
<circle cx="1407.7" cy="1866.9" r="7" fill="#a00000"/>
<circle cx="1397.5" cy="1876.7" r="7" fill="#a00000"/>
<circle cx="1417.8" cy="1893.8" r="7" fill="#a00000"/>
<circle cx="1390.7" cy="1944.1" r="7" fill="#a00000"/>
<circle cx="1407.7" cy="1944.1" r="7" fill="#a00000"/>
<circle cx="1424.5" cy="1944.1" r="7" fill="#a00000"/>
<line x1="1487.6" y1="1892.4" x2="1540.6" y2="1892.4" stroke="#000" stroke-width="5" stroke-linecap="butt"/>
<line x1="1514.1" y1="1879.1" x2="1514.1" y2="1919.2" stroke="#000" stroke-width="5" stroke-linecap="butt"/>
<line x1="1500.6" y1="1879.1" x2="1527.6" y2="1879.1" stroke="#000" stroke-width="5" stroke-linecap="butt"/>
<line x1="1514.1" y1="1892.4" x2="1514.1" y2="1919.2" stroke="#000" stroke-width="5" stroke-linecap="butt"/>
<line x1="1500.6" y1="1919.2" x2="1527.6" y2="1919.2" stroke="#000" stroke-width="5" stroke-linecap="butt"/>
<circle cx="1514.1" cy="1865.0" r="7" fill="#000"/>
<circle cx="1531.1" cy="1876.7" r="7" fill="#000"/>
<circle cx="1496.9" cy="1887.8" r="7" fill="#000"/>
<circle cx="1505.8" cy="1892.4" r="7" fill="#000"/>
<circle cx="1514.1" cy="1894.2" r="7" fill="#000"/>
<circle cx="1522.8" cy="1891.4" r="7" fill="#000"/>
<circle cx="1503.9" cy="1944.1" r="7" fill="#000"/>
<circle cx="1524.3" cy="1944.1" r="7" fill="#000"/>
<line x1="1540.3" y1="1907.5" x2="1593.9" y2="1907.5" stroke="#000" stroke-width="5" stroke-linecap="butt"/>
<line x1="1567.1" y1="1857.6" x2="1567.1" y2="1944.1" stroke="#000" stroke-width="5" stroke-linecap="butt"/>
<line x1="1553.6" y1="1857.6" x2="1580.6" y2="1857.6" stroke="#000" stroke-width="5" stroke-linecap="butt"/>
<line x1="1567.1" y1="1907.5" x2="1567.1" y2="1944.1" stroke="#000" stroke-width="5" stroke-linecap="butt"/>
<line x1="1553.6" y1="1944.1" x2="1580.6" y2="1944.1" stroke="#000" stroke-width="5" stroke-linecap="butt"/>
<circle cx="1557.0" cy="1834.2" r="7" fill="#a00000"/>
<circle cx="1577.6" cy="1841.0" r="7" fill="#a00000"/>
<circle cx="1567.1" cy="1866.9" r="7" fill="#a00000"/>
<circle cx="1557.0" cy="1876.7" r="7" fill="#a00000"/>
<circle cx="1577.6" cy="1893.3" r="7" fill="#a00000"/>
<circle cx="1550.5" cy="1944.1" r="7" fill="#a00000"/>
<circle cx="1558.8" cy="1944.1" r="7" fill="#a00000"/>
<circle cx="1567.1" cy="1944.1" r="7" fill="#a00000"/>
<circle cx="1575.4" cy="1944.1" r="7" fill="#a00000"/>
<circle cx="1583.7" cy="1944.1" r="7" fill="#a00000"/>
</svg>
</body></html>
